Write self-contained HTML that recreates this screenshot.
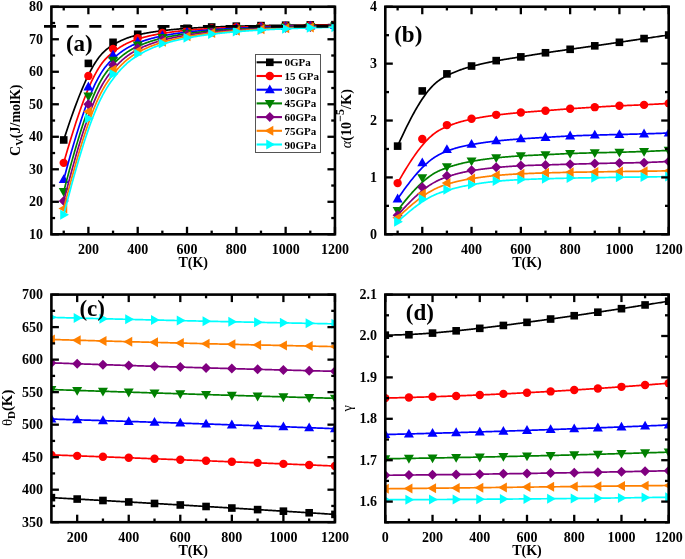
<!DOCTYPE html>
<html><head><meta charset="utf-8"><title>figure</title>
<style>html,body{margin:0;padding:0;background:#fff;}body{width:685px;height:559px;overflow:hidden;}
svg{display:block;will-change:transform;}text{font-family:"Liberation Serif",serif;}</style></head>
<body><svg width="685" height="559" viewBox="0 0 685 559" font-family='"Liberation Serif", serif'><defs><clipPath id="clipa"><rect x="51.4" y="6.75" width="283.55" height="227.55"/></clipPath><clipPath id="clipb"><rect x="385.3" y="6.75" width="283.40000000000003" height="227.55"/></clipPath><clipPath id="clipc"><rect x="51.4" y="294.6" width="283.55" height="227.60000000000002"/></clipPath><clipPath id="clipd"><rect x="385.3" y="294.6" width="283.40000000000003" height="227.69999999999993"/></clipPath></defs>
<g clip-path="url(#clipa)"><polyline points="63.73,139.96 65.38,134.88 66.99,130.00 68.57,125.30 70.11,120.80 71.61,116.48 73.09,112.35 74.53,108.38 75.93,104.59 77.31,100.97 78.65,97.51 79.96,94.21 81.24,91.06 82.50,88.07 83.72,85.22 84.92,82.51 86.09,79.94 87.23,77.50 88.35,75.19 89.45,73.01 90.51,70.94 91.56,69.00 92.58,67.16 93.58,65.43 94.56,63.81 95.52,62.28 96.46,60.85 97.38,59.51 98.28,58.25 99.16,57.08 100.03,55.98 100.88,54.96 101.71,54.01 102.53,53.12 103.34,52.29 104.13,51.52 104.91,50.80 105.67,50.12 106.43,49.49 107.17,48.90 107.91,48.35 108.63,47.82 109.35,47.32 110.05,46.85 110.75,46.39 111.45,45.94 112.14,45.51 112.82,45.09 113.49,44.68 114.16,44.28 114.83,43.89 115.49,43.51 116.14,43.14 116.79,42.79 117.44,42.44 118.07,42.10 118.71,41.77 119.34,41.46 119.96,41.15 120.58,40.85 121.20,40.56 121.81,40.27 122.42,40.00 123.02,39.73 123.63,39.47 124.22,39.22 124.82,38.98 125.41,38.74 126.00,38.51 126.58,38.29 127.16,38.07 127.74,37.86 128.32,37.66 128.89,37.46 129.47,37.27 130.04,37.08 130.61,36.90 131.17,36.72 131.74,36.55 132.30,36.38 132.86,36.22 133.42,36.06 133.98,35.91 134.54,35.75 135.10,35.61 135.66,35.46 136.21,35.32 136.77,35.18 137.33,35.04 137.88,34.91 138.44,34.77 139.00,34.64 139.55,34.51 140.11,34.39 140.66,34.26 141.22,34.14 141.78,34.02 142.33,33.90 142.89,33.79 143.44,33.67 144.00,33.56 144.56,33.45 145.11,33.34 145.67,33.23 146.23,33.13 146.78,33.02 147.34,32.92 147.89,32.82 148.45,32.72 149.01,32.62 149.56,32.53 150.12,32.43 150.67,32.34 151.23,32.25 151.79,32.16 152.34,32.07 152.90,31.98 153.46,31.90 154.01,31.81 154.57,31.73 155.12,31.65 155.68,31.57 156.24,31.49 156.79,31.41 157.35,31.33 157.91,31.26 158.46,31.18 159.02,31.11 159.57,31.03 160.13,30.96 160.69,30.89 161.24,30.82 161.80,30.75 162.35,30.69 162.91,30.62 163.47,30.55 164.02,30.49 164.58,30.42 165.14,30.36 165.69,30.30 166.25,30.24 166.80,30.17 167.36,30.11 167.92,30.05 168.47,30.00 169.03,29.94 169.58,29.88 170.14,29.82 170.70,29.77 171.25,29.71 171.81,29.66 172.37,29.61 172.92,29.55 173.48,29.50 174.03,29.45 174.59,29.40 175.15,29.35 175.70,29.30 176.26,29.25 176.81,29.20 177.37,29.16 177.93,29.11 178.48,29.06 179.04,29.02 179.60,28.97 180.15,28.93 180.71,28.88 181.26,28.84 181.82,28.80 182.38,28.75 182.93,28.71 183.49,28.67 184.04,28.63 184.60,28.59 185.16,28.55 185.71,28.51 186.27,28.47 186.83,28.43 187.38,28.39 187.94,28.35 188.49,28.32 189.05,28.28 189.61,28.24 190.16,28.21 190.72,28.17 191.27,28.14 191.83,28.10 192.39,28.07 192.94,28.03 193.50,28.00 194.06,27.96 194.61,27.93 195.17,27.90 195.72,27.87 196.28,27.83 196.84,27.80 197.39,27.77 197.95,27.74 198.50,27.71 199.06,27.68 199.62,27.65 200.17,27.62 200.73,27.59 201.29,27.56 201.84,27.53 202.40,27.50 202.95,27.48 203.51,27.45 204.07,27.42 204.62,27.39 205.18,27.37 205.73,27.34 206.29,27.31 206.85,27.29 207.40,27.26 207.96,27.24 208.52,27.21 209.07,27.18 209.63,27.16 210.18,27.14 210.74,27.11 211.30,27.09 211.85,27.06 212.41,27.04 212.97,27.02 213.52,26.99 214.08,26.97 214.63,26.95 215.19,26.92 215.75,26.90 216.30,26.88 216.86,26.86 217.41,26.84 217.97,26.81 218.53,26.79 219.08,26.77 219.64,26.75 220.20,26.73 220.75,26.71 221.31,26.69 221.86,26.67 222.42,26.65 222.98,26.63 223.53,26.61 224.09,26.59 224.64,26.57 225.20,26.55 225.76,26.53 226.31,26.52 226.87,26.50 227.43,26.48 227.98,26.46 228.54,26.44 229.09,26.42 229.65,26.41 230.21,26.39 230.76,26.37 231.32,26.35 231.87,26.34 232.43,26.32 232.99,26.30 233.54,26.29 234.10,26.27 234.66,26.25 235.21,26.24 235.77,26.22 236.32,26.21 236.88,26.19 237.44,26.18 237.99,26.16 238.55,26.14 239.10,26.13 239.66,26.11 240.22,26.10 240.77,26.08 241.33,26.07 241.89,26.05 242.44,26.04 243.00,26.03 243.55,26.01 244.11,26.00 244.67,25.98 245.22,25.97 245.78,25.96 246.33,25.94 246.89,25.93 247.45,25.92 248.00,25.90 248.56,25.89 249.12,25.88 249.67,25.86 250.23,25.85 250.78,25.84 251.34,25.82 251.90,25.81 252.45,25.80 253.01,25.79 253.56,25.77 254.12,25.76 254.68,25.75 255.23,25.74 255.79,25.73 256.35,25.71 256.90,25.70 257.46,25.69 258.01,25.68 258.57,25.67 259.13,25.66 259.68,25.65 260.24,25.63 260.80,25.62 261.35,25.61 261.91,25.60 262.46,25.59 263.02,25.58 263.58,25.57 264.14,25.56 264.70,25.55 265.25,25.54 265.82,25.53 266.38,25.52 266.94,25.51 267.51,25.50 268.07,25.49 268.64,25.48 269.21,25.47 269.78,25.46 270.36,25.45 270.94,25.44 271.52,25.43 272.10,25.42 272.68,25.41 273.27,25.40 273.86,25.39 274.46,25.38 275.05,25.37 275.65,25.36 276.26,25.35 276.87,25.34 277.48,25.33 278.10,25.32 278.72,25.31 279.34,25.30 279.97,25.29 280.60,25.28 281.24,25.27 281.89,25.26 282.54,25.25 283.19,25.24 283.85,25.23 284.51,25.22 285.18,25.21 285.86,25.20 286.54,25.19 287.23,25.19 287.92,25.18 288.62,25.17 289.33,25.16 290.05,25.15 290.77,25.14 291.51,25.13 292.25,25.12 293.00,25.11 293.77,25.10 294.55,25.09 295.34,25.08 296.15,25.07 296.96,25.06 297.80,25.05 298.65,25.04 299.51,25.03 300.40,25.01 301.30,25.00 302.22,24.99 303.16,24.98 304.12,24.97 305.09,24.96 306.10,24.95 307.12,24.94 308.16,24.93 309.23,24.91 310.33,24.90 311.44,24.89 312.59,24.88 313.76,24.87 314.96,24.85 316.18,24.84 317.43,24.83 318.72,24.82 320.03,24.80 321.37,24.79 322.75,24.78 324.15,24.76 325.59,24.75 327.06,24.73 328.57,24.72 330.11,24.70 331.69,24.69 333.30,24.67 334.95,24.66" fill="none" stroke="#000000" stroke-width="1.7" stroke-linejoin="round"/><rect x="59.93" y="136.16" width="7.60" height="7.60" fill="#000000"/><rect x="84.58" y="59.59" width="7.60" height="7.60" fill="#000000"/><rect x="109.24" y="38.51" width="7.60" height="7.60" fill="#000000"/><rect x="133.90" y="30.45" width="7.60" height="7.60" fill="#000000"/><rect x="158.55" y="26.60" width="7.60" height="7.60" fill="#000000"/><rect x="183.21" y="24.48" width="7.60" height="7.60" fill="#000000"/><rect x="207.87" y="23.20" width="7.60" height="7.60" fill="#000000"/><rect x="232.52" y="22.36" width="7.60" height="7.60" fill="#000000"/><rect x="257.18" y="21.79" width="7.60" height="7.60" fill="#000000"/><rect x="281.84" y="21.39" width="7.60" height="7.60" fill="#000000"/><rect x="306.49" y="21.09" width="7.60" height="7.60" fill="#000000"/><rect x="331.15" y="20.86" width="7.60" height="7.60" fill="#000000"/><polyline points="63.73,162.86 65.38,157.09 66.99,151.54 68.57,146.20 70.11,141.07 71.61,136.15 73.09,131.43 74.53,126.90 75.93,122.57 77.31,118.42 78.65,114.45 79.96,110.66 81.24,107.04 82.50,103.59 83.72,100.31 84.92,97.18 86.09,94.20 87.23,91.38 88.35,88.70 89.45,86.15 90.51,83.74 91.56,81.47 92.58,79.31 93.58,77.28 94.56,75.36 95.52,73.56 96.46,71.86 97.38,70.26 98.28,68.76 99.16,67.35 100.03,66.03 100.88,64.79 101.71,63.63 102.53,62.55 103.34,61.53 104.13,60.57 104.91,59.68 105.67,58.84 106.43,58.05 107.17,57.30 107.91,56.59 108.63,55.92 109.35,55.28 110.05,54.67 110.75,54.08 111.45,53.51 112.14,52.95 112.82,52.40 113.49,51.87 114.16,51.35 114.83,50.85 115.49,50.36 116.14,49.89 116.79,49.42 117.44,48.97 118.07,48.53 118.71,48.11 119.34,47.70 119.96,47.29 120.58,46.90 121.20,46.52 121.81,46.16 122.42,45.80 123.02,45.45 123.63,45.11 124.22,44.78 124.82,44.46 125.41,44.15 126.00,43.85 126.58,43.56 127.16,43.28 127.74,43.00 128.32,42.73 128.89,42.47 129.47,42.22 130.04,41.97 130.61,41.73 131.17,41.50 131.74,41.27 132.30,41.05 132.86,40.83 133.42,40.62 133.98,40.41 134.54,40.21 135.10,40.01 135.66,39.82 136.21,39.63 136.77,39.44 137.33,39.26 137.88,39.08 138.44,38.90 139.00,38.73 139.55,38.56 140.11,38.39 140.66,38.22 141.22,38.06 141.78,37.90 142.33,37.74 142.89,37.58 143.44,37.43 144.00,37.28 144.56,37.13 145.11,36.98 145.67,36.84 146.23,36.70 146.78,36.56 147.34,36.42 147.89,36.29 148.45,36.15 149.01,36.02 149.56,35.89 150.12,35.77 150.67,35.64 151.23,35.52 151.79,35.40 152.34,35.28 152.90,35.16 153.46,35.05 154.01,34.93 154.57,34.82 155.12,34.71 155.68,34.60 156.24,34.49 156.79,34.39 157.35,34.28 157.91,34.18 158.46,34.08 159.02,33.98 159.57,33.88 160.13,33.79 160.69,33.69 161.24,33.60 161.80,33.50 162.35,33.41 162.91,33.32 163.47,33.23 164.02,33.15 164.58,33.06 165.14,32.97 165.69,32.89 166.25,32.80 166.80,32.72 167.36,32.64 167.92,32.56 168.47,32.48 169.03,32.40 169.58,32.32 170.14,32.25 170.70,32.17 171.25,32.10 171.81,32.02 172.37,31.95 172.92,31.88 173.48,31.81 174.03,31.74 174.59,31.67 175.15,31.60 175.70,31.53 176.26,31.47 176.81,31.40 177.37,31.34 177.93,31.27 178.48,31.21 179.04,31.15 179.60,31.09 180.15,31.03 180.71,30.97 181.26,30.91 181.82,30.85 182.38,30.79 182.93,30.73 183.49,30.68 184.04,30.62 184.60,30.57 185.16,30.51 185.71,30.46 186.27,30.40 186.83,30.35 187.38,30.30 187.94,30.25 188.49,30.20 189.05,30.15 189.61,30.10 190.16,30.05 190.72,30.00 191.27,29.95 191.83,29.90 192.39,29.85 192.94,29.81 193.50,29.76 194.06,29.71 194.61,29.67 195.17,29.62 195.72,29.58 196.28,29.54 196.84,29.49 197.39,29.45 197.95,29.41 198.50,29.37 199.06,29.32 199.62,29.28 200.17,29.24 200.73,29.20 201.29,29.16 201.84,29.12 202.40,29.08 202.95,29.05 203.51,29.01 204.07,28.97 204.62,28.93 205.18,28.90 205.73,28.86 206.29,28.82 206.85,28.79 207.40,28.75 207.96,28.72 208.52,28.68 209.07,28.65 209.63,28.61 210.18,28.58 210.74,28.55 211.30,28.51 211.85,28.48 212.41,28.45 212.97,28.42 213.52,28.38 214.08,28.35 214.63,28.32 215.19,28.29 215.75,28.26 216.30,28.23 216.86,28.20 217.41,28.17 217.97,28.14 218.53,28.11 219.08,28.08 219.64,28.05 220.20,28.02 220.75,28.00 221.31,27.97 221.86,27.94 222.42,27.91 222.98,27.89 223.53,27.86 224.09,27.83 224.64,27.81 225.20,27.78 225.76,27.75 226.31,27.73 226.87,27.70 227.43,27.68 227.98,27.65 228.54,27.63 229.09,27.60 229.65,27.58 230.21,27.55 230.76,27.53 231.32,27.51 231.87,27.48 232.43,27.46 232.99,27.44 233.54,27.41 234.10,27.39 234.66,27.37 235.21,27.35 235.77,27.32 236.32,27.30 236.88,27.28 237.44,27.26 237.99,27.24 238.55,27.22 239.10,27.20 239.66,27.18 240.22,27.15 240.77,27.13 241.33,27.11 241.89,27.09 242.44,27.07 243.00,27.05 243.55,27.03 244.11,27.01 244.67,27.00 245.22,26.98 245.78,26.96 246.33,26.94 246.89,26.92 247.45,26.90 248.00,26.88 248.56,26.86 249.12,26.85 249.67,26.83 250.23,26.81 250.78,26.79 251.34,26.78 251.90,26.76 252.45,26.74 253.01,26.72 253.56,26.71 254.12,26.69 254.68,26.67 255.23,26.66 255.79,26.64 256.35,26.62 256.90,26.61 257.46,26.59 258.01,26.58 258.57,26.56 259.13,26.54 259.68,26.53 260.24,26.51 260.80,26.50 261.35,26.48 261.91,26.47 262.46,26.45 263.02,26.44 263.58,26.42 264.14,26.41 264.70,26.39 265.25,26.38 265.82,26.36 266.38,26.35 266.94,26.34 267.51,26.32 268.07,26.31 268.64,26.29 269.21,26.28 269.78,26.27 270.36,26.25 270.94,26.24 271.52,26.22 272.10,26.21 272.68,26.20 273.27,26.18 273.86,26.17 274.46,26.16 275.05,26.14 275.65,26.13 276.26,26.12 276.87,26.10 277.48,26.09 278.10,26.08 278.72,26.06 279.34,26.05 279.97,26.04 280.60,26.02 281.24,26.01 281.89,26.00 282.54,25.98 283.19,25.97 283.85,25.96 284.51,25.94 285.18,25.93 285.86,25.92 286.54,25.90 287.23,25.89 287.92,25.88 288.62,25.86 289.33,25.85 290.05,25.84 290.77,25.82 291.51,25.81 292.25,25.80 293.00,25.78 293.77,25.77 294.55,25.75 295.34,25.74 296.15,25.73 296.96,25.71 297.80,25.70 298.65,25.68 299.51,25.67 300.40,25.65 301.30,25.64 302.22,25.62 303.16,25.61 304.12,25.59 305.09,25.58 306.10,25.56 307.12,25.55 308.16,25.53 309.23,25.51 310.33,25.50 311.44,25.48 312.59,25.46 313.76,25.45 314.96,25.43 316.18,25.41 317.43,25.39 318.72,25.37 320.03,25.36 321.37,25.34 322.75,25.32 324.15,25.30 325.59,25.28 327.06,25.26 328.57,25.24 330.11,25.22 331.69,25.20 333.30,25.18 334.95,25.16" fill="none" stroke="#FF0000" stroke-width="1.7" stroke-linejoin="round"/><circle cx="63.73" cy="162.86" r="4.20" fill="#FF0000"/><circle cx="88.38" cy="75.91" r="4.20" fill="#FF0000"/><circle cx="113.04" cy="48.92" r="4.20" fill="#FF0000"/><circle cx="137.70" cy="38.22" r="4.20" fill="#FF0000"/><circle cx="162.35" cy="33.03" r="4.20" fill="#FF0000"/><circle cx="187.01" cy="30.15" r="4.20" fill="#FF0000"/><circle cx="211.67" cy="28.39" r="4.20" fill="#FF0000"/><circle cx="236.32" cy="27.24" r="4.20" fill="#FF0000"/><circle cx="260.98" cy="26.46" r="4.20" fill="#FF0000"/><circle cx="285.64" cy="25.89" r="4.20" fill="#FF0000"/><circle cx="310.29" cy="25.47" r="4.20" fill="#FF0000"/><circle cx="334.95" cy="25.16" r="4.20" fill="#FF0000"/><polyline points="63.73,179.59 65.38,173.43 66.99,167.50 68.57,161.80 70.11,156.32 71.61,151.05 73.09,145.99 74.53,141.13 75.93,136.48 77.31,132.02 78.65,127.75 79.96,123.66 81.24,119.76 82.50,116.03 83.72,112.48 84.92,109.09 86.09,105.86 87.23,102.78 88.35,99.86 89.45,97.09 90.51,94.45 91.56,91.96 92.58,89.59 93.58,87.35 94.56,85.23 95.52,83.23 96.46,81.35 97.38,79.57 98.28,77.89 99.16,76.31 100.03,74.82 100.88,73.42 101.71,72.10 102.53,70.86 103.34,69.70 104.13,68.60 104.91,67.57 105.67,66.59 106.43,65.67 107.17,64.79 107.91,63.96 108.63,63.17 109.35,62.42 110.05,61.69 110.75,60.98 111.45,60.30 112.14,59.63 112.82,58.98 113.49,58.35 114.16,57.73 114.83,57.13 115.49,56.55 116.14,55.98 116.79,55.43 117.44,54.89 118.07,54.37 118.71,53.86 119.34,53.36 119.96,52.88 120.58,52.41 121.20,51.95 121.81,51.51 122.42,51.08 123.02,50.66 123.63,50.25 124.22,49.86 124.82,49.47 125.41,49.10 126.00,48.73 126.58,48.38 127.16,48.04 127.74,47.70 128.32,47.38 128.89,47.06 129.47,46.75 130.04,46.45 130.61,46.16 131.17,45.88 131.74,45.60 132.30,45.33 132.86,45.06 133.42,44.80 133.98,44.55 134.54,44.31 135.10,44.06 135.66,43.83 136.21,43.60 136.77,43.37 137.33,43.14 137.88,42.92 138.44,42.71 139.00,42.49 139.55,42.28 140.11,42.07 140.66,41.87 141.22,41.67 141.78,41.47 142.33,41.28 142.89,41.09 143.44,40.90 144.00,40.71 144.56,40.53 145.11,40.35 145.67,40.17 146.23,40.00 146.78,39.83 147.34,39.66 147.89,39.49 148.45,39.33 149.01,39.16 149.56,39.01 150.12,38.85 150.67,38.70 151.23,38.54 151.79,38.39 152.34,38.25 152.90,38.10 153.46,37.96 154.01,37.82 154.57,37.68 155.12,37.54 155.68,37.41 156.24,37.28 156.79,37.15 157.35,37.02 157.91,36.89 158.46,36.77 159.02,36.64 159.57,36.52 160.13,36.40 160.69,36.28 161.24,36.17 161.80,36.05 162.35,35.94 162.91,35.83 163.47,35.72 164.02,35.61 164.58,35.50 165.14,35.39 165.69,35.29 166.25,35.18 166.80,35.08 167.36,34.98 167.92,34.88 168.47,34.78 169.03,34.68 169.58,34.59 170.14,34.49 170.70,34.40 171.25,34.30 171.81,34.21 172.37,34.12 172.92,34.03 173.48,33.95 174.03,33.86 174.59,33.77 175.15,33.69 175.70,33.60 176.26,33.52 176.81,33.44 177.37,33.36 177.93,33.28 178.48,33.20 179.04,33.12 179.60,33.05 180.15,32.97 180.71,32.90 181.26,32.82 181.82,32.75 182.38,32.68 182.93,32.61 183.49,32.54 184.04,32.47 184.60,32.40 185.16,32.33 185.71,32.26 186.27,32.19 186.83,32.13 187.38,32.06 187.94,32.00 188.49,31.94 189.05,31.87 189.61,31.81 190.16,31.75 190.72,31.69 191.27,31.63 191.83,31.57 192.39,31.51 192.94,31.45 193.50,31.39 194.06,31.33 194.61,31.28 195.17,31.22 195.72,31.17 196.28,31.11 196.84,31.06 197.39,31.00 197.95,30.95 198.50,30.90 199.06,30.85 199.62,30.79 200.17,30.74 200.73,30.69 201.29,30.64 201.84,30.59 202.40,30.55 202.95,30.50 203.51,30.45 204.07,30.40 204.62,30.36 205.18,30.31 205.73,30.26 206.29,30.22 206.85,30.17 207.40,30.13 207.96,30.08 208.52,30.04 209.07,30.00 209.63,29.96 210.18,29.91 210.74,29.87 211.30,29.83 211.85,29.79 212.41,29.75 212.97,29.71 213.52,29.67 214.08,29.63 214.63,29.59 215.19,29.55 215.75,29.51 216.30,29.47 216.86,29.44 217.41,29.40 217.97,29.36 218.53,29.32 219.08,29.29 219.64,29.25 220.20,29.22 220.75,29.18 221.31,29.15 221.86,29.11 222.42,29.08 222.98,29.04 223.53,29.01 224.09,28.98 224.64,28.94 225.20,28.91 225.76,28.88 226.31,28.84 226.87,28.81 227.43,28.78 227.98,28.75 228.54,28.72 229.09,28.69 229.65,28.66 230.21,28.63 230.76,28.60 231.32,28.57 231.87,28.54 232.43,28.51 232.99,28.48 233.54,28.45 234.10,28.42 234.66,28.39 235.21,28.37 235.77,28.34 236.32,28.31 236.88,28.28 237.44,28.26 237.99,28.23 238.55,28.20 239.10,28.18 239.66,28.15 240.22,28.12 240.77,28.10 241.33,28.07 241.89,28.05 242.44,28.02 243.00,28.00 243.55,27.97 244.11,27.95 244.67,27.92 245.22,27.90 245.78,27.88 246.33,27.85 246.89,27.83 247.45,27.80 248.00,27.78 248.56,27.76 249.12,27.74 249.67,27.71 250.23,27.69 250.78,27.67 251.34,27.65 251.90,27.62 252.45,27.60 253.01,27.58 253.56,27.56 254.12,27.54 254.68,27.52 255.23,27.50 255.79,27.48 256.35,27.46 256.90,27.44 257.46,27.41 258.01,27.39 258.57,27.37 259.13,27.36 259.68,27.34 260.24,27.32 260.80,27.30 261.35,27.28 261.91,27.26 262.46,27.24 263.02,27.22 263.58,27.20 264.14,27.18 264.70,27.17 265.25,27.15 265.82,27.13 266.38,27.11 266.94,27.09 267.51,27.07 268.07,27.06 268.64,27.04 269.21,27.02 269.78,27.00 270.36,26.99 270.94,26.97 271.52,26.95 272.10,26.93 272.68,26.92 273.27,26.90 273.86,26.88 274.46,26.87 275.05,26.85 275.65,26.83 276.26,26.82 276.87,26.80 277.48,26.78 278.10,26.77 278.72,26.75 279.34,26.73 279.97,26.71 280.60,26.70 281.24,26.68 281.89,26.66 282.54,26.65 283.19,26.63 283.85,26.61 284.51,26.60 285.18,26.58 285.86,26.56 286.54,26.55 287.23,26.53 287.92,26.51 288.62,26.50 289.33,26.48 290.05,26.46 290.77,26.44 291.51,26.43 292.25,26.41 293.00,26.39 293.77,26.38 294.55,26.36 295.34,26.34 296.15,26.32 296.96,26.30 297.80,26.29 298.65,26.27 299.51,26.25 300.40,26.23 301.30,26.21 302.22,26.19 303.16,26.17 304.12,26.15 305.09,26.13 306.10,26.11 307.12,26.09 308.16,26.07 309.23,26.05 310.33,26.03 311.44,26.01 312.59,25.99 313.76,25.97 314.96,25.95 316.18,25.92 317.43,25.90 318.72,25.88 320.03,25.86 321.37,25.83 322.75,25.81 324.15,25.78 325.59,25.76 327.06,25.73 328.57,25.71 330.11,25.68 331.69,25.66 333.30,25.63 334.95,25.60" fill="none" stroke="#0000FF" stroke-width="1.7" stroke-linejoin="round"/><polygon points="63.73,174.31 68.73,183.11 58.73,183.11" fill="#0000FF"/><polygon points="88.38,81.59 93.38,90.39 83.38,90.39" fill="#0000FF"/><polygon points="113.04,49.67 118.04,58.47 108.04,58.47" fill="#0000FF"/><polygon points="137.70,36.61 142.70,45.41 132.70,45.41" fill="#0000FF"/><polygon points="162.35,30.19 167.35,38.99 157.35,38.99" fill="#0000FF"/><polygon points="187.01,26.59 192.01,35.39 182.01,35.39" fill="#0000FF"/><polygon points="211.67,24.40 216.67,33.20 206.67,33.20" fill="#0000FF"/><polygon points="236.32,22.96 241.32,31.76 231.32,31.76" fill="#0000FF"/><polygon points="260.98,21.96 265.98,30.76 255.98,30.76" fill="#0000FF"/><polygon points="285.64,21.25 290.64,30.05 280.64,30.05" fill="#0000FF"/><polygon points="310.29,20.72 315.29,29.52 305.29,29.52" fill="#0000FF"/><polygon points="334.95,20.32 339.95,29.12 329.95,29.12" fill="#0000FF"/><polyline points="63.73,191.60 65.38,185.25 66.99,179.13 68.57,173.24 70.11,167.57 71.61,162.11 73.09,156.87 74.53,151.84 75.93,147.01 77.31,142.38 78.65,137.94 79.96,133.69 81.24,129.63 82.50,125.74 83.72,122.02 84.92,118.47 86.09,115.09 87.23,111.87 88.35,108.80 89.45,105.87 90.51,103.10 91.56,100.46 92.58,97.95 93.58,95.58 94.56,93.33 95.52,91.19 96.46,89.18 97.38,87.27 98.28,85.47 99.16,83.76 100.03,82.15 100.88,80.64 101.71,79.20 102.53,77.85 103.34,76.57 104.13,75.37 104.91,74.22 105.67,73.14 106.43,72.12 107.17,71.14 107.91,70.21 108.63,69.33 109.35,68.47 110.05,67.65 110.75,66.86 111.45,66.09 112.14,65.33 112.82,64.60 113.49,63.88 114.16,63.19 114.83,62.51 115.49,61.84 116.14,61.20 116.79,60.57 117.44,59.96 118.07,59.37 118.71,58.79 119.34,58.23 119.96,57.68 120.58,57.14 121.20,56.63 121.81,56.12 122.42,55.63 123.02,55.15 123.63,54.69 124.22,54.24 124.82,53.80 125.41,53.37 126.00,52.95 126.58,52.55 127.16,52.16 127.74,51.77 128.32,51.40 128.89,51.04 129.47,50.68 130.04,50.34 130.61,50.00 131.17,49.67 131.74,49.35 132.30,49.04 132.86,48.74 133.42,48.44 133.98,48.15 134.54,47.86 135.10,47.58 135.66,47.31 136.21,47.04 136.77,46.78 137.33,46.52 137.88,46.26 138.44,46.01 139.00,45.77 139.55,45.52 140.11,45.28 140.66,45.05 141.22,44.81 141.78,44.58 142.33,44.36 142.89,44.14 143.44,43.92 144.00,43.70 144.56,43.49 145.11,43.28 145.67,43.08 146.23,42.87 146.78,42.67 147.34,42.48 147.89,42.28 148.45,42.09 149.01,41.91 149.56,41.72 150.12,41.54 150.67,41.36 151.23,41.18 151.79,41.01 152.34,40.84 152.90,40.67 153.46,40.50 154.01,40.34 154.57,40.18 155.12,40.02 155.68,39.86 156.24,39.71 156.79,39.56 157.35,39.41 157.91,39.26 158.46,39.11 159.02,38.97 159.57,38.83 160.13,38.69 160.69,38.55 161.24,38.41 161.80,38.28 162.35,38.15 162.91,38.01 163.47,37.88 164.02,37.76 164.58,37.63 165.14,37.51 165.69,37.38 166.25,37.26 166.80,37.14 167.36,37.02 167.92,36.91 168.47,36.79 169.03,36.68 169.58,36.56 170.14,36.45 170.70,36.34 171.25,36.23 171.81,36.13 172.37,36.02 172.92,35.92 173.48,35.82 174.03,35.71 174.59,35.61 175.15,35.51 175.70,35.42 176.26,35.32 176.81,35.22 177.37,35.13 177.93,35.04 178.48,34.94 179.04,34.85 179.60,34.76 180.15,34.67 180.71,34.59 181.26,34.50 181.82,34.41 182.38,34.33 182.93,34.25 183.49,34.16 184.04,34.08 184.60,34.00 185.16,33.92 185.71,33.84 186.27,33.76 186.83,33.69 187.38,33.61 187.94,33.53 188.49,33.46 189.05,33.39 189.61,33.31 190.16,33.24 190.72,33.17 191.27,33.10 191.83,33.03 192.39,32.96 192.94,32.89 193.50,32.82 194.06,32.75 194.61,32.69 195.17,32.62 195.72,32.56 196.28,32.49 196.84,32.43 197.39,32.37 197.95,32.30 198.50,32.24 199.06,32.18 199.62,32.12 200.17,32.06 200.73,32.00 201.29,31.94 201.84,31.88 202.40,31.83 202.95,31.77 203.51,31.71 204.07,31.66 204.62,31.60 205.18,31.55 205.73,31.50 206.29,31.44 206.85,31.39 207.40,31.34 207.96,31.29 208.52,31.23 209.07,31.18 209.63,31.13 210.18,31.08 210.74,31.03 211.30,30.99 211.85,30.94 212.41,30.89 212.97,30.84 213.52,30.79 214.08,30.75 214.63,30.70 215.19,30.66 215.75,30.61 216.30,30.57 216.86,30.52 217.41,30.48 217.97,30.43 218.53,30.39 219.08,30.35 219.64,30.31 220.20,30.26 220.75,30.22 221.31,30.18 221.86,30.14 222.42,30.10 222.98,30.06 223.53,30.02 224.09,29.98 224.64,29.94 225.20,29.90 225.76,29.86 226.31,29.83 226.87,29.79 227.43,29.75 227.98,29.71 228.54,29.68 229.09,29.64 229.65,29.61 230.21,29.57 230.76,29.53 231.32,29.50 231.87,29.47 232.43,29.43 232.99,29.40 233.54,29.36 234.10,29.33 234.66,29.30 235.21,29.26 235.77,29.23 236.32,29.20 236.88,29.17 237.44,29.13 237.99,29.10 238.55,29.07 239.10,29.04 239.66,29.01 240.22,28.98 240.77,28.95 241.33,28.92 241.89,28.89 242.44,28.86 243.00,28.83 243.55,28.80 244.11,28.77 244.67,28.74 245.22,28.71 245.78,28.69 246.33,28.66 246.89,28.63 247.45,28.60 248.00,28.57 248.56,28.55 249.12,28.52 249.67,28.49 250.23,28.47 250.78,28.44 251.34,28.42 251.90,28.39 252.45,28.36 253.01,28.34 253.56,28.31 254.12,28.29 254.68,28.26 255.23,28.24 255.79,28.21 256.35,28.19 256.90,28.17 257.46,28.14 258.01,28.12 258.57,28.10 259.13,28.07 259.68,28.05 260.24,28.03 260.80,28.00 261.35,27.98 261.91,27.96 262.46,27.94 263.02,27.91 263.58,27.89 264.14,27.87 264.70,27.85 265.25,27.83 265.82,27.81 266.38,27.78 266.94,27.76 267.51,27.74 268.07,27.72 268.64,27.70 269.21,27.68 269.78,27.66 270.36,27.64 270.94,27.62 271.52,27.60 272.10,27.58 272.68,27.56 273.27,27.54 273.86,27.52 274.46,27.50 275.05,27.48 275.65,27.46 276.26,27.44 276.87,27.42 277.48,27.40 278.10,27.38 278.72,27.36 279.34,27.34 279.97,27.32 280.60,27.30 281.24,27.28 281.89,27.26 282.54,27.24 283.19,27.22 283.85,27.20 284.51,27.18 285.18,27.16 285.86,27.14 286.54,27.12 287.23,27.10 287.92,27.08 288.62,27.06 289.33,27.04 290.05,27.02 290.77,27.00 291.51,26.98 292.25,26.96 293.00,26.94 293.77,26.92 294.55,26.90 295.34,26.87 296.15,26.85 296.96,26.83 297.80,26.81 298.65,26.79 299.51,26.77 300.40,26.75 301.30,26.72 302.22,26.70 303.16,26.68 304.12,26.66 305.09,26.63 306.10,26.61 307.12,26.59 308.16,26.56 309.23,26.54 310.33,26.51 311.44,26.49 312.59,26.46 313.76,26.44 314.96,26.41 316.18,26.38 317.43,26.36 318.72,26.33 320.03,26.30 321.37,26.28 322.75,26.25 324.15,26.22 325.59,26.19 327.06,26.16 328.57,26.13 330.11,26.10 331.69,26.07 333.30,26.04 334.95,26.01" fill="none" stroke="#008000" stroke-width="1.7" stroke-linejoin="round"/><polygon points="63.73,196.88 68.73,188.08 58.73,188.08" fill="#008000"/><polygon points="88.38,101.27 93.38,92.47 83.38,92.47" fill="#008000"/><polygon points="113.04,65.43 118.04,56.63 108.04,56.63" fill="#008000"/><polygon points="137.70,50.37 142.70,41.57 132.70,41.57" fill="#008000"/><polygon points="162.35,42.88 167.35,34.08 157.35,34.08" fill="#008000"/><polygon points="187.01,38.67 192.01,29.87 182.01,29.87" fill="#008000"/><polygon points="211.67,36.09 216.67,27.29 206.67,27.29" fill="#008000"/><polygon points="236.32,34.39 241.32,25.59 231.32,25.59" fill="#008000"/><polygon points="260.98,33.22 265.98,24.42 255.98,24.42" fill="#008000"/><polygon points="285.64,32.38 290.64,23.58 280.64,23.58" fill="#008000"/><polygon points="310.29,31.76 315.29,22.96 305.29,22.96" fill="#008000"/><polygon points="334.95,31.29 339.95,22.49 329.95,22.49" fill="#008000"/><polyline points="63.73,201.12 65.38,194.69 66.99,188.48 68.57,182.50 70.11,176.75 71.61,171.21 73.09,165.88 74.53,160.76 75.93,155.84 77.31,151.11 78.65,146.58 79.96,142.24 81.24,138.08 82.50,134.09 83.72,130.28 84.92,126.64 86.09,123.16 87.23,119.84 88.35,116.67 89.45,113.65 90.51,110.78 91.56,108.04 92.58,105.44 93.58,102.97 94.56,100.62 95.52,98.39 96.46,96.28 97.38,94.27 98.28,92.37 99.16,90.58 100.03,88.87 100.88,87.26 101.71,85.73 102.53,84.29 103.34,82.92 104.13,81.62 104.91,80.39 105.67,79.22 106.43,78.11 107.17,77.05 107.91,76.03 108.63,75.06 109.35,74.13 110.05,73.22 110.75,72.35 111.45,71.50 112.14,70.67 112.82,69.86 113.49,69.07 114.16,68.30 114.83,67.55 115.49,66.82 116.14,66.11 116.79,65.42 117.44,64.75 118.07,64.09 118.71,63.45 119.34,62.82 119.96,62.22 120.58,61.63 121.20,61.05 121.81,60.49 122.42,59.95 123.02,59.42 123.63,58.90 124.22,58.40 124.82,57.91 125.41,57.43 126.00,56.97 126.58,56.52 127.16,56.08 127.74,55.65 128.32,55.24 128.89,54.83 129.47,54.43 130.04,54.05 130.61,53.67 131.17,53.31 131.74,52.95 132.30,52.60 132.86,52.26 133.42,51.92 133.98,51.59 134.54,51.27 135.10,50.96 135.66,50.65 136.21,50.35 136.77,50.05 137.33,49.76 137.88,49.47 138.44,49.19 139.00,48.91 139.55,48.64 140.11,48.37 140.66,48.10 141.22,47.84 141.78,47.58 142.33,47.32 142.89,47.07 143.44,46.83 144.00,46.58 144.56,46.34 145.11,46.11 145.67,45.87 146.23,45.65 146.78,45.42 147.34,45.20 147.89,44.98 148.45,44.76 149.01,44.55 149.56,44.34 150.12,44.14 150.67,43.93 151.23,43.73 151.79,43.54 152.34,43.34 152.90,43.15 153.46,42.96 154.01,42.78 154.57,42.59 155.12,42.41 155.68,42.24 156.24,42.06 156.79,41.89 157.35,41.72 157.91,41.55 158.46,41.38 159.02,41.22 159.57,41.06 160.13,40.90 160.69,40.74 161.24,40.59 161.80,40.44 162.35,40.29 162.91,40.14 163.47,39.99 164.02,39.84 164.58,39.70 165.14,39.56 165.69,39.42 166.25,39.28 166.80,39.14 167.36,39.01 167.92,38.88 168.47,38.74 169.03,38.61 169.58,38.49 170.14,38.36 170.70,38.23 171.25,38.11 171.81,37.99 172.37,37.87 172.92,37.75 173.48,37.63 174.03,37.52 174.59,37.40 175.15,37.29 175.70,37.18 176.26,37.07 176.81,36.96 177.37,36.85 177.93,36.74 178.48,36.64 179.04,36.54 179.60,36.43 180.15,36.33 180.71,36.23 181.26,36.13 181.82,36.03 182.38,35.94 182.93,35.84 183.49,35.75 184.04,35.65 184.60,35.56 185.16,35.47 185.71,35.38 186.27,35.29 186.83,35.20 187.38,35.12 187.94,35.03 188.49,34.94 189.05,34.86 189.61,34.78 190.16,34.69 190.72,34.61 191.27,34.53 191.83,34.45 192.39,34.37 192.94,34.29 193.50,34.21 194.06,34.14 194.61,34.06 195.17,33.99 195.72,33.91 196.28,33.84 196.84,33.76 197.39,33.69 197.95,33.62 198.50,33.55 199.06,33.48 199.62,33.41 200.17,33.34 200.73,33.28 201.29,33.21 201.84,33.14 202.40,33.08 202.95,33.01 203.51,32.95 204.07,32.88 204.62,32.82 205.18,32.76 205.73,32.70 206.29,32.64 206.85,32.58 207.40,32.52 207.96,32.46 208.52,32.40 209.07,32.34 209.63,32.28 210.18,32.23 210.74,32.17 211.30,32.11 211.85,32.06 212.41,32.00 212.97,31.95 213.52,31.90 214.08,31.84 214.63,31.79 215.19,31.74 215.75,31.68 216.30,31.63 216.86,31.58 217.41,31.53 217.97,31.48 218.53,31.43 219.08,31.38 219.64,31.33 220.20,31.29 220.75,31.24 221.31,31.19 221.86,31.14 222.42,31.10 222.98,31.05 223.53,31.01 224.09,30.96 224.64,30.92 225.20,30.87 225.76,30.83 226.31,30.78 226.87,30.74 227.43,30.70 227.98,30.66 228.54,30.61 229.09,30.57 229.65,30.53 230.21,30.49 230.76,30.45 231.32,30.41 231.87,30.37 232.43,30.33 232.99,30.29 233.54,30.25 234.10,30.21 234.66,30.18 235.21,30.14 235.77,30.10 236.32,30.06 236.88,30.03 237.44,29.99 237.99,29.95 238.55,29.92 239.10,29.88 239.66,29.85 240.22,29.81 240.77,29.78 241.33,29.74 241.89,29.71 242.44,29.67 243.00,29.64 243.55,29.61 244.11,29.57 244.67,29.54 245.22,29.51 245.78,29.47 246.33,29.44 246.89,29.41 247.45,29.38 248.00,29.35 248.56,29.32 249.12,29.29 249.67,29.26 250.23,29.22 250.78,29.19 251.34,29.16 251.90,29.14 252.45,29.11 253.01,29.08 253.56,29.05 254.12,29.02 254.68,28.99 255.23,28.96 255.79,28.93 256.35,28.91 256.90,28.88 257.46,28.85 258.01,28.82 258.57,28.80 259.13,28.77 259.68,28.74 260.24,28.72 260.80,28.69 261.35,28.67 261.91,28.64 262.46,28.61 263.02,28.59 263.58,28.56 264.14,28.54 264.70,28.51 265.25,28.49 265.82,28.46 266.38,28.44 266.94,28.41 267.51,28.39 268.07,28.37 268.64,28.34 269.21,28.32 269.78,28.29 270.36,28.27 270.94,28.25 271.52,28.22 272.10,28.20 272.68,28.18 273.27,28.15 273.86,28.13 274.46,28.11 275.05,28.08 275.65,28.06 276.26,28.04 276.87,28.02 277.48,27.99 278.10,27.97 278.72,27.95 279.34,27.93 279.97,27.90 280.60,27.88 281.24,27.86 281.89,27.83 282.54,27.81 283.19,27.79 283.85,27.77 284.51,27.74 285.18,27.72 285.86,27.70 286.54,27.67 287.23,27.65 287.92,27.63 288.62,27.61 289.33,27.58 290.05,27.56 290.77,27.54 291.51,27.51 292.25,27.49 293.00,27.47 293.77,27.44 294.55,27.42 295.34,27.39 296.15,27.37 296.96,27.34 297.80,27.32 298.65,27.30 299.51,27.27 300.40,27.24 301.30,27.22 302.22,27.19 303.16,27.17 304.12,27.14 305.09,27.11 306.10,27.09 307.12,27.06 308.16,27.03 309.23,27.00 310.33,26.98 311.44,26.95 312.59,26.92 313.76,26.89 314.96,26.86 316.18,26.83 317.43,26.80 318.72,26.77 320.03,26.74 321.37,26.70 322.75,26.67 324.15,26.64 325.59,26.60 327.06,26.57 328.57,26.54 330.11,26.50 331.69,26.47 333.30,26.43 334.95,26.39" fill="none" stroke="#800080" stroke-width="1.7" stroke-linejoin="round"/><polygon points="63.73,196.12 68.73,201.12 63.73,206.12 58.73,201.12" fill="#800080"/><polygon points="88.38,99.30 93.38,104.30 88.38,109.30 83.38,104.30" fill="#800080"/><polygon points="113.04,60.08 118.04,65.08 113.04,70.08 108.04,65.08" fill="#800080"/><polygon points="137.70,43.17 142.70,48.17 137.70,53.17 132.70,48.17" fill="#800080"/><polygon points="162.35,34.67 167.35,39.67 162.35,44.67 157.35,39.67" fill="#800080"/><polygon points="187.01,29.87 192.01,34.87 187.01,39.87 182.01,34.87" fill="#800080"/><polygon points="211.67,26.91 216.67,31.91 211.67,36.91 206.67,31.91" fill="#800080"/><polygon points="236.32,24.96 241.32,29.96 236.32,34.96 231.32,29.96" fill="#800080"/><polygon points="260.98,23.62 265.98,28.62 260.98,33.62 255.98,28.62" fill="#800080"/><polygon points="285.64,22.65 290.64,27.65 285.64,32.65 280.64,27.65" fill="#800080"/><polygon points="310.29,21.94 315.29,26.94 310.29,31.94 305.29,26.94" fill="#800080"/><polygon points="334.95,21.39 339.95,26.39 334.95,31.39 329.95,26.39" fill="#800080"/><polyline points="63.73,208.51 65.38,202.07 66.99,195.85 68.57,189.86 70.11,184.08 71.61,178.52 73.09,173.17 74.53,168.02 75.93,163.07 77.31,158.31 78.65,153.74 79.96,149.35 81.24,145.15 82.50,141.12 83.72,137.26 84.92,133.57 86.09,130.03 87.23,126.66 88.35,123.43 89.45,120.36 90.51,117.42 91.56,114.62 92.58,111.96 93.58,109.42 94.56,107.00 95.52,104.71 96.46,102.52 97.38,100.45 98.28,98.48 99.16,96.61 100.03,94.84 100.88,93.15 101.71,91.55 102.53,90.04 103.34,88.59 104.13,87.22 104.91,85.92 105.67,84.68 106.43,83.49 107.17,82.36 107.91,81.28 108.63,80.23 109.35,79.23 110.05,78.26 110.75,77.32 111.45,76.41 112.14,75.51 112.82,74.64 113.49,73.79 114.16,72.96 114.83,72.15 115.49,71.36 116.14,70.59 116.79,69.85 117.44,69.12 118.07,68.41 118.71,67.71 119.34,67.04 119.96,66.38 120.58,65.74 121.20,65.12 121.81,64.51 122.42,63.92 123.02,63.34 123.63,62.78 124.22,62.24 124.82,61.70 125.41,61.19 126.00,60.68 126.58,60.19 127.16,59.71 127.74,59.24 128.32,58.79 128.89,58.35 129.47,57.91 130.04,57.49 130.61,57.08 131.17,56.68 131.74,56.28 132.30,55.90 132.86,55.53 133.42,55.16 133.98,54.80 134.54,54.45 135.10,54.10 135.66,53.76 136.21,53.43 136.77,53.11 137.33,52.78 137.88,52.47 138.44,52.16 139.00,51.85 139.55,51.55 140.11,51.25 140.66,50.96 141.22,50.67 141.78,50.38 142.33,50.10 142.89,49.82 143.44,49.55 144.00,49.28 144.56,49.02 145.11,48.76 145.67,48.50 146.23,48.25 146.78,48.00 147.34,47.75 147.89,47.51 148.45,47.27 149.01,47.04 149.56,46.81 150.12,46.58 150.67,46.35 151.23,46.13 151.79,45.92 152.34,45.70 152.90,45.49 153.46,45.28 154.01,45.07 154.57,44.87 155.12,44.67 155.68,44.47 156.24,44.28 156.79,44.09 157.35,43.90 157.91,43.71 158.46,43.53 159.02,43.35 159.57,43.17 160.13,42.99 160.69,42.82 161.24,42.65 161.80,42.48 162.35,42.31 162.91,42.14 163.47,41.98 164.02,41.82 164.58,41.66 165.14,41.50 165.69,41.35 166.25,41.19 166.80,41.04 167.36,40.89 167.92,40.74 168.47,40.60 169.03,40.45 169.58,40.31 170.14,40.17 170.70,40.03 171.25,39.89 171.81,39.76 172.37,39.62 172.92,39.49 173.48,39.36 174.03,39.23 174.59,39.10 175.15,38.98 175.70,38.85 176.26,38.73 176.81,38.61 177.37,38.49 177.93,38.37 178.48,38.25 179.04,38.14 179.60,38.02 180.15,37.91 180.71,37.80 181.26,37.69 181.82,37.58 182.38,37.47 182.93,37.36 183.49,37.26 184.04,37.16 184.60,37.05 185.16,36.95 185.71,36.85 186.27,36.75 186.83,36.65 187.38,36.55 187.94,36.46 188.49,36.36 189.05,36.27 189.61,36.17 190.16,36.08 190.72,35.99 191.27,35.90 191.83,35.81 192.39,35.72 192.94,35.63 193.50,35.55 194.06,35.46 194.61,35.38 195.17,35.29 195.72,35.21 196.28,35.13 196.84,35.05 197.39,34.96 197.95,34.88 198.50,34.81 199.06,34.73 199.62,34.65 200.17,34.57 200.73,34.50 201.29,34.42 201.84,34.35 202.40,34.28 202.95,34.20 203.51,34.13 204.07,34.06 204.62,33.99 205.18,33.92 205.73,33.85 206.29,33.78 206.85,33.72 207.40,33.65 207.96,33.58 208.52,33.52 209.07,33.45 209.63,33.39 210.18,33.32 210.74,33.26 211.30,33.20 211.85,33.14 212.41,33.07 212.97,33.01 213.52,32.95 214.08,32.89 214.63,32.83 215.19,32.78 215.75,32.72 216.30,32.66 216.86,32.60 217.41,32.55 217.97,32.49 218.53,32.43 219.08,32.38 219.64,32.33 220.20,32.27 220.75,32.22 221.31,32.16 221.86,32.11 222.42,32.06 222.98,32.01 223.53,31.96 224.09,31.91 224.64,31.86 225.20,31.81 225.76,31.76 226.31,31.71 226.87,31.66 227.43,31.61 227.98,31.56 228.54,31.52 229.09,31.47 229.65,31.42 230.21,31.38 230.76,31.33 231.32,31.29 231.87,31.24 232.43,31.20 232.99,31.16 233.54,31.11 234.10,31.07 234.66,31.03 235.21,30.98 235.77,30.94 236.32,30.90 236.88,30.86 237.44,30.82 237.99,30.78 238.55,30.74 239.10,30.70 239.66,30.66 240.22,30.62 240.77,30.58 241.33,30.54 241.89,30.50 242.44,30.46 243.00,30.42 243.55,30.39 244.11,30.35 244.67,30.31 245.22,30.28 245.78,30.24 246.33,30.20 246.89,30.17 247.45,30.13 248.00,30.10 248.56,30.06 249.12,30.03 249.67,29.99 250.23,29.96 250.78,29.92 251.34,29.89 251.90,29.86 252.45,29.82 253.01,29.79 253.56,29.76 254.12,29.73 254.68,29.70 255.23,29.66 255.79,29.63 256.35,29.60 256.90,29.57 257.46,29.54 258.01,29.51 258.57,29.48 259.13,29.45 259.68,29.42 260.24,29.39 260.80,29.36 261.35,29.33 261.91,29.30 262.46,29.27 263.02,29.24 263.58,29.21 264.14,29.19 264.70,29.16 265.25,29.13 265.82,29.10 266.38,29.08 266.94,29.05 267.51,29.02 268.07,28.99 268.64,28.97 269.21,28.94 269.78,28.91 270.36,28.89 270.94,28.86 271.52,28.83 272.10,28.81 272.68,28.78 273.27,28.76 273.86,28.73 274.46,28.70 275.05,28.68 275.65,28.65 276.26,28.63 276.87,28.60 277.48,28.57 278.10,28.55 278.72,28.52 279.34,28.50 279.97,28.47 280.60,28.45 281.24,28.42 281.89,28.40 282.54,28.37 283.19,28.34 283.85,28.32 284.51,28.29 285.18,28.27 285.86,28.24 286.54,28.22 287.23,28.19 287.92,28.16 288.62,28.14 289.33,28.11 290.05,28.09 290.77,28.06 291.51,28.03 292.25,28.01 293.00,27.98 293.77,27.95 294.55,27.93 295.34,27.90 296.15,27.87 296.96,27.84 297.80,27.82 298.65,27.79 299.51,27.76 300.40,27.73 301.30,27.70 302.22,27.67 303.16,27.64 304.12,27.61 305.09,27.58 306.10,27.55 307.12,27.52 308.16,27.49 309.23,27.46 310.33,27.43 311.44,27.40 312.59,27.36 313.76,27.33 314.96,27.30 316.18,27.26 317.43,27.23 318.72,27.19 320.03,27.16 321.37,27.12 322.75,27.09 324.15,27.05 325.59,27.01 327.06,26.97 328.57,26.93 330.11,26.89 331.69,26.85 333.30,26.81 334.95,26.77" fill="none" stroke="#FF8000" stroke-width="1.7" stroke-linejoin="round"/><polygon points="58.45,208.51 67.25,203.51 67.25,213.51" fill="#FF8000"/><polygon points="83.10,111.62 91.90,106.62 91.90,116.62" fill="#FF8000"/><polygon points="107.76,69.60 116.56,64.60 116.56,74.60" fill="#FF8000"/><polygon points="132.42,51.05 141.22,46.05 141.22,56.05" fill="#FF8000"/><polygon points="157.07,41.63 165.87,36.63 165.87,46.63" fill="#FF8000"/><polygon points="181.73,36.28 190.53,31.28 190.53,41.28" fill="#FF8000"/><polygon points="206.39,32.97 215.19,27.97 215.19,37.97" fill="#FF8000"/><polygon points="231.04,30.79 239.84,25.79 239.84,35.79" fill="#FF8000"/><polygon points="255.70,29.28 264.50,24.28 264.50,34.28" fill="#FF8000"/><polygon points="280.36,28.19 289.16,23.19 289.16,33.19" fill="#FF8000"/><polygon points="305.01,27.39 313.81,22.39 313.81,32.39" fill="#FF8000"/><polygon points="329.67,26.77 338.47,21.77 338.47,31.77" fill="#FF8000"/><polyline points="63.73,214.71 65.38,208.31 66.99,202.13 68.57,196.16 70.11,190.41 71.61,184.87 73.09,179.53 74.53,174.38 75.93,169.44 77.31,164.68 78.65,160.10 79.96,155.71 81.24,151.49 82.50,147.45 83.72,143.57 84.92,139.85 86.09,136.29 87.23,132.88 88.35,129.62 89.45,126.51 90.51,123.53 91.56,120.69 92.58,117.98 93.58,115.40 94.56,112.94 95.52,110.59 96.46,108.35 97.38,106.22 98.28,104.20 99.16,102.27 100.03,100.44 100.88,98.69 101.71,97.04 102.53,95.46 103.34,93.95 104.13,92.52 104.91,91.15 105.67,89.85 106.43,88.60 107.17,87.40 107.91,86.26 108.63,85.15 109.35,84.09 110.05,83.06 110.75,82.05 111.45,81.08 112.14,80.13 112.82,79.20 113.49,78.29 114.16,77.41 114.83,76.55 115.49,75.71 116.14,74.89 116.79,74.09 117.44,73.31 118.07,72.55 118.71,71.81 119.34,71.08 119.96,70.38 120.58,69.69 121.20,69.03 121.81,68.38 122.42,67.74 123.02,67.12 123.63,66.52 124.22,65.93 124.82,65.36 125.41,64.81 126.00,64.26 126.58,63.73 127.16,63.22 127.74,62.71 128.32,62.22 128.89,61.74 129.47,61.28 130.04,60.82 130.61,60.38 131.17,59.94 131.74,59.52 132.30,59.10 132.86,58.69 133.42,58.30 133.98,57.91 134.54,57.53 135.10,57.15 135.66,56.78 136.21,56.42 136.77,56.07 137.33,55.72 137.88,55.38 138.44,55.04 139.00,54.70 139.55,54.37 140.11,54.05 140.66,53.73 141.22,53.42 141.78,53.11 142.33,52.80 142.89,52.50 143.44,52.20 144.00,51.91 144.56,51.62 145.11,51.34 145.67,51.06 146.23,50.78 146.78,50.51 147.34,50.24 147.89,49.98 148.45,49.72 149.01,49.46 149.56,49.21 150.12,48.96 150.67,48.71 151.23,48.47 151.79,48.23 152.34,48.00 152.90,47.77 153.46,47.54 154.01,47.31 154.57,47.09 155.12,46.87 155.68,46.66 156.24,46.45 156.79,46.24 157.35,46.03 157.91,45.83 158.46,45.62 159.02,45.43 159.57,45.23 160.13,45.04 160.69,44.85 161.24,44.66 161.80,44.47 162.35,44.29 162.91,44.11 163.47,43.93 164.02,43.75 164.58,43.57 165.14,43.40 165.69,43.23 166.25,43.06 166.80,42.89 167.36,42.73 167.92,42.57 168.47,42.41 169.03,42.25 169.58,42.09 170.14,41.94 170.70,41.79 171.25,41.63 171.81,41.49 172.37,41.34 172.92,41.19 173.48,41.05 174.03,40.91 174.59,40.77 175.15,40.63 175.70,40.49 176.26,40.36 176.81,40.22 177.37,40.09 177.93,39.96 178.48,39.83 179.04,39.70 179.60,39.58 180.15,39.45 180.71,39.33 181.26,39.21 181.82,39.09 182.38,38.97 182.93,38.85 183.49,38.74 184.04,38.62 184.60,38.51 185.16,38.40 185.71,38.29 186.27,38.18 186.83,38.07 187.38,37.96 187.94,37.85 188.49,37.75 189.05,37.65 189.61,37.54 190.16,37.44 190.72,37.34 191.27,37.24 191.83,37.14 192.39,37.04 192.94,36.95 193.50,36.85 194.06,36.76 194.61,36.66 195.17,36.57 195.72,36.48 196.28,36.39 196.84,36.30 197.39,36.21 197.95,36.12 198.50,36.03 199.06,35.95 199.62,35.86 200.17,35.78 200.73,35.70 201.29,35.61 201.84,35.53 202.40,35.45 202.95,35.37 203.51,35.29 204.07,35.21 204.62,35.13 205.18,35.06 205.73,34.98 206.29,34.91 206.85,34.83 207.40,34.76 207.96,34.68 208.52,34.61 209.07,34.54 209.63,34.47 210.18,34.40 210.74,34.33 211.30,34.26 211.85,34.19 212.41,34.12 212.97,34.06 213.52,33.99 214.08,33.92 214.63,33.86 215.19,33.79 215.75,33.73 216.30,33.66 216.86,33.60 217.41,33.54 217.97,33.48 218.53,33.42 219.08,33.36 219.64,33.29 220.20,33.24 220.75,33.18 221.31,33.12 221.86,33.06 222.42,33.00 222.98,32.94 223.53,32.89 224.09,32.83 224.64,32.78 225.20,32.72 225.76,32.67 226.31,32.61 226.87,32.56 227.43,32.51 227.98,32.45 228.54,32.40 229.09,32.35 229.65,32.30 230.21,32.25 230.76,32.20 231.32,32.15 231.87,32.10 232.43,32.05 232.99,32.00 233.54,31.95 234.10,31.91 234.66,31.86 235.21,31.81 235.77,31.76 236.32,31.72 236.88,31.67 237.44,31.63 237.99,31.58 238.55,31.54 239.10,31.49 239.66,31.45 240.22,31.40 240.77,31.36 241.33,31.32 241.89,31.28 242.44,31.23 243.00,31.19 243.55,31.15 244.11,31.11 244.67,31.07 245.22,31.03 245.78,30.99 246.33,30.95 246.89,30.91 247.45,30.87 248.00,30.83 248.56,30.79 249.12,30.75 249.67,30.71 250.23,30.68 250.78,30.64 251.34,30.60 251.90,30.56 252.45,30.53 253.01,30.49 253.56,30.46 254.12,30.42 254.68,30.38 255.23,30.35 255.79,30.31 256.35,30.28 256.90,30.25 257.46,30.21 258.01,30.18 258.57,30.14 259.13,30.11 259.68,30.08 260.24,30.04 260.80,30.01 261.35,29.98 261.91,29.95 262.46,29.92 263.02,29.88 263.58,29.85 264.14,29.82 264.70,29.79 265.25,29.76 265.82,29.73 266.38,29.70 266.94,29.67 267.51,29.64 268.07,29.61 268.64,29.58 269.21,29.55 269.78,29.52 270.36,29.49 270.94,29.46 271.52,29.43 272.10,29.40 272.68,29.37 273.27,29.34 273.86,29.31 274.46,29.28 275.05,29.26 275.65,29.23 276.26,29.20 276.87,29.17 277.48,29.14 278.10,29.11 278.72,29.09 279.34,29.06 279.97,29.03 280.60,29.00 281.24,28.97 281.89,28.94 282.54,28.91 283.19,28.89 283.85,28.86 284.51,28.83 285.18,28.80 285.86,28.77 286.54,28.74 287.23,28.72 287.92,28.69 288.62,28.66 289.33,28.63 290.05,28.60 290.77,28.57 291.51,28.54 292.25,28.51 293.00,28.48 293.77,28.45 294.55,28.42 295.34,28.39 296.15,28.36 296.96,28.33 297.80,28.30 298.65,28.27 299.51,28.24 300.40,28.21 301.30,28.18 302.22,28.14 303.16,28.11 304.12,28.08 305.09,28.04 306.10,28.01 307.12,27.98 308.16,27.94 309.23,27.91 310.33,27.87 311.44,27.84 312.59,27.80 313.76,27.76 314.96,27.72 316.18,27.69 317.43,27.65 318.72,27.61 320.03,27.57 321.37,27.53 322.75,27.49 324.15,27.45 325.59,27.41 327.06,27.36 328.57,27.32 330.11,27.28 331.69,27.23 333.30,27.19 334.95,27.14" fill="none" stroke="#00FFFF" stroke-width="1.7" stroke-linejoin="round"/><polygon points="69.01,214.71 60.21,209.71 60.21,219.71" fill="#00FFFF"/><polygon points="93.66,118.44 84.86,113.44 84.86,123.44" fill="#00FFFF"/><polygon points="118.32,73.96 109.52,68.96 109.52,78.96" fill="#00FFFF"/><polygon points="142.98,53.86 134.18,48.86 134.18,58.86" fill="#00FFFF"/><polygon points="167.63,43.55 158.83,38.55 158.83,48.55" fill="#00FFFF"/><polygon points="192.29,37.66 183.49,32.66 183.49,42.66" fill="#00FFFF"/><polygon points="216.95,34.01 208.15,29.01 208.15,39.01" fill="#00FFFF"/><polygon points="241.60,31.59 232.80,26.59 232.80,36.59" fill="#00FFFF"/><polygon points="266.26,29.92 257.46,24.92 257.46,34.92" fill="#00FFFF"/><polygon points="290.92,28.72 282.12,23.72 282.12,33.72" fill="#00FFFF"/><polygon points="315.57,27.82 306.77,22.82 306.77,32.82" fill="#00FFFF"/><polygon points="340.23,27.14 331.43,22.14 331.43,32.14" fill="#00FFFF"/></g>
<line x1="44.0" y1="26.4" x2="335" y2="26.4" stroke="#000" stroke-width="2.8" stroke-dasharray="12 10.7"/>
<g clip-path="url(#clipb)"><polyline points="397.62,146.12 399.27,142.46 400.88,138.94 402.46,135.55 404.00,132.30 405.50,129.17 406.98,126.18 408.41,123.30 409.82,120.55 411.19,117.92 412.53,115.40 413.85,113.00 415.13,110.70 416.38,108.51 417.61,106.43 418.80,104.44 419.97,102.55 421.11,100.76 422.23,99.06 423.32,97.44 424.39,95.91 425.44,94.47 426.46,93.10 427.46,91.81 428.44,90.59 429.40,89.44 430.34,88.36 431.26,87.34 432.16,86.39 433.04,85.49 433.90,84.65 434.75,83.86 435.59,83.12 436.41,82.42 437.21,81.77 438.00,81.16 438.78,80.58 439.54,80.04 440.30,79.53 441.04,79.05 441.78,78.60 442.50,78.16 443.22,77.75 443.92,77.35 444.62,76.96 445.32,76.59 446.00,76.22 446.69,75.86 447.36,75.51 448.03,75.17 448.70,74.84 449.35,74.51 450.01,74.20 450.66,73.89 451.30,73.58 451.94,73.29 452.57,73.00 453.20,72.72 453.83,72.45 454.45,72.18 455.06,71.92 455.67,71.67 456.28,71.42 456.89,71.18 457.49,70.94 458.08,70.71 458.68,70.48 459.27,70.26 459.86,70.05 460.44,69.84 461.02,69.63 461.60,69.43 462.18,69.23 462.75,69.04 463.33,68.85 463.90,68.67 464.46,68.49 465.03,68.31 465.59,68.14 466.16,67.96 466.72,67.80 467.28,67.63 467.84,67.47 468.40,67.31 468.96,67.15 469.51,66.99 470.07,66.84 470.63,66.69 471.18,66.53 471.74,66.38 472.29,66.24 472.85,66.09 473.41,65.94 473.96,65.80 474.52,65.65 475.07,65.51 475.63,65.37 476.18,65.23 476.74,65.09 477.30,64.95 477.85,64.82 478.41,64.68 478.96,64.55 479.52,64.42 480.08,64.28 480.63,64.15 481.19,64.02 481.74,63.89 482.30,63.77 482.85,63.64 483.41,63.51 483.97,63.39 484.52,63.27 485.08,63.14 485.63,63.02 486.19,62.90 486.75,62.78 487.30,62.66 487.86,62.55 488.41,62.43 488.97,62.31 489.53,62.20 490.08,62.09 490.64,61.97 491.19,61.86 491.75,61.75 492.30,61.64 492.86,61.53 493.42,61.42 493.97,61.32 494.53,61.21 495.08,61.11 495.64,61.00 496.20,60.90 496.75,60.79 497.31,60.69 497.86,60.59 498.42,60.49 498.97,60.39 499.53,60.29 500.09,60.19 500.64,60.10 501.20,60.00 501.75,59.90 502.31,59.81 502.87,59.71 503.42,59.62 503.98,59.52 504.53,59.43 505.09,59.34 505.65,59.24 506.20,59.15 506.76,59.06 507.31,58.97 507.87,58.88 508.42,58.79 508.98,58.70 509.54,58.61 510.09,58.52 510.65,58.43 511.20,58.34 511.76,58.25 512.32,58.16 512.87,58.07 513.43,57.99 513.98,57.90 514.54,57.81 515.10,57.72 515.65,57.63 516.21,57.55 516.76,57.46 517.32,57.37 517.87,57.28 518.43,57.19 518.99,57.11 519.54,57.02 520.10,56.93 520.65,56.84 521.21,56.75 521.77,56.66 522.32,56.57 522.88,56.49 523.43,56.40 523.99,56.31 524.54,56.22 525.10,56.13 525.66,56.04 526.21,55.95 526.77,55.86 527.32,55.77 527.88,55.68 528.44,55.59 528.99,55.50 529.55,55.41 530.10,55.32 530.66,55.23 531.22,55.14 531.77,55.05 532.33,54.96 532.88,54.87 533.44,54.78 533.99,54.69 534.55,54.60 535.11,54.51 535.66,54.42 536.22,54.33 536.77,54.25 537.33,54.16 537.89,54.07 538.44,53.98 539.00,53.89 539.55,53.80 540.11,53.71 540.67,53.63 541.22,53.54 541.78,53.45 542.33,53.36 542.89,53.28 543.44,53.19 544.00,53.10 544.56,53.02 545.11,52.93 545.67,52.85 546.22,52.76 546.78,52.68 547.34,52.59 547.89,52.51 548.45,52.43 549.00,52.34 549.56,52.26 550.11,52.18 550.67,52.09 551.23,52.01 551.78,51.93 552.34,51.85 552.89,51.76 553.45,51.68 554.01,51.60 554.56,51.52 555.12,51.44 555.67,51.36 556.23,51.28 556.79,51.20 557.34,51.12 557.90,51.04 558.45,50.96 559.01,50.88 559.56,50.80 560.12,50.72 560.68,50.64 561.23,50.56 561.79,50.48 562.34,50.40 562.90,50.32 563.46,50.24 564.01,50.16 564.57,50.09 565.12,50.01 565.68,49.93 566.24,49.85 566.79,49.77 567.35,49.69 567.90,49.62 568.46,49.54 569.01,49.46 569.57,49.38 570.13,49.30 570.68,49.22 571.24,49.15 571.79,49.07 572.35,48.99 572.91,48.91 573.46,48.83 574.02,48.75 574.57,48.68 575.13,48.60 575.68,48.52 576.24,48.44 576.80,48.36 577.35,48.28 577.91,48.21 578.46,48.13 579.02,48.05 579.58,47.97 580.13,47.89 580.69,47.81 581.24,47.74 581.80,47.66 582.36,47.58 582.91,47.50 583.47,47.42 584.02,47.34 584.58,47.26 585.13,47.19 585.69,47.11 586.25,47.03 586.80,46.95 587.36,46.87 587.91,46.79 588.47,46.71 589.03,46.64 589.58,46.56 590.14,46.48 590.69,46.40 591.25,46.32 591.80,46.24 592.36,46.16 592.92,46.09 593.47,46.01 594.03,45.93 594.58,45.85 595.14,45.77 595.70,45.69 596.25,45.61 596.81,45.53 597.37,45.45 597.92,45.37 598.48,45.29 599.04,45.21 599.60,45.13 600.16,45.05 600.73,44.97 601.29,44.89 601.86,44.81 602.43,44.73 603.00,44.65 603.57,44.57 604.14,44.48 604.72,44.40 605.30,44.32 605.88,44.23 606.47,44.15 607.05,44.07 607.64,43.98 608.24,43.89 608.83,43.81 609.44,43.72 610.04,43.63 610.65,43.54 611.26,43.46 611.88,43.37 612.50,43.28 613.12,43.18 613.75,43.09 614.38,43.00 615.02,42.91 615.66,42.81 616.31,42.72 616.97,42.62 617.63,42.52 618.29,42.42 618.96,42.33 619.64,42.23 620.32,42.12 621.00,42.02 621.70,41.92 622.40,41.82 623.11,41.71 623.82,41.60 624.55,41.49 625.28,41.39 626.02,41.27 626.78,41.16 627.54,41.05 628.32,40.93 629.11,40.81 629.92,40.69 630.73,40.57 631.57,40.45 632.42,40.32 633.28,40.19 634.17,40.06 635.07,39.92 635.99,39.79 636.92,39.65 637.88,39.51 638.86,39.36 639.86,39.21 640.88,39.06 641.93,38.91 643.00,38.75 644.09,38.59 645.21,38.43 646.35,38.26 647.52,38.09 648.72,37.91 649.94,37.73 651.19,37.55 652.48,37.36 653.79,37.17 655.13,36.98 656.50,36.78 657.91,36.58 659.35,36.37 660.82,36.16 662.32,35.94 663.86,35.72 665.44,35.49 667.05,35.26 668.70,35.02" fill="none" stroke="#000000" stroke-width="1.7" stroke-linejoin="round"/><rect x="393.82" y="142.32" width="7.60" height="7.60" fill="#000000"/><rect x="418.47" y="87.14" width="7.60" height="7.60" fill="#000000"/><rect x="443.11" y="70.08" width="7.60" height="7.60" fill="#000000"/><rect x="467.75" y="62.23" width="7.60" height="7.60" fill="#000000"/><rect x="492.40" y="56.82" width="7.60" height="7.60" fill="#000000"/><rect x="517.04" y="53.07" width="7.60" height="7.60" fill="#000000"/><rect x="541.68" y="48.97" width="7.60" height="7.60" fill="#000000"/><rect x="566.33" y="45.50" width="7.60" height="7.60" fill="#000000"/><rect x="590.97" y="42.03" width="7.60" height="7.60" fill="#000000"/><rect x="615.61" y="38.50" width="7.60" height="7.60" fill="#000000"/><rect x="640.26" y="34.75" width="7.60" height="7.60" fill="#000000"/><rect x="664.90" y="31.22" width="7.60" height="7.60" fill="#000000"/><polyline points="397.62,183.10 399.27,180.17 400.88,177.36 402.46,174.65 404.00,172.05 405.50,169.55 406.98,167.15 408.41,164.86 409.82,162.66 411.19,160.55 412.53,158.54 413.85,156.61 415.13,154.77 416.38,153.02 417.61,151.35 418.80,149.75 419.97,148.24 421.11,146.80 422.23,145.44 423.32,144.14 424.39,142.91 425.44,141.75 426.46,140.65 427.46,139.61 428.44,138.63 429.40,137.71 430.34,136.84 431.26,136.02 432.16,135.25 433.04,134.52 433.90,133.84 434.75,133.20 435.59,132.61 436.41,132.04 437.21,131.52 438.00,131.02 438.78,130.55 439.54,130.12 440.30,129.70 441.04,129.31 441.78,128.94 442.50,128.59 443.22,128.25 443.92,127.92 444.62,127.61 445.32,127.30 446.00,127.01 446.69,126.72 447.36,126.43 448.03,126.15 448.70,125.88 449.35,125.62 450.01,125.36 450.66,125.11 451.30,124.87 451.94,124.63 452.57,124.39 453.20,124.17 453.83,123.95 454.45,123.73 455.06,123.52 455.67,123.31 456.28,123.11 456.89,122.92 457.49,122.73 458.08,122.54 458.68,122.36 459.27,122.18 459.86,122.01 460.44,121.84 461.02,121.68 461.60,121.52 462.18,121.36 462.75,121.21 463.33,121.06 463.90,120.91 464.46,120.77 465.03,120.63 465.59,120.49 466.16,120.35 466.72,120.22 467.28,120.09 467.84,119.96 468.40,119.84 468.96,119.71 469.51,119.59 470.07,119.47 470.63,119.35 471.18,119.24 471.74,119.12 472.29,119.01 472.85,118.89 473.41,118.78 473.96,118.67 474.52,118.56 475.07,118.45 475.63,118.34 476.18,118.24 476.74,118.13 477.30,118.03 477.85,117.93 478.41,117.82 478.96,117.72 479.52,117.62 480.08,117.53 480.63,117.43 481.19,117.33 481.74,117.24 482.30,117.14 482.85,117.05 483.41,116.96 483.97,116.87 484.52,116.78 485.08,116.69 485.63,116.60 486.19,116.51 486.75,116.42 487.30,116.34 487.86,116.25 488.41,116.17 488.97,116.09 489.53,116.01 490.08,115.93 490.64,115.85 491.19,115.77 491.75,115.69 492.30,115.61 492.86,115.53 493.42,115.46 493.97,115.38 494.53,115.31 495.08,115.24 495.64,115.16 496.20,115.09 496.75,115.02 497.31,114.95 497.86,114.88 498.42,114.81 498.97,114.75 499.53,114.68 500.09,114.61 500.64,114.55 501.20,114.48 501.75,114.42 502.31,114.35 502.87,114.29 503.42,114.23 503.98,114.17 504.53,114.11 505.09,114.05 505.65,113.99 506.20,113.93 506.76,113.87 507.31,113.81 507.87,113.75 508.42,113.70 508.98,113.64 509.54,113.58 510.09,113.53 510.65,113.47 511.20,113.42 511.76,113.37 512.32,113.31 512.87,113.26 513.43,113.21 513.98,113.16 514.54,113.11 515.10,113.05 515.65,113.00 516.21,112.95 516.76,112.90 517.32,112.85 517.87,112.81 518.43,112.76 518.99,112.71 519.54,112.66 520.10,112.61 520.65,112.57 521.21,112.52 521.77,112.47 522.32,112.43 522.88,112.38 523.43,112.34 523.99,112.29 524.54,112.25 525.10,112.20 525.66,112.16 526.21,112.11 526.77,112.07 527.32,112.02 527.88,111.98 528.44,111.94 528.99,111.89 529.55,111.85 530.10,111.81 530.66,111.76 531.22,111.72 531.77,111.68 532.33,111.64 532.88,111.59 533.44,111.55 533.99,111.51 534.55,111.47 535.11,111.43 535.66,111.38 536.22,111.34 536.77,111.30 537.33,111.26 537.89,111.22 538.44,111.18 539.00,111.13 539.55,111.09 540.11,111.05 540.67,111.01 541.22,110.97 541.78,110.93 542.33,110.88 542.89,110.84 543.44,110.80 544.00,110.76 544.56,110.72 545.11,110.67 545.67,110.63 546.22,110.59 546.78,110.55 547.34,110.50 547.89,110.46 548.45,110.42 549.00,110.38 549.56,110.33 550.11,110.29 550.67,110.25 551.23,110.20 551.78,110.16 552.34,110.12 552.89,110.07 553.45,110.03 554.01,109.99 554.56,109.94 555.12,109.90 555.67,109.86 556.23,109.81 556.79,109.77 557.34,109.73 557.90,109.69 558.45,109.64 559.01,109.60 559.56,109.56 560.12,109.51 560.68,109.47 561.23,109.43 561.79,109.39 562.34,109.34 562.90,109.30 563.46,109.26 564.01,109.22 564.57,109.18 565.12,109.13 565.68,109.09 566.24,109.05 566.79,109.01 567.35,108.97 567.90,108.93 568.46,108.89 569.01,108.85 569.57,108.81 570.13,108.77 570.68,108.73 571.24,108.69 571.79,108.65 572.35,108.61 572.91,108.57 573.46,108.53 574.02,108.50 574.57,108.46 575.13,108.42 575.68,108.38 576.24,108.34 576.80,108.31 577.35,108.27 577.91,108.23 578.46,108.20 579.02,108.16 579.58,108.12 580.13,108.09 580.69,108.05 581.24,108.01 581.80,107.98 582.36,107.94 582.91,107.91 583.47,107.87 584.02,107.83 584.58,107.80 585.13,107.76 585.69,107.73 586.25,107.69 586.80,107.66 587.36,107.62 587.91,107.59 588.47,107.55 589.03,107.52 589.58,107.49 590.14,107.45 590.69,107.42 591.25,107.38 591.80,107.35 592.36,107.31 592.92,107.28 593.47,107.25 594.03,107.21 594.58,107.18 595.14,107.14 595.70,107.11 596.25,107.08 596.81,107.04 597.37,107.01 597.92,106.97 598.48,106.94 599.04,106.91 599.60,106.87 600.16,106.84 600.73,106.81 601.29,106.77 601.86,106.74 602.43,106.71 603.00,106.67 603.57,106.64 604.14,106.61 604.72,106.57 605.30,106.54 605.88,106.51 606.47,106.47 607.05,106.44 607.64,106.41 608.24,106.38 608.83,106.34 609.44,106.31 610.04,106.28 610.65,106.25 611.26,106.21 611.88,106.18 612.50,106.15 613.12,106.12 613.75,106.09 614.38,106.05 615.02,106.02 615.66,105.99 616.31,105.96 616.97,105.93 617.63,105.90 618.29,105.87 618.96,105.84 619.64,105.81 620.32,105.78 621.00,105.74 621.70,105.71 622.40,105.68 623.11,105.65 623.82,105.62 624.55,105.59 625.28,105.56 626.02,105.53 626.78,105.50 627.54,105.47 628.32,105.44 629.11,105.41 629.92,105.37 630.73,105.34 631.57,105.30 632.42,105.27 633.28,105.23 634.17,105.20 635.07,105.16 635.99,105.12 636.92,105.08 637.88,105.03 638.86,104.99 639.86,104.94 640.88,104.90 641.93,104.85 643.00,104.80 644.09,104.74 645.21,104.69 646.35,104.63 647.52,104.58 648.72,104.52 649.94,104.45 651.19,104.39 652.48,104.32 653.79,104.25 655.13,104.18 656.50,104.10 657.91,104.03 659.35,103.95 660.82,103.86 662.32,103.78 663.86,103.69 665.44,103.60 667.05,103.50 668.70,103.40" fill="none" stroke="#FF0000" stroke-width="1.7" stroke-linejoin="round"/><circle cx="397.62" cy="183.10" r="4.20" fill="#FF0000"/><circle cx="422.27" cy="139.01" r="4.20" fill="#FF0000"/><circle cx="446.91" cy="125.08" r="4.20" fill="#FF0000"/><circle cx="471.55" cy="118.76" r="4.20" fill="#FF0000"/><circle cx="496.20" cy="114.84" r="4.20" fill="#FF0000"/><circle cx="520.84" cy="112.45" r="4.20" fill="#FF0000"/><circle cx="545.48" cy="110.68" r="4.20" fill="#FF0000"/><circle cx="570.13" cy="108.69" r="4.20" fill="#FF0000"/><circle cx="594.77" cy="107.16" r="4.20" fill="#FF0000"/><circle cx="619.41" cy="105.68" r="4.20" fill="#FF0000"/><circle cx="644.06" cy="104.88" r="4.20" fill="#FF0000"/><circle cx="668.70" cy="103.40" r="4.20" fill="#FF0000"/><polyline points="397.62,198.86 399.27,196.47 400.88,194.16 402.46,191.94 404.00,189.81 405.50,187.76 406.98,185.78 408.41,183.89 409.82,182.07 411.19,180.33 412.53,178.66 413.85,177.07 415.13,175.54 416.38,174.08 417.61,172.68 418.80,171.35 419.97,170.08 421.11,168.87 422.23,167.71 423.32,166.62 424.39,165.58 425.44,164.59 426.46,163.65 427.46,162.76 428.44,161.92 429.40,161.12 430.34,160.37 431.26,159.65 432.16,158.98 433.04,158.35 433.90,157.75 434.75,157.18 435.59,156.65 436.41,156.15 437.21,155.67 438.00,155.22 438.78,154.80 439.54,154.40 440.30,154.02 441.04,153.66 441.78,153.32 442.50,152.99 443.22,152.68 443.92,152.38 444.62,152.09 445.32,151.81 446.00,151.53 446.69,151.26 447.36,151.00 448.03,150.75 448.70,150.50 449.35,150.26 450.01,150.02 450.66,149.80 451.30,149.57 451.94,149.36 452.57,149.15 453.20,148.94 453.83,148.75 454.45,148.55 455.06,148.36 455.67,148.18 456.28,148.00 456.89,147.83 457.49,147.66 458.08,147.50 458.68,147.34 459.27,147.19 459.86,147.04 460.44,146.89 461.02,146.75 461.60,146.61 462.18,146.47 462.75,146.34 463.33,146.21 463.90,146.08 464.46,145.96 465.03,145.84 465.59,145.72 466.16,145.61 466.72,145.49 467.28,145.38 467.84,145.27 468.40,145.17 468.96,145.06 469.51,144.96 470.07,144.86 470.63,144.75 471.18,144.65 471.74,144.56 472.29,144.46 472.85,144.36 473.41,144.26 473.96,144.17 474.52,144.07 475.07,143.98 475.63,143.89 476.18,143.80 476.74,143.70 477.30,143.61 477.85,143.52 478.41,143.44 478.96,143.35 479.52,143.26 480.08,143.17 480.63,143.09 481.19,143.01 481.74,142.92 482.30,142.84 482.85,142.76 483.41,142.68 483.97,142.60 484.52,142.52 485.08,142.44 485.63,142.36 486.19,142.28 486.75,142.21 487.30,142.13 487.86,142.06 488.41,141.98 488.97,141.91 489.53,141.84 490.08,141.77 490.64,141.70 491.19,141.63 491.75,141.56 492.30,141.49 492.86,141.43 493.42,141.36 493.97,141.30 494.53,141.23 495.08,141.17 495.64,141.10 496.20,141.04 496.75,140.98 497.31,140.92 497.86,140.86 498.42,140.80 498.97,140.74 499.53,140.69 500.09,140.63 500.64,140.57 501.20,140.52 501.75,140.46 502.31,140.41 502.87,140.36 503.42,140.31 503.98,140.25 504.53,140.20 505.09,140.15 505.65,140.10 506.20,140.05 506.76,140.00 507.31,139.96 507.87,139.91 508.42,139.86 508.98,139.81 509.54,139.77 510.09,139.72 510.65,139.68 511.20,139.63 511.76,139.59 512.32,139.54 512.87,139.50 513.43,139.46 513.98,139.42 514.54,139.37 515.10,139.33 515.65,139.29 516.21,139.25 516.76,139.21 517.32,139.17 517.87,139.13 518.43,139.09 518.99,139.05 519.54,139.01 520.10,138.97 520.65,138.93 521.21,138.89 521.77,138.85 522.32,138.82 522.88,138.78 523.43,138.74 523.99,138.70 524.54,138.67 525.10,138.63 525.66,138.59 526.21,138.56 526.77,138.52 527.32,138.48 527.88,138.45 528.44,138.41 528.99,138.38 529.55,138.34 530.10,138.31 530.66,138.27 531.22,138.23 531.77,138.20 532.33,138.16 532.88,138.13 533.44,138.10 533.99,138.06 534.55,138.03 535.11,137.99 535.66,137.96 536.22,137.92 536.77,137.89 537.33,137.86 537.89,137.82 538.44,137.79 539.00,137.75 539.55,137.72 540.11,137.69 540.67,137.65 541.22,137.62 541.78,137.59 542.33,137.55 542.89,137.52 543.44,137.49 544.00,137.45 544.56,137.42 545.11,137.39 545.67,137.35 546.22,137.32 546.78,137.29 547.34,137.25 547.89,137.22 548.45,137.19 549.00,137.15 549.56,137.12 550.11,137.09 550.67,137.05 551.23,137.02 551.78,136.99 552.34,136.95 552.89,136.92 553.45,136.89 554.01,136.86 554.56,136.82 555.12,136.79 555.67,136.76 556.23,136.73 556.79,136.70 557.34,136.66 557.90,136.63 558.45,136.60 559.01,136.57 559.56,136.54 560.12,136.51 560.68,136.48 561.23,136.45 561.79,136.42 562.34,136.39 562.90,136.36 563.46,136.33 564.01,136.30 564.57,136.27 565.12,136.24 565.68,136.21 566.24,136.19 566.79,136.16 567.35,136.13 567.90,136.10 568.46,136.08 569.01,136.05 569.57,136.02 570.13,136.00 570.68,135.97 571.24,135.95 571.79,135.92 572.35,135.90 572.91,135.87 573.46,135.85 574.02,135.83 574.57,135.80 575.13,135.78 575.68,135.76 576.24,135.74 576.80,135.71 577.35,135.69 577.91,135.67 578.46,135.65 579.02,135.63 579.58,135.61 580.13,135.59 580.69,135.57 581.24,135.55 581.80,135.53 582.36,135.51 582.91,135.49 583.47,135.47 584.02,135.45 584.58,135.43 585.13,135.41 585.69,135.39 586.25,135.38 586.80,135.36 587.36,135.34 587.91,135.32 588.47,135.31 589.03,135.29 589.58,135.27 590.14,135.25 590.69,135.24 591.25,135.22 591.80,135.20 592.36,135.19 592.92,135.17 593.47,135.15 594.03,135.14 594.58,135.12 595.14,135.11 595.70,135.09 596.25,135.07 596.81,135.06 597.37,135.04 597.92,135.03 598.48,135.01 599.04,135.00 599.60,134.98 600.16,134.96 600.73,134.95 601.29,134.93 601.86,134.92 602.43,134.90 603.00,134.89 603.57,134.87 604.14,134.86 604.72,134.84 605.30,134.83 605.88,134.81 606.47,134.80 607.05,134.78 607.64,134.77 608.24,134.75 608.83,134.74 609.44,134.72 610.04,134.71 610.65,134.69 611.26,134.67 611.88,134.66 612.50,134.64 613.12,134.63 613.75,134.61 614.38,134.60 615.02,134.58 615.66,134.57 616.31,134.55 616.97,134.53 617.63,134.52 618.29,134.50 618.96,134.48 619.64,134.47 620.32,134.45 621.00,134.44 621.70,134.42 622.40,134.40 623.11,134.39 623.82,134.37 624.55,134.35 625.28,134.33 626.02,134.31 626.78,134.30 627.54,134.28 628.32,134.26 629.11,134.24 629.92,134.22 630.73,134.20 631.57,134.18 632.42,134.16 633.28,134.13 634.17,134.11 635.07,134.09 635.99,134.06 636.92,134.04 637.88,134.01 638.86,133.98 639.86,133.96 640.88,133.93 641.93,133.90 643.00,133.87 644.09,133.83 645.21,133.80 646.35,133.77 647.52,133.73 648.72,133.70 649.94,133.66 651.19,133.62 652.48,133.58 653.79,133.54 655.13,133.49 656.50,133.45 657.91,133.40 659.35,133.36 660.82,133.31 662.32,133.26 663.86,133.21 665.44,133.15 667.05,133.10 668.70,133.04" fill="none" stroke="#0000FF" stroke-width="1.7" stroke-linejoin="round"/><polygon points="397.62,193.58 402.62,202.38 392.62,202.38" fill="#0000FF"/><polygon points="422.27,157.57 427.27,166.37 417.27,166.37" fill="#0000FF"/><polygon points="446.91,144.26 451.91,153.06 441.91,153.06" fill="#0000FF"/><polygon points="471.55,139.02 476.55,147.82 466.55,147.82" fill="#0000FF"/><polygon points="496.20,135.50 501.20,144.30 491.20,144.30" fill="#0000FF"/><polygon points="520.84,133.56 525.84,142.36 515.84,142.36" fill="#0000FF"/><polygon points="545.48,132.08 550.48,140.88 540.48,140.88" fill="#0000FF"/><polygon points="570.13,130.60 575.13,139.40 565.13,139.40" fill="#0000FF"/><polygon points="594.77,129.81 599.77,138.61 589.77,138.61" fill="#0000FF"/><polygon points="619.41,129.18 624.41,137.98 614.41,137.98" fill="#0000FF"/><polygon points="644.06,128.61 649.06,137.41 639.06,137.41" fill="#0000FF"/><polygon points="668.70,127.76 673.70,136.56 663.70,136.56" fill="#0000FF"/><polyline points="397.62,210.41 399.27,208.24 400.88,206.16 402.46,204.15 404.00,202.23 405.50,200.37 406.98,198.59 408.41,196.89 409.82,195.25 411.19,193.69 412.53,192.18 413.85,190.75 415.13,189.38 416.38,188.07 417.61,186.82 418.80,185.63 419.97,184.49 421.11,183.41 422.23,182.38 423.32,181.40 424.39,180.48 425.44,179.60 426.46,178.77 427.46,177.98 428.44,177.23 429.40,176.53 430.34,175.86 431.26,175.23 432.16,174.64 433.04,174.08 433.90,173.55 434.75,173.05 435.59,172.59 436.41,172.15 437.21,171.73 438.00,171.34 438.78,170.97 439.54,170.62 440.30,170.29 441.04,169.97 441.78,169.67 442.50,169.38 443.22,169.11 443.92,168.84 444.62,168.58 445.32,168.33 446.00,168.09 446.69,167.85 447.36,167.61 448.03,167.38 448.70,167.15 449.35,166.93 450.01,166.72 450.66,166.51 451.30,166.30 451.94,166.10 452.57,165.91 453.20,165.72 453.83,165.53 454.45,165.34 455.06,165.17 455.67,164.99 456.28,164.82 456.89,164.65 457.49,164.49 458.08,164.33 458.68,164.17 459.27,164.02 459.86,163.87 460.44,163.72 461.02,163.58 461.60,163.44 462.18,163.31 462.75,163.17 463.33,163.04 463.90,162.91 464.46,162.79 465.03,162.66 465.59,162.54 466.16,162.42 466.72,162.31 467.28,162.19 467.84,162.08 468.40,161.97 468.96,161.86 469.51,161.75 470.07,161.65 470.63,161.54 471.18,161.44 471.74,161.34 472.29,161.24 472.85,161.14 473.41,161.04 473.96,160.94 474.52,160.85 475.07,160.75 475.63,160.66 476.18,160.57 476.74,160.48 477.30,160.39 477.85,160.30 478.41,160.21 478.96,160.12 479.52,160.04 480.08,159.95 480.63,159.87 481.19,159.78 481.74,159.70 482.30,159.62 482.85,159.54 483.41,159.46 483.97,159.39 484.52,159.31 485.08,159.23 485.63,159.16 486.19,159.08 486.75,159.01 487.30,158.94 487.86,158.87 488.41,158.80 488.97,158.73 489.53,158.66 490.08,158.59 490.64,158.52 491.19,158.46 491.75,158.39 492.30,158.33 492.86,158.26 493.42,158.20 493.97,158.13 494.53,158.07 495.08,158.01 495.64,157.95 496.20,157.89 496.75,157.83 497.31,157.77 497.86,157.71 498.42,157.66 498.97,157.60 499.53,157.54 500.09,157.49 500.64,157.43 501.20,157.38 501.75,157.33 502.31,157.27 502.87,157.22 503.42,157.17 503.98,157.12 504.53,157.07 505.09,157.02 505.65,156.97 506.20,156.92 506.76,156.87 507.31,156.83 507.87,156.78 508.42,156.73 508.98,156.69 509.54,156.64 510.09,156.60 510.65,156.56 511.20,156.51 511.76,156.47 512.32,156.43 512.87,156.39 513.43,156.35 513.98,156.31 514.54,156.27 515.10,156.23 515.65,156.19 516.21,156.15 516.76,156.12 517.32,156.08 517.87,156.04 518.43,156.01 518.99,155.97 519.54,155.94 520.10,155.91 520.65,155.87 521.21,155.84 521.77,155.81 522.32,155.78 522.88,155.75 523.43,155.71 523.99,155.68 524.54,155.65 525.10,155.63 525.66,155.60 526.21,155.57 526.77,155.54 527.32,155.51 527.88,155.49 528.44,155.46 528.99,155.43 529.55,155.41 530.10,155.38 530.66,155.35 531.22,155.33 531.77,155.30 532.33,155.28 532.88,155.25 533.44,155.23 533.99,155.20 534.55,155.18 535.11,155.15 535.66,155.13 536.22,155.10 536.77,155.08 537.33,155.06 537.89,155.03 538.44,155.01 539.00,154.98 539.55,154.96 540.11,154.94 540.67,154.91 541.22,154.89 541.78,154.86 542.33,154.84 542.89,154.81 543.44,154.79 544.00,154.76 544.56,154.74 545.11,154.71 545.67,154.69 546.22,154.66 546.78,154.63 547.34,154.61 547.89,154.58 548.45,154.56 549.00,154.53 549.56,154.50 550.11,154.47 550.67,154.45 551.23,154.42 551.78,154.39 552.34,154.37 552.89,154.34 553.45,154.31 554.01,154.28 554.56,154.26 555.12,154.23 555.67,154.20 556.23,154.17 556.79,154.15 557.34,154.12 557.90,154.09 558.45,154.06 559.01,154.04 559.56,154.01 560.12,153.98 560.68,153.96 561.23,153.93 561.79,153.90 562.34,153.88 562.90,153.85 563.46,153.83 564.01,153.80 564.57,153.77 565.12,153.75 565.68,153.72 566.24,153.70 566.79,153.68 567.35,153.65 567.90,153.63 568.46,153.61 569.01,153.58 569.57,153.56 570.13,153.54 570.68,153.52 571.24,153.50 571.79,153.48 572.35,153.45 572.91,153.43 573.46,153.41 574.02,153.40 574.57,153.38 575.13,153.36 575.68,153.34 576.24,153.32 576.80,153.30 577.35,153.29 577.91,153.27 578.46,153.25 579.02,153.23 579.58,153.22 580.13,153.20 580.69,153.19 581.24,153.17 581.80,153.15 582.36,153.14 582.91,153.12 583.47,153.11 584.02,153.09 584.58,153.08 585.13,153.07 585.69,153.05 586.25,153.04 586.80,153.02 587.36,153.01 587.91,152.99 588.47,152.98 589.03,152.97 589.58,152.95 590.14,152.94 590.69,152.93 591.25,152.91 591.80,152.90 592.36,152.89 592.92,152.87 593.47,152.86 594.03,152.85 594.58,152.83 595.14,152.82 595.70,152.81 596.25,152.79 596.81,152.78 597.37,152.76 597.92,152.75 598.48,152.74 599.04,152.72 599.60,152.71 600.16,152.70 600.73,152.68 601.29,152.67 601.86,152.65 602.43,152.64 603.00,152.63 603.57,152.61 604.14,152.60 604.72,152.58 605.30,152.57 605.88,152.55 606.47,152.54 607.05,152.52 607.64,152.51 608.24,152.49 608.83,152.48 609.44,152.46 610.04,152.45 610.65,152.43 611.26,152.42 611.88,152.40 612.50,152.39 613.12,152.37 613.75,152.35 614.38,152.34 615.02,152.32 615.66,152.31 616.31,152.29 616.97,152.27 617.63,152.26 618.29,152.24 618.96,152.22 619.64,152.21 620.32,152.19 621.00,152.17 621.70,152.15 622.40,152.14 623.11,152.12 623.82,152.10 624.55,152.08 625.28,152.06 626.02,152.04 626.78,152.02 627.54,152.00 628.32,151.98 629.11,151.96 629.92,151.94 630.73,151.91 631.57,151.89 632.42,151.86 633.28,151.84 634.17,151.81 635.07,151.78 635.99,151.75 636.92,151.72 637.88,151.69 638.86,151.65 639.86,151.62 640.88,151.58 641.93,151.55 643.00,151.51 644.09,151.47 645.21,151.42 646.35,151.38 647.52,151.33 648.72,151.29 649.94,151.24 651.19,151.18 652.48,151.13 653.79,151.07 655.13,151.02 656.50,150.96 657.91,150.89 659.35,150.83 660.82,150.76 662.32,150.69 663.86,150.62 665.44,150.55 667.05,150.47 668.70,150.39" fill="none" stroke="#008000" stroke-width="1.7" stroke-linejoin="round"/><polygon points="397.62,215.69 402.62,206.89 392.62,206.89" fill="#008000"/><polygon points="422.27,183.09 427.27,174.29 417.27,174.29" fill="#008000"/><polygon points="446.91,171.94 451.91,163.14 441.91,163.14" fill="#008000"/><polygon points="471.55,166.25 476.55,157.45 466.55,157.45" fill="#008000"/><polygon points="496.20,162.95 501.20,154.15 491.20,154.15" fill="#008000"/><polygon points="520.84,160.96 525.84,152.16 515.84,152.16" fill="#008000"/><polygon points="545.48,160.05 550.48,151.25 540.48,151.25" fill="#008000"/><polygon points="570.13,158.69 575.13,149.89 565.13,149.89" fill="#008000"/><polygon points="594.77,158.12 599.77,149.32 589.77,149.32" fill="#008000"/><polygon points="619.41,157.49 624.41,148.69 614.41,148.69" fill="#008000"/><polygon points="644.06,156.87 649.06,148.07 639.06,148.07" fill="#008000"/><polygon points="668.70,155.67 673.70,146.87 663.70,146.87" fill="#008000"/><polyline points="397.62,215.24 399.27,213.38 400.88,211.58 402.46,209.85 404.00,208.18 405.50,206.57 406.98,205.03 408.41,203.54 409.82,202.12 411.19,200.75 412.53,199.43 413.85,198.17 415.13,196.96 416.38,195.81 417.61,194.70 418.80,193.64 419.97,192.63 421.11,191.66 422.23,190.74 423.32,189.86 424.39,189.02 425.44,188.23 426.46,187.47 427.46,186.75 428.44,186.06 429.40,185.41 430.34,184.79 431.26,184.21 432.16,183.65 433.04,183.12 433.90,182.62 434.75,182.15 435.59,181.70 436.41,181.28 437.21,180.87 438.00,180.49 438.78,180.13 439.54,179.78 440.30,179.45 441.04,179.14 441.78,178.84 442.50,178.55 443.22,178.27 443.92,178.00 444.62,177.74 445.32,177.49 446.00,177.24 446.69,177.00 447.36,176.76 448.03,176.53 448.70,176.30 449.35,176.08 450.01,175.87 450.66,175.66 451.30,175.46 451.94,175.26 452.57,175.07 453.20,174.88 453.83,174.69 454.45,174.51 455.06,174.34 455.67,174.17 456.28,174.00 456.89,173.84 457.49,173.68 458.08,173.53 458.68,173.38 459.27,173.23 459.86,173.09 460.44,172.95 461.02,172.81 461.60,172.68 462.18,172.55 462.75,172.42 463.33,172.29 463.90,172.17 464.46,172.06 465.03,171.94 465.59,171.83 466.16,171.71 466.72,171.61 467.28,171.50 467.84,171.39 468.40,171.29 468.96,171.19 469.51,171.09 470.07,170.99 470.63,170.90 471.18,170.80 471.74,170.71 472.29,170.61 472.85,170.52 473.41,170.43 473.96,170.34 474.52,170.25 475.07,170.17 475.63,170.08 476.18,170.00 476.74,169.91 477.30,169.83 477.85,169.75 478.41,169.67 478.96,169.59 479.52,169.51 480.08,169.43 480.63,169.35 481.19,169.28 481.74,169.20 482.30,169.13 482.85,169.06 483.41,168.98 483.97,168.91 484.52,168.84 485.08,168.77 485.63,168.70 486.19,168.64 486.75,168.57 487.30,168.50 487.86,168.44 488.41,168.37 488.97,168.31 489.53,168.25 490.08,168.19 490.64,168.12 491.19,168.06 491.75,168.00 492.30,167.95 492.86,167.89 493.42,167.83 493.97,167.77 494.53,167.72 495.08,167.66 495.64,167.61 496.20,167.55 496.75,167.50 497.31,167.45 497.86,167.39 498.42,167.34 498.97,167.29 499.53,167.24 500.09,167.19 500.64,167.14 501.20,167.09 501.75,167.04 502.31,167.00 502.87,166.95 503.42,166.90 503.98,166.86 504.53,166.81 505.09,166.77 505.65,166.73 506.20,166.68 506.76,166.64 507.31,166.60 507.87,166.56 508.42,166.52 508.98,166.48 509.54,166.44 510.09,166.40 510.65,166.36 511.20,166.32 511.76,166.29 512.32,166.25 512.87,166.22 513.43,166.18 513.98,166.15 514.54,166.11 515.10,166.08 515.65,166.05 516.21,166.01 516.76,165.98 517.32,165.95 517.87,165.92 518.43,165.89 518.99,165.86 519.54,165.83 520.10,165.81 520.65,165.78 521.21,165.75 521.77,165.73 522.32,165.70 522.88,165.67 523.43,165.65 523.99,165.63 524.54,165.60 525.10,165.58 525.66,165.56 526.21,165.53 526.77,165.51 527.32,165.49 527.88,165.47 528.44,165.45 528.99,165.43 529.55,165.41 530.10,165.39 530.66,165.37 531.22,165.35 531.77,165.33 532.33,165.31 532.88,165.30 533.44,165.28 533.99,165.26 534.55,165.24 535.11,165.23 535.66,165.21 536.22,165.19 536.77,165.18 537.33,165.16 537.89,165.14 538.44,165.13 539.00,165.11 539.55,165.09 540.11,165.08 540.67,165.06 541.22,165.05 541.78,165.03 542.33,165.02 542.89,165.00 543.44,164.98 544.00,164.97 544.56,164.95 545.11,164.94 545.67,164.92 546.22,164.90 546.78,164.89 547.34,164.87 547.89,164.86 548.45,164.84 549.00,164.82 549.56,164.81 550.11,164.79 550.67,164.77 551.23,164.76 551.78,164.74 552.34,164.72 552.89,164.71 553.45,164.69 554.01,164.67 554.56,164.66 555.12,164.64 555.67,164.62 556.23,164.60 556.79,164.59 557.34,164.57 557.90,164.55 558.45,164.54 559.01,164.52 559.56,164.50 560.12,164.49 560.68,164.47 561.23,164.45 561.79,164.44 562.34,164.42 562.90,164.40 563.46,164.39 564.01,164.37 564.57,164.35 565.12,164.34 565.68,164.32 566.24,164.31 566.79,164.29 567.35,164.27 567.90,164.26 568.46,164.24 569.01,164.23 569.57,164.21 570.13,164.20 570.68,164.18 571.24,164.17 571.79,164.15 572.35,164.13 572.91,164.12 573.46,164.11 574.02,164.09 574.57,164.08 575.13,164.06 575.68,164.05 576.24,164.03 576.80,164.02 577.35,164.00 577.91,163.99 578.46,163.98 579.02,163.96 579.58,163.95 580.13,163.93 580.69,163.92 581.24,163.91 581.80,163.89 582.36,163.88 582.91,163.87 583.47,163.85 584.02,163.84 584.58,163.82 585.13,163.81 585.69,163.80 586.25,163.78 586.80,163.77 587.36,163.76 587.91,163.74 588.47,163.73 589.03,163.72 589.58,163.70 590.14,163.69 590.69,163.68 591.25,163.66 591.80,163.65 592.36,163.64 592.92,163.62 593.47,163.61 594.03,163.60 594.58,163.58 595.14,163.57 595.70,163.56 596.25,163.54 596.81,163.53 597.37,163.52 597.92,163.50 598.48,163.49 599.04,163.48 599.60,163.46 600.16,163.45 600.73,163.43 601.29,163.42 601.86,163.41 602.43,163.39 603.00,163.38 603.57,163.37 604.14,163.35 604.72,163.34 605.30,163.33 605.88,163.31 606.47,163.30 607.05,163.29 607.64,163.27 608.24,163.26 608.83,163.25 609.44,163.23 610.04,163.22 610.65,163.21 611.26,163.19 611.88,163.18 612.50,163.17 613.12,163.15 613.75,163.14 614.38,163.13 615.02,163.12 615.66,163.10 616.31,163.09 616.97,163.08 617.63,163.07 618.29,163.05 618.96,163.04 619.64,163.03 620.32,163.02 621.00,163.00 621.70,162.99 622.40,162.98 623.11,162.97 623.82,162.96 624.55,162.94 625.28,162.93 626.02,162.92 626.78,162.91 627.54,162.89 628.32,162.88 629.11,162.87 629.92,162.85 630.73,162.83 631.57,162.82 632.42,162.80 633.28,162.78 634.17,162.76 635.07,162.74 635.99,162.72 636.92,162.70 637.88,162.67 638.86,162.65 639.86,162.62 640.88,162.59 641.93,162.56 643.00,162.53 644.09,162.49 645.21,162.46 646.35,162.42 647.52,162.38 648.72,162.34 649.94,162.29 651.19,162.24 652.48,162.20 653.79,162.14 655.13,162.09 656.50,162.03 657.91,161.98 659.35,161.91 660.82,161.85 662.32,161.78 663.86,161.71 665.44,161.64 667.05,161.56 668.70,161.48" fill="none" stroke="#800080" stroke-width="1.7" stroke-linejoin="round"/><polygon points="397.62,210.24 402.62,215.24 397.62,220.24 392.62,215.24" fill="#800080"/><polygon points="422.27,182.20 427.27,187.20 422.27,192.20 417.27,187.20" fill="#800080"/><polygon points="446.91,170.65 451.91,175.65 446.91,180.65 441.91,175.65" fill="#800080"/><polygon points="471.55,165.36 476.55,170.36 471.55,175.36 466.55,170.36" fill="#800080"/><polygon points="496.20,162.34 501.20,167.34 496.20,172.34 491.20,167.34" fill="#800080"/><polygon points="520.84,160.58 525.84,165.58 520.84,170.58 515.84,165.58" fill="#800080"/><polygon points="545.48,159.95 550.48,164.95 545.48,169.95 540.48,164.95" fill="#800080"/><polygon points="570.13,159.16 575.13,164.16 570.13,169.16 565.13,164.16" fill="#800080"/><polygon points="594.77,158.59 599.77,163.59 594.77,168.59 589.77,163.59" fill="#800080"/><polygon points="619.41,157.96 624.41,162.96 619.41,167.96 614.41,162.96" fill="#800080"/><polygon points="644.06,157.68 649.06,162.68 644.06,167.68 639.06,162.68" fill="#800080"/><polygon points="668.70,156.48 673.70,161.48 668.70,166.48 663.70,161.48" fill="#800080"/><polyline points="397.62,217.80 399.27,216.20 400.88,214.66 402.46,213.17 404.00,211.73 405.50,210.35 406.98,209.02 408.41,207.74 409.82,206.51 411.19,205.32 412.53,204.19 413.85,203.10 415.13,202.05 416.38,201.04 417.61,200.08 418.80,199.16 419.97,198.28 421.11,197.44 422.23,196.63 423.32,195.87 424.39,195.13 425.44,194.43 426.46,193.77 427.46,193.13 428.44,192.53 429.40,191.95 430.34,191.41 431.26,190.89 432.16,190.39 433.04,189.92 433.90,189.48 434.75,189.05 435.59,188.65 436.41,188.27 437.21,187.91 438.00,187.56 438.78,187.23 439.54,186.92 440.30,186.62 441.04,186.33 441.78,186.06 442.50,185.80 443.22,185.54 443.92,185.30 444.62,185.06 445.32,184.83 446.00,184.60 446.69,184.38 447.36,184.17 448.03,183.96 448.70,183.75 449.35,183.55 450.01,183.36 450.66,183.17 451.30,182.99 451.94,182.81 452.57,182.63 453.20,182.46 453.83,182.29 454.45,182.13 455.06,181.97 455.67,181.82 456.28,181.67 456.89,181.52 457.49,181.38 458.08,181.24 458.68,181.10 459.27,180.97 459.86,180.84 460.44,180.71 461.02,180.59 461.60,180.47 462.18,180.35 462.75,180.23 463.33,180.12 463.90,180.01 464.46,179.90 465.03,179.79 465.59,179.69 466.16,179.59 466.72,179.49 467.28,179.39 467.84,179.29 468.40,179.19 468.96,179.10 469.51,179.01 470.07,178.91 470.63,178.82 471.18,178.73 471.74,178.64 472.29,178.56 472.85,178.47 473.41,178.38 473.96,178.29 474.52,178.21 475.07,178.12 475.63,178.04 476.18,177.96 476.74,177.87 477.30,177.79 477.85,177.71 478.41,177.63 478.96,177.55 479.52,177.47 480.08,177.39 480.63,177.32 481.19,177.24 481.74,177.16 482.30,177.09 482.85,177.02 483.41,176.94 483.97,176.87 484.52,176.80 485.08,176.73 485.63,176.66 486.19,176.59 486.75,176.52 487.30,176.45 487.86,176.39 488.41,176.32 488.97,176.25 489.53,176.19 490.08,176.13 490.64,176.06 491.19,176.00 491.75,175.94 492.30,175.88 492.86,175.82 493.42,175.77 493.97,175.71 494.53,175.65 495.08,175.60 495.64,175.54 496.20,175.49 496.75,175.44 497.31,175.38 497.86,175.33 498.42,175.28 498.97,175.23 499.53,175.18 500.09,175.14 500.64,175.09 501.20,175.04 501.75,175.00 502.31,174.95 502.87,174.91 503.42,174.87 503.98,174.82 504.53,174.78 505.09,174.74 505.65,174.70 506.20,174.66 506.76,174.62 507.31,174.58 507.87,174.55 508.42,174.51 508.98,174.47 509.54,174.44 510.09,174.40 510.65,174.37 511.20,174.33 511.76,174.30 512.32,174.27 512.87,174.24 513.43,174.20 513.98,174.17 514.54,174.14 515.10,174.11 515.65,174.08 516.21,174.05 516.76,174.02 517.32,173.99 517.87,173.96 518.43,173.94 518.99,173.91 519.54,173.88 520.10,173.85 520.65,173.83 521.21,173.80 521.77,173.78 522.32,173.75 522.88,173.72 523.43,173.70 523.99,173.68 524.54,173.65 525.10,173.63 525.66,173.60 526.21,173.58 526.77,173.56 527.32,173.53 527.88,173.51 528.44,173.49 528.99,173.47 529.55,173.44 530.10,173.42 530.66,173.40 531.22,173.38 531.77,173.36 532.33,173.34 532.88,173.32 533.44,173.30 533.99,173.28 534.55,173.26 535.11,173.24 535.66,173.22 536.22,173.20 536.77,173.18 537.33,173.16 537.89,173.14 538.44,173.13 539.00,173.11 539.55,173.09 540.11,173.07 540.67,173.05 541.22,173.04 541.78,173.02 542.33,173.00 542.89,172.99 543.44,172.97 544.00,172.95 544.56,172.94 545.11,172.92 545.67,172.90 546.22,172.89 546.78,172.87 547.34,172.86 547.89,172.84 548.45,172.83 549.00,172.81 549.56,172.80 550.11,172.78 550.67,172.77 551.23,172.75 551.78,172.74 552.34,172.72 552.89,172.71 553.45,172.69 554.01,172.68 554.56,172.67 555.12,172.65 555.67,172.64 556.23,172.62 556.79,172.61 557.34,172.60 557.90,172.58 558.45,172.57 559.01,172.56 559.56,172.55 560.12,172.53 560.68,172.52 561.23,172.51 561.79,172.50 562.34,172.48 562.90,172.47 563.46,172.46 564.01,172.45 564.57,172.43 565.12,172.42 565.68,172.41 566.24,172.40 566.79,172.39 567.35,172.38 567.90,172.37 568.46,172.35 569.01,172.34 569.57,172.33 570.13,172.32 570.68,172.31 571.24,172.30 571.79,172.29 572.35,172.28 572.91,172.27 573.46,172.26 574.02,172.25 574.57,172.24 575.13,172.23 575.68,172.22 576.24,172.21 576.80,172.20 577.35,172.19 577.91,172.18 578.46,172.17 579.02,172.16 579.58,172.15 580.13,172.14 580.69,172.13 581.24,172.12 581.80,172.11 582.36,172.10 582.91,172.09 583.47,172.08 584.02,172.07 584.58,172.06 585.13,172.05 585.69,172.04 586.25,172.04 586.80,172.03 587.36,172.02 587.91,172.01 588.47,172.00 589.03,171.99 589.58,171.98 590.14,171.97 590.69,171.97 591.25,171.96 591.80,171.95 592.36,171.94 592.92,171.93 593.47,171.92 594.03,171.92 594.58,171.91 595.14,171.90 595.70,171.89 596.25,171.88 596.81,171.87 597.37,171.87 597.92,171.86 598.48,171.85 599.04,171.84 599.60,171.83 600.16,171.82 600.73,171.82 601.29,171.81 601.86,171.80 602.43,171.79 603.00,171.78 603.57,171.78 604.14,171.77 604.72,171.76 605.30,171.75 605.88,171.74 606.47,171.73 607.05,171.73 607.64,171.72 608.24,171.71 608.83,171.70 609.44,171.69 610.04,171.68 610.65,171.67 611.26,171.67 611.88,171.66 612.50,171.65 613.12,171.64 613.75,171.63 614.38,171.62 615.02,171.61 615.66,171.61 616.31,171.60 616.97,171.59 617.63,171.58 618.29,171.57 618.96,171.56 619.64,171.55 620.32,171.54 621.00,171.53 621.70,171.52 622.40,171.51 623.11,171.50 623.82,171.49 624.55,171.48 625.28,171.47 626.02,171.46 626.78,171.45 627.54,171.44 628.32,171.43 629.11,171.42 629.92,171.41 630.73,171.40 631.57,171.38 632.42,171.37 633.28,171.36 634.17,171.35 635.07,171.34 635.99,171.32 636.92,171.31 637.88,171.30 638.86,171.28 639.86,171.27 640.88,171.26 641.93,171.24 643.00,171.23 644.09,171.21 645.21,171.20 646.35,171.18 647.52,171.16 648.72,171.15 649.94,171.13 651.19,171.11 652.48,171.10 653.79,171.08 655.13,171.06 656.50,171.04 657.91,171.02 659.35,171.00 660.82,170.98 662.32,170.96 663.86,170.94 665.44,170.92 667.05,170.89 668.70,170.87" fill="none" stroke="#FF8000" stroke-width="1.7" stroke-linejoin="round"/><polygon points="392.34,217.80 401.14,212.80 401.14,222.80" fill="#FF8000"/><polygon points="416.99,193.74 425.79,188.74 425.79,198.74" fill="#FF8000"/><polygon points="441.63,183.10 450.43,178.10 450.43,188.10" fill="#FF8000"/><polygon points="466.27,178.44 475.07,173.44 475.07,183.44" fill="#FF8000"/><polygon points="490.92,175.19 499.72,170.19 499.72,180.19" fill="#FF8000"/><polygon points="515.56,173.71 524.36,168.71 524.36,178.71" fill="#FF8000"/><polygon points="540.20,172.86 549.00,167.86 549.00,177.86" fill="#FF8000"/><polygon points="564.85,172.29 573.65,167.29 573.65,177.29" fill="#FF8000"/><polygon points="589.49,171.89 598.29,166.89 598.29,176.89" fill="#FF8000"/><polygon points="614.13,171.55 622.93,166.55 622.93,176.55" fill="#FF8000"/><polygon points="638.78,171.21 647.58,166.21 647.58,176.21" fill="#FF8000"/><polygon points="663.42,170.87 672.22,165.87 672.22,175.87" fill="#FF8000"/><polyline points="397.62,221.84 399.27,220.33 400.88,218.86 402.46,217.45 404.00,216.10 405.50,214.79 406.98,213.53 408.41,212.33 409.82,211.16 411.19,210.05 412.53,208.98 413.85,207.95 415.13,206.97 416.38,206.03 417.61,205.13 418.80,204.26 419.97,203.44 421.11,202.65 422.23,201.90 423.32,201.19 424.39,200.50 425.44,199.85 426.46,199.23 427.46,198.64 428.44,198.08 429.40,197.55 430.34,197.04 431.26,196.56 432.16,196.11 433.04,195.68 433.90,195.26 434.75,194.87 435.59,194.50 436.41,194.15 437.21,193.82 438.00,193.50 438.78,193.20 439.54,192.91 440.30,192.64 441.04,192.37 441.78,192.12 442.50,191.88 443.22,191.64 443.92,191.41 444.62,191.19 445.32,190.97 446.00,190.76 446.69,190.55 447.36,190.35 448.03,190.15 448.70,189.95 449.35,189.76 450.01,189.57 450.66,189.39 451.30,189.21 451.94,189.03 452.57,188.86 453.20,188.69 453.83,188.53 454.45,188.36 455.06,188.21 455.67,188.05 456.28,187.90 456.89,187.75 457.49,187.60 458.08,187.46 458.68,187.32 459.27,187.18 459.86,187.04 460.44,186.91 461.02,186.78 461.60,186.65 462.18,186.53 462.75,186.41 463.33,186.29 463.90,186.17 464.46,186.05 465.03,185.94 465.59,185.82 466.16,185.71 466.72,185.60 467.28,185.49 467.84,185.39 468.40,185.28 468.96,185.18 469.51,185.08 470.07,184.98 470.63,184.88 471.18,184.78 471.74,184.68 472.29,184.58 472.85,184.49 473.41,184.39 473.96,184.30 474.52,184.21 475.07,184.11 475.63,184.02 476.18,183.93 476.74,183.84 477.30,183.76 477.85,183.67 478.41,183.58 478.96,183.50 479.52,183.41 480.08,183.33 480.63,183.24 481.19,183.16 481.74,183.08 482.30,183.00 482.85,182.92 483.41,182.85 483.97,182.77 484.52,182.69 485.08,182.62 485.63,182.54 486.19,182.47 486.75,182.40 487.30,182.33 487.86,182.26 488.41,182.19 488.97,182.12 489.53,182.05 490.08,181.98 490.64,181.92 491.19,181.86 491.75,181.79 492.30,181.73 492.86,181.67 493.42,181.61 493.97,181.55 494.53,181.49 495.08,181.43 495.64,181.37 496.20,181.32 496.75,181.26 497.31,181.21 497.86,181.16 498.42,181.11 498.97,181.05 499.53,181.00 500.09,180.96 500.64,180.91 501.20,180.86 501.75,180.81 502.31,180.77 502.87,180.72 503.42,180.68 503.98,180.64 504.53,180.59 505.09,180.55 505.65,180.51 506.20,180.47 506.76,180.43 507.31,180.39 507.87,180.35 508.42,180.32 508.98,180.28 509.54,180.24 510.09,180.21 510.65,180.17 511.20,180.14 511.76,180.11 512.32,180.07 512.87,180.04 513.43,180.01 513.98,179.98 514.54,179.95 515.10,179.92 515.65,179.89 516.21,179.86 516.76,179.83 517.32,179.80 517.87,179.77 518.43,179.75 518.99,179.72 519.54,179.69 520.10,179.67 520.65,179.64 521.21,179.61 521.77,179.59 522.32,179.56 522.88,179.54 523.43,179.52 523.99,179.49 524.54,179.47 525.10,179.44 525.66,179.42 526.21,179.40 526.77,179.38 527.32,179.35 527.88,179.33 528.44,179.31 528.99,179.29 529.55,179.27 530.10,179.25 530.66,179.23 531.22,179.21 531.77,179.19 532.33,179.17 532.88,179.15 533.44,179.13 533.99,179.11 534.55,179.09 535.11,179.07 535.66,179.05 536.22,179.03 536.77,179.02 537.33,179.00 537.89,178.98 538.44,178.96 539.00,178.94 539.55,178.93 540.11,178.91 540.67,178.89 541.22,178.88 541.78,178.86 542.33,178.84 542.89,178.83 543.44,178.81 544.00,178.79 544.56,178.78 545.11,178.76 545.67,178.74 546.22,178.73 546.78,178.71 547.34,178.70 547.89,178.68 548.45,178.67 549.00,178.65 549.56,178.63 550.11,178.62 550.67,178.60 551.23,178.59 551.78,178.57 552.34,178.56 552.89,178.54 553.45,178.53 554.01,178.51 554.56,178.50 555.12,178.48 555.67,178.47 556.23,178.46 556.79,178.44 557.34,178.43 557.90,178.41 558.45,178.40 559.01,178.39 559.56,178.37 560.12,178.36 560.68,178.35 561.23,178.33 561.79,178.32 562.34,178.31 562.90,178.29 563.46,178.28 564.01,178.27 564.57,178.25 565.12,178.24 565.68,178.23 566.24,178.22 566.79,178.20 567.35,178.19 567.90,178.18 568.46,178.17 569.01,178.16 569.57,178.14 570.13,178.13 570.68,178.12 571.24,178.11 571.79,178.10 572.35,178.09 572.91,178.08 573.46,178.07 574.02,178.05 574.57,178.04 575.13,178.03 575.68,178.02 576.24,178.01 576.80,178.00 577.35,177.99 577.91,177.98 578.46,177.97 579.02,177.96 579.58,177.95 580.13,177.94 580.69,177.93 581.24,177.92 581.80,177.91 582.36,177.90 582.91,177.89 583.47,177.88 584.02,177.87 584.58,177.86 585.13,177.85 585.69,177.85 586.25,177.84 586.80,177.83 587.36,177.82 587.91,177.81 588.47,177.80 589.03,177.79 589.58,177.78 590.14,177.77 590.69,177.76 591.25,177.75 591.80,177.74 592.36,177.74 592.92,177.73 593.47,177.72 594.03,177.71 594.58,177.70 595.14,177.69 595.70,177.68 596.25,177.67 596.81,177.66 597.37,177.65 597.92,177.65 598.48,177.64 599.04,177.63 599.60,177.62 600.16,177.61 600.73,177.60 601.29,177.59 601.86,177.58 602.43,177.57 603.00,177.56 603.57,177.56 604.14,177.55 604.72,177.54 605.30,177.53 605.88,177.52 606.47,177.51 607.05,177.50 607.64,177.49 608.24,177.48 608.83,177.47 609.44,177.46 610.04,177.45 610.65,177.44 611.26,177.43 611.88,177.42 612.50,177.42 613.12,177.41 613.75,177.40 614.38,177.39 615.02,177.38 615.66,177.37 616.31,177.36 616.97,177.35 617.63,177.34 618.29,177.33 618.96,177.32 619.64,177.31 620.32,177.30 621.00,177.29 621.70,177.28 622.40,177.27 623.11,177.26 623.82,177.25 624.55,177.23 625.28,177.22 626.02,177.21 626.78,177.20 627.54,177.19 628.32,177.18 629.11,177.17 629.92,177.16 630.73,177.15 631.57,177.13 632.42,177.12 633.28,177.11 634.17,177.10 635.07,177.08 635.99,177.07 636.92,177.06 637.88,177.04 638.86,177.03 639.86,177.02 640.88,177.00 641.93,176.99 643.00,176.97 644.09,176.96 645.21,176.94 646.35,176.93 647.52,176.91 648.72,176.89 649.94,176.88 651.19,176.86 652.48,176.84 653.79,176.82 655.13,176.80 656.50,176.79 657.91,176.77 659.35,176.75 660.82,176.73 662.32,176.70 663.86,176.68 665.44,176.66 667.05,176.64 668.70,176.62" fill="none" stroke="#00FFFF" stroke-width="1.7" stroke-linejoin="round"/><polygon points="402.90,221.84 394.10,216.84 394.10,226.84" fill="#00FFFF"/><polygon points="427.55,199.03 418.75,194.03 418.75,204.03" fill="#00FFFF"/><polygon points="452.19,189.64 443.39,184.64 443.39,194.64" fill="#00FFFF"/><polygon points="476.83,184.41 468.03,179.41 468.03,189.41" fill="#00FFFF"/><polygon points="501.48,181.00 492.68,176.00 492.68,186.00" fill="#00FFFF"/><polygon points="526.12,179.52 517.32,174.52 517.32,184.52" fill="#00FFFF"/><polygon points="550.76,178.72 541.96,173.72 541.96,183.72" fill="#00FFFF"/><polygon points="575.41,178.10 566.61,173.10 566.61,183.10" fill="#00FFFF"/><polygon points="600.05,177.70 591.25,172.70 591.25,182.70" fill="#00FFFF"/><polygon points="624.69,177.30 615.89,172.30 615.89,182.30" fill="#00FFFF"/><polygon points="649.34,176.96 640.54,171.96 640.54,181.96" fill="#00FFFF"/><polygon points="673.98,176.62 665.18,171.62 665.18,181.62" fill="#00FFFF"/></g>
<g clip-path="url(#clipc)"><polyline points="51.40,497.62 53.12,497.72 54.81,497.81 56.46,497.90 58.07,497.99 59.65,498.08 61.18,498.16 62.69,498.25 64.16,498.33 65.60,498.41 67.00,498.49 68.37,498.56 69.71,498.64 71.02,498.71 72.30,498.78 73.55,498.85 74.78,498.92 75.97,498.99 77.14,499.05 78.29,499.12 79.40,499.18 80.50,499.24 81.57,499.30 82.61,499.36 83.64,499.42 84.64,499.47 85.62,499.53 86.58,499.58 87.52,499.64 88.45,499.69 89.35,499.74 90.24,499.79 91.11,499.84 91.97,499.89 92.81,499.93 93.64,499.98 94.45,500.03 95.25,500.07 96.04,500.12 96.82,500.16 97.59,500.20 98.34,500.25 99.09,500.29 99.83,500.33 100.56,500.37 101.29,500.41 102.01,500.45 102.72,500.49 103.43,500.53 104.13,500.57 104.82,500.61 105.51,500.65 106.20,500.69 106.88,500.73 107.55,500.77 108.22,500.80 108.88,500.84 109.54,500.88 110.19,500.92 110.84,500.95 111.48,500.99 112.12,501.03 112.76,501.06 113.39,501.10 114.02,501.13 114.64,501.17 115.27,501.21 115.88,501.24 116.50,501.28 117.11,501.31 117.72,501.35 118.32,501.38 118.93,501.41 119.53,501.45 120.13,501.48 120.72,501.52 121.32,501.55 121.91,501.58 122.50,501.62 123.09,501.65 123.68,501.69 124.26,501.72 124.85,501.75 125.43,501.79 126.02,501.82 126.60,501.85 127.18,501.89 127.76,501.92 128.34,501.95 128.93,501.99 129.51,502.02 130.09,502.05 130.67,502.09 131.25,502.12 131.83,502.15 132.41,502.19 133.00,502.22 133.58,502.25 134.16,502.29 134.74,502.32 135.32,502.35 135.90,502.39 136.48,502.42 137.07,502.45 137.65,502.49 138.23,502.52 138.81,502.56 139.39,502.59 139.97,502.62 140.55,502.66 141.14,502.69 141.72,502.72 142.30,502.76 142.88,502.79 143.46,502.82 144.04,502.86 144.62,502.89 145.21,502.92 145.79,502.96 146.37,502.99 146.95,503.03 147.53,503.06 148.11,503.09 148.69,503.13 149.28,503.16 149.86,503.19 150.44,503.23 151.02,503.26 151.60,503.30 152.18,503.33 152.76,503.36 153.35,503.40 153.93,503.43 154.51,503.46 155.09,503.50 155.67,503.53 156.25,503.57 156.83,503.60 157.42,503.63 158.00,503.67 158.58,503.70 159.16,503.73 159.74,503.77 160.32,503.80 160.90,503.84 161.49,503.87 162.07,503.90 162.65,503.94 163.23,503.97 163.81,504.01 164.39,504.04 164.98,504.07 165.56,504.11 166.14,504.14 166.72,504.18 167.30,504.21 167.88,504.24 168.46,504.28 169.05,504.31 169.63,504.35 170.21,504.38 170.79,504.41 171.37,504.45 171.95,504.48 172.53,504.52 173.12,504.55 173.70,504.58 174.28,504.62 174.86,504.65 175.44,504.69 176.02,504.72 176.60,504.75 177.19,504.79 177.77,504.82 178.35,504.86 178.93,504.89 179.51,504.92 180.09,504.96 180.67,504.99 181.26,505.03 181.84,505.06 182.42,505.10 183.00,505.13 183.58,505.16 184.16,505.20 184.74,505.23 185.33,505.27 185.91,505.30 186.49,505.34 187.07,505.37 187.65,505.40 188.23,505.44 188.81,505.47 189.40,505.51 189.98,505.54 190.56,505.58 191.14,505.61 191.72,505.64 192.30,505.68 192.88,505.71 193.47,505.75 194.05,505.78 194.63,505.82 195.21,505.85 195.79,505.89 196.37,505.92 196.95,505.95 197.54,505.99 198.12,506.02 198.70,506.06 199.28,506.09 199.86,506.13 200.44,506.16 201.02,506.20 201.61,506.23 202.19,506.27 202.77,506.30 203.35,506.33 203.93,506.37 204.51,506.40 205.09,506.44 205.68,506.47 206.26,506.51 206.84,506.54 207.42,506.58 208.00,506.61 208.58,506.65 209.16,506.68 209.75,506.72 210.33,506.75 210.91,506.78 211.49,506.82 212.07,506.85 212.65,506.89 213.23,506.92 213.82,506.96 214.40,506.99 214.98,507.03 215.56,507.06 216.14,507.10 216.72,507.13 217.30,507.17 217.89,507.20 218.47,507.24 219.05,507.27 219.63,507.31 220.21,507.34 220.79,507.38 221.37,507.41 221.96,507.45 222.54,507.48 223.12,507.52 223.70,507.55 224.28,507.58 224.86,507.62 225.45,507.65 226.03,507.69 226.61,507.72 227.19,507.76 227.77,507.79 228.35,507.83 228.93,507.86 229.52,507.90 230.10,507.93 230.68,507.97 231.26,508.00 231.84,508.04 232.42,508.07 233.00,508.11 233.59,508.14 234.17,508.18 234.75,508.21 235.33,508.25 235.91,508.28 236.49,508.32 237.07,508.36 237.66,508.39 238.24,508.43 238.82,508.46 239.40,508.50 239.98,508.53 240.56,508.57 241.14,508.60 241.73,508.64 242.31,508.67 242.89,508.71 243.47,508.74 244.05,508.78 244.63,508.81 245.21,508.85 245.80,508.88 246.38,508.92 246.96,508.95 247.54,508.99 248.12,509.02 248.70,509.06 249.28,509.09 249.87,509.13 250.45,509.17 251.03,509.20 251.61,509.24 252.19,509.27 252.77,509.31 253.35,509.34 253.94,509.38 254.52,509.41 255.10,509.45 255.68,509.48 256.26,509.52 256.84,509.55 257.42,509.59 258.01,509.63 258.59,509.66 259.17,509.70 259.75,509.73 260.33,509.77 260.92,509.80 261.50,509.84 262.09,509.87 262.67,509.91 263.26,509.95 263.85,509.98 264.44,510.02 265.03,510.05 265.63,510.09 266.22,510.13 266.82,510.16 267.42,510.20 268.03,510.24 268.63,510.28 269.24,510.31 269.85,510.35 270.47,510.39 271.08,510.43 271.71,510.46 272.33,510.50 272.96,510.54 273.59,510.58 274.23,510.62 274.87,510.66 275.51,510.70 276.16,510.74 276.81,510.78 277.47,510.82 278.13,510.86 278.80,510.90 279.47,510.94 280.15,510.98 280.84,511.03 281.53,511.07 282.22,511.11 282.92,511.15 283.63,511.20 284.34,511.24 285.06,511.29 285.79,511.33 286.52,511.38 287.26,511.42 288.01,511.47 288.76,511.51 289.53,511.56 290.31,511.61 291.10,511.66 291.90,511.71 292.71,511.76 293.54,511.81 294.38,511.86 295.24,511.92 296.11,511.97 297.00,512.02 297.90,512.08 298.83,512.14 299.77,512.20 300.73,512.26 301.71,512.32 302.71,512.38 303.74,512.44 304.78,512.51 305.85,512.58 306.95,512.64 308.06,512.71 309.21,512.78 310.38,512.86 311.57,512.93 312.80,513.01 314.05,513.09 315.33,513.17 316.64,513.25 317.98,513.33 319.35,513.42 320.75,513.51 322.19,513.60 323.66,513.69 325.17,513.78 326.70,513.88 328.28,513.98 329.89,514.08 331.54,514.18 333.23,514.29 334.95,514.40" fill="none" stroke="#000000" stroke-width="1.7" stroke-linejoin="round"/><rect x="47.60" y="493.82" width="7.60" height="7.60" fill="#000000"/><rect x="73.38" y="495.25" width="7.60" height="7.60" fill="#000000"/><rect x="99.15" y="496.70" width="7.60" height="7.60" fill="#000000"/><rect x="124.93" y="498.17" width="7.60" height="7.60" fill="#000000"/><rect x="150.71" y="499.66" width="7.60" height="7.60" fill="#000000"/><rect x="176.49" y="501.17" width="7.60" height="7.60" fill="#000000"/><rect x="202.26" y="502.69" width="7.60" height="7.60" fill="#000000"/><rect x="228.04" y="504.24" width="7.60" height="7.60" fill="#000000"/><rect x="253.82" y="505.80" width="7.60" height="7.60" fill="#000000"/><rect x="279.60" y="507.38" width="7.60" height="7.60" fill="#000000"/><rect x="305.37" y="508.98" width="7.60" height="7.60" fill="#000000"/><rect x="331.15" y="510.60" width="7.60" height="7.60" fill="#000000"/><polyline points="51.40,454.90 53.12,454.96 54.81,455.02 56.46,455.08 58.07,455.14 59.65,455.20 61.18,455.26 62.69,455.31 64.16,455.37 65.60,455.42 67.00,455.47 68.37,455.52 69.71,455.57 71.02,455.62 72.30,455.67 73.55,455.72 74.78,455.76 75.97,455.81 77.14,455.85 78.29,455.89 79.40,455.93 80.50,455.97 81.57,456.01 82.61,456.05 83.64,456.09 84.64,456.13 85.62,456.16 86.58,456.20 87.52,456.24 88.45,456.27 89.35,456.30 90.24,456.34 91.11,456.37 91.97,456.40 92.81,456.43 93.64,456.46 94.45,456.49 95.25,456.52 96.04,456.55 96.82,456.58 97.59,456.61 98.34,456.64 99.09,456.67 99.83,456.70 100.56,456.72 101.29,456.75 102.01,456.78 102.72,456.80 103.43,456.83 104.13,456.86 104.82,456.88 105.51,456.91 106.20,456.94 106.88,456.96 107.55,456.99 108.22,457.01 108.88,457.04 109.54,457.06 110.19,457.09 110.84,457.11 111.48,457.13 112.12,457.16 112.76,457.18 113.39,457.21 114.02,457.23 114.64,457.25 115.27,457.28 115.88,457.30 116.50,457.32 117.11,457.35 117.72,457.37 118.32,457.39 118.93,457.42 119.53,457.44 120.13,457.46 120.72,457.48 121.32,457.51 121.91,457.53 122.50,457.55 123.09,457.57 123.68,457.60 124.26,457.62 124.85,457.64 125.43,457.66 126.02,457.68 126.60,457.71 127.18,457.73 127.76,457.75 128.34,457.77 128.93,457.80 129.51,457.82 130.09,457.84 130.67,457.86 131.25,457.88 131.83,457.91 132.41,457.93 133.00,457.95 133.58,457.97 134.16,458.00 134.74,458.02 135.32,458.04 135.90,458.06 136.48,458.08 137.07,458.11 137.65,458.13 138.23,458.15 138.81,458.17 139.39,458.20 139.97,458.22 140.55,458.24 141.14,458.26 141.72,458.28 142.30,458.31 142.88,458.33 143.46,458.35 144.04,458.37 144.62,458.40 145.21,458.42 145.79,458.44 146.37,458.46 146.95,458.48 147.53,458.51 148.11,458.53 148.69,458.55 149.28,458.57 149.86,458.60 150.44,458.62 151.02,458.64 151.60,458.66 152.18,458.69 152.76,458.71 153.35,458.73 153.93,458.75 154.51,458.78 155.09,458.80 155.67,458.82 156.25,458.84 156.83,458.87 157.42,458.89 158.00,458.91 158.58,458.93 159.16,458.95 159.74,458.98 160.32,459.00 160.90,459.02 161.49,459.04 162.07,459.07 162.65,459.09 163.23,459.11 163.81,459.13 164.39,459.16 164.98,459.18 165.56,459.20 166.14,459.22 166.72,459.25 167.30,459.27 167.88,459.29 168.46,459.31 169.05,459.34 169.63,459.36 170.21,459.38 170.79,459.41 171.37,459.43 171.95,459.45 172.53,459.47 173.12,459.50 173.70,459.52 174.28,459.54 174.86,459.56 175.44,459.59 176.02,459.61 176.60,459.63 177.19,459.65 177.77,459.68 178.35,459.70 178.93,459.72 179.51,459.74 180.09,459.77 180.67,459.79 181.26,459.81 181.84,459.84 182.42,459.86 183.00,459.88 183.58,459.90 184.16,459.93 184.74,459.95 185.33,459.97 185.91,459.99 186.49,460.02 187.07,460.04 187.65,460.06 188.23,460.08 188.81,460.11 189.40,460.13 189.98,460.15 190.56,460.18 191.14,460.20 191.72,460.22 192.30,460.24 192.88,460.27 193.47,460.29 194.05,460.31 194.63,460.34 195.21,460.36 195.79,460.38 196.37,460.40 196.95,460.43 197.54,460.45 198.12,460.47 198.70,460.50 199.28,460.52 199.86,460.54 200.44,460.56 201.02,460.59 201.61,460.61 202.19,460.63 202.77,460.66 203.35,460.68 203.93,460.70 204.51,460.72 205.09,460.75 205.68,460.77 206.26,460.79 206.84,460.82 207.42,460.84 208.00,460.86 208.58,460.88 209.16,460.91 209.75,460.93 210.33,460.95 210.91,460.98 211.49,461.00 212.07,461.02 212.65,461.05 213.23,461.07 213.82,461.09 214.40,461.11 214.98,461.14 215.56,461.16 216.14,461.18 216.72,461.21 217.30,461.23 217.89,461.25 218.47,461.28 219.05,461.30 219.63,461.32 220.21,461.35 220.79,461.37 221.37,461.39 221.96,461.41 222.54,461.44 223.12,461.46 223.70,461.48 224.28,461.51 224.86,461.53 225.45,461.55 226.03,461.58 226.61,461.60 227.19,461.62 227.77,461.65 228.35,461.67 228.93,461.69 229.52,461.72 230.10,461.74 230.68,461.76 231.26,461.78 231.84,461.81 232.42,461.83 233.00,461.85 233.59,461.88 234.17,461.90 234.75,461.92 235.33,461.95 235.91,461.97 236.49,461.99 237.07,462.02 237.66,462.04 238.24,462.06 238.82,462.09 239.40,462.11 239.98,462.13 240.56,462.16 241.14,462.18 241.73,462.20 242.31,462.23 242.89,462.25 243.47,462.27 244.05,462.30 244.63,462.32 245.21,462.34 245.80,462.37 246.38,462.39 246.96,462.41 247.54,462.44 248.12,462.46 248.70,462.48 249.28,462.51 249.87,462.53 250.45,462.55 251.03,462.58 251.61,462.60 252.19,462.62 252.77,462.65 253.35,462.67 253.94,462.69 254.52,462.72 255.10,462.74 255.68,462.76 256.26,462.79 256.84,462.81 257.42,462.83 258.01,462.86 258.59,462.88 259.17,462.91 259.75,462.93 260.33,462.95 260.92,462.98 261.50,463.00 262.09,463.02 262.67,463.05 263.26,463.07 263.85,463.09 264.44,463.12 265.03,463.14 265.63,463.17 266.22,463.19 266.82,463.22 267.42,463.24 268.03,463.26 268.63,463.29 269.24,463.31 269.85,463.34 270.47,463.36 271.08,463.39 271.71,463.41 272.33,463.44 272.96,463.46 273.59,463.49 274.23,463.52 274.87,463.54 275.51,463.57 276.16,463.59 276.81,463.62 277.47,463.65 278.13,463.67 278.80,463.70 279.47,463.73 280.15,463.76 280.84,463.79 281.53,463.81 282.22,463.84 282.92,463.87 283.63,463.90 284.34,463.93 285.06,463.96 285.79,463.99 286.52,464.02 287.26,464.05 288.01,464.08 288.76,464.11 289.53,464.14 290.31,464.17 291.10,464.20 291.90,464.24 292.71,464.27 293.54,464.30 294.38,464.34 295.24,464.37 296.11,464.41 297.00,464.45 297.90,464.48 298.83,464.52 299.77,464.56 300.73,464.60 301.71,464.64 302.71,464.68 303.74,464.72 304.78,464.77 305.85,464.81 306.95,464.86 308.06,464.90 309.21,464.95 310.38,465.00 311.57,465.05 312.80,465.10 314.05,465.15 315.33,465.20 316.64,465.26 317.98,465.31 319.35,465.37 320.75,465.43 322.19,465.49 323.66,465.55 325.17,465.61 326.70,465.67 328.28,465.74 329.89,465.81 331.54,465.87 333.23,465.94 334.95,466.02" fill="none" stroke="#FF0000" stroke-width="1.7" stroke-linejoin="round"/><circle cx="51.40" cy="454.90" r="4.20" fill="#FF0000"/><circle cx="77.18" cy="455.85" r="4.20" fill="#FF0000"/><circle cx="102.95" cy="456.81" r="4.20" fill="#FF0000"/><circle cx="128.73" cy="457.79" r="4.20" fill="#FF0000"/><circle cx="154.51" cy="458.77" r="4.20" fill="#FF0000"/><circle cx="180.29" cy="459.77" r="4.20" fill="#FF0000"/><circle cx="206.06" cy="460.78" r="4.20" fill="#FF0000"/><circle cx="231.84" cy="461.81" r="4.20" fill="#FF0000"/><circle cx="257.62" cy="462.84" r="4.20" fill="#FF0000"/><circle cx="283.40" cy="463.89" r="4.20" fill="#FF0000"/><circle cx="309.17" cy="464.95" r="4.20" fill="#FF0000"/><circle cx="334.95" cy="466.02" r="4.20" fill="#FF0000"/><polyline points="51.40,419.06 53.12,419.12 54.81,419.17 56.46,419.21 58.07,419.26 59.65,419.31 61.18,419.35 62.69,419.40 64.16,419.44 65.60,419.48 67.00,419.53 68.37,419.57 69.71,419.61 71.02,419.65 72.30,419.68 73.55,419.72 74.78,419.76 75.97,419.79 77.14,419.83 78.29,419.86 79.40,419.90 80.50,419.93 81.57,419.96 82.61,419.99 83.64,420.02 84.64,420.05 85.62,420.08 86.58,420.11 87.52,420.14 88.45,420.17 89.35,420.20 90.24,420.22 91.11,420.25 91.97,420.28 92.81,420.30 93.64,420.33 94.45,420.35 95.25,420.38 96.04,420.40 96.82,420.42 97.59,420.45 98.34,420.47 99.09,420.49 99.83,420.52 100.56,420.54 101.29,420.56 102.01,420.58 102.72,420.61 103.43,420.63 104.13,420.65 104.82,420.67 105.51,420.69 106.20,420.71 106.88,420.73 107.55,420.76 108.22,420.78 108.88,420.80 109.54,420.82 110.19,420.84 110.84,420.86 111.48,420.88 112.12,420.90 112.76,420.92 113.39,420.94 114.02,420.96 114.64,420.98 115.27,421.00 115.88,421.01 116.50,421.03 117.11,421.05 117.72,421.07 118.32,421.09 118.93,421.11 119.53,421.13 120.13,421.15 120.72,421.17 121.32,421.18 121.91,421.20 122.50,421.22 123.09,421.24 123.68,421.26 124.26,421.28 124.85,421.30 125.43,421.31 126.02,421.33 126.60,421.35 127.18,421.37 127.76,421.39 128.34,421.41 128.93,421.43 129.51,421.44 130.09,421.46 130.67,421.48 131.25,421.50 131.83,421.52 132.41,421.54 133.00,421.55 133.58,421.57 134.16,421.59 134.74,421.61 135.32,421.63 135.90,421.65 136.48,421.67 137.07,421.68 137.65,421.70 138.23,421.72 138.81,421.74 139.39,421.76 139.97,421.78 140.55,421.80 141.14,421.82 141.72,421.83 142.30,421.85 142.88,421.87 143.46,421.89 144.04,421.91 144.62,421.93 145.21,421.95 145.79,421.97 146.37,421.98 146.95,422.00 147.53,422.02 148.11,422.04 148.69,422.06 149.28,422.08 149.86,422.10 150.44,422.12 151.02,422.13 151.60,422.15 152.18,422.17 152.76,422.19 153.35,422.21 153.93,422.23 154.51,422.25 155.09,422.27 155.67,422.29 156.25,422.31 156.83,422.32 157.42,422.34 158.00,422.36 158.58,422.38 159.16,422.40 159.74,422.42 160.32,422.44 160.90,422.46 161.49,422.48 162.07,422.50 162.65,422.51 163.23,422.53 163.81,422.55 164.39,422.57 164.98,422.59 165.56,422.61 166.14,422.63 166.72,422.65 167.30,422.67 167.88,422.69 168.46,422.71 169.05,422.73 169.63,422.75 170.21,422.76 170.79,422.78 171.37,422.80 171.95,422.82 172.53,422.84 173.12,422.86 173.70,422.88 174.28,422.90 174.86,422.92 175.44,422.94 176.02,422.96 176.60,422.98 177.19,423.00 177.77,423.02 178.35,423.04 178.93,423.05 179.51,423.07 180.09,423.09 180.67,423.11 181.26,423.13 181.84,423.15 182.42,423.17 183.00,423.19 183.58,423.21 184.16,423.23 184.74,423.25 185.33,423.27 185.91,423.29 186.49,423.31 187.07,423.33 187.65,423.35 188.23,423.37 188.81,423.39 189.40,423.41 189.98,423.43 190.56,423.45 191.14,423.47 191.72,423.49 192.30,423.51 192.88,423.53 193.47,423.54 194.05,423.56 194.63,423.58 195.21,423.60 195.79,423.62 196.37,423.64 196.95,423.66 197.54,423.68 198.12,423.70 198.70,423.72 199.28,423.74 199.86,423.76 200.44,423.78 201.02,423.80 201.61,423.82 202.19,423.84 202.77,423.86 203.35,423.88 203.93,423.90 204.51,423.92 205.09,423.94 205.68,423.96 206.26,423.98 206.84,424.00 207.42,424.02 208.00,424.04 208.58,424.06 209.16,424.08 209.75,424.10 210.33,424.12 210.91,424.14 211.49,424.16 212.07,424.18 212.65,424.20 213.23,424.22 213.82,424.24 214.40,424.26 214.98,424.28 215.56,424.30 216.14,424.32 216.72,424.34 217.30,424.36 217.89,424.38 218.47,424.40 219.05,424.42 219.63,424.44 220.21,424.47 220.79,424.49 221.37,424.51 221.96,424.53 222.54,424.55 223.12,424.57 223.70,424.59 224.28,424.61 224.86,424.63 225.45,424.65 226.03,424.67 226.61,424.69 227.19,424.71 227.77,424.73 228.35,424.75 228.93,424.77 229.52,424.79 230.10,424.81 230.68,424.83 231.26,424.85 231.84,424.87 232.42,424.89 233.00,424.91 233.59,424.93 234.17,424.96 234.75,424.98 235.33,425.00 235.91,425.02 236.49,425.04 237.07,425.06 237.66,425.08 238.24,425.10 238.82,425.12 239.40,425.14 239.98,425.16 240.56,425.18 241.14,425.20 241.73,425.22 242.31,425.24 242.89,425.26 243.47,425.29 244.05,425.31 244.63,425.33 245.21,425.35 245.80,425.37 246.38,425.39 246.96,425.41 247.54,425.43 248.12,425.45 248.70,425.47 249.28,425.49 249.87,425.51 250.45,425.54 251.03,425.56 251.61,425.58 252.19,425.60 252.77,425.62 253.35,425.64 253.94,425.66 254.52,425.68 255.10,425.70 255.68,425.72 256.26,425.74 256.84,425.77 257.42,425.79 258.01,425.81 258.59,425.83 259.17,425.85 259.75,425.87 260.33,425.89 260.92,425.91 261.50,425.93 262.09,425.96 262.67,425.98 263.26,426.00 263.85,426.02 264.44,426.04 265.03,426.06 265.63,426.08 266.22,426.11 266.82,426.13 267.42,426.15 268.03,426.17 268.63,426.19 269.24,426.22 269.85,426.24 270.47,426.26 271.08,426.28 271.71,426.31 272.33,426.33 272.96,426.35 273.59,426.38 274.23,426.40 274.87,426.42 275.51,426.45 276.16,426.47 276.81,426.49 277.47,426.52 278.13,426.54 278.80,426.57 279.47,426.59 280.15,426.62 280.84,426.64 281.53,426.67 282.22,426.69 282.92,426.72 283.63,426.75 284.34,426.77 285.06,426.80 285.79,426.83 286.52,426.85 287.26,426.88 288.01,426.91 288.76,426.94 289.53,426.97 290.31,426.99 291.10,427.02 291.90,427.05 292.71,427.08 293.54,427.12 294.38,427.15 295.24,427.18 296.11,427.21 297.00,427.25 297.90,427.28 298.83,427.31 299.77,427.35 300.73,427.39 301.71,427.42 302.71,427.46 303.74,427.50 304.78,427.54 305.85,427.58 306.95,427.62 308.06,427.66 309.21,427.71 310.38,427.75 311.57,427.80 312.80,427.84 314.05,427.89 315.33,427.94 316.64,427.99 317.98,428.04 319.35,428.09 320.75,428.15 322.19,428.20 323.66,428.26 325.17,428.31 326.70,428.37 328.28,428.43 329.89,428.49 331.54,428.56 333.23,428.62 334.95,428.69" fill="none" stroke="#0000FF" stroke-width="1.7" stroke-linejoin="round"/><polygon points="51.40,413.78 56.40,422.58 46.40,422.58" fill="#0000FF"/><polygon points="77.18,414.55 82.18,423.35 72.18,423.35" fill="#0000FF"/><polygon points="102.95,415.33 107.95,424.13 97.95,424.13" fill="#0000FF"/><polygon points="128.73,416.14 133.73,424.94 123.73,424.94" fill="#0000FF"/><polygon points="154.51,416.96 159.51,425.76 149.51,425.76" fill="#0000FF"/><polygon points="180.29,417.82 185.29,426.62 175.29,426.62" fill="#0000FF"/><polygon points="206.06,418.69 211.06,427.49 201.06,427.49" fill="#0000FF"/><polygon points="231.84,419.59 236.84,428.39 226.84,428.39" fill="#0000FF"/><polygon points="257.62,420.51 262.62,429.31 252.62,429.31" fill="#0000FF"/><polygon points="283.40,421.45 288.40,430.25 278.40,430.25" fill="#0000FF"/><polygon points="309.17,422.42 314.17,431.22 304.17,431.22" fill="#0000FF"/><polygon points="334.95,423.41 339.95,432.21 329.95,432.21" fill="#0000FF"/><polyline points="51.40,389.54 53.12,389.60 54.81,389.66 56.46,389.71 58.07,389.77 59.65,389.82 61.18,389.87 62.69,389.93 64.16,389.98 65.60,390.02 67.00,390.07 68.37,390.12 69.71,390.16 71.02,390.21 72.30,390.25 73.55,390.29 74.78,390.33 75.97,390.37 77.14,390.41 78.29,390.45 79.40,390.49 80.50,390.53 81.57,390.56 82.61,390.60 83.64,390.63 84.64,390.67 85.62,390.70 86.58,390.73 87.52,390.76 88.45,390.79 89.35,390.82 90.24,390.85 91.11,390.88 91.97,390.91 92.81,390.94 93.64,390.97 94.45,390.99 95.25,391.02 96.04,391.05 96.82,391.07 97.59,391.10 98.34,391.12 99.09,391.15 99.83,391.17 100.56,391.20 101.29,391.22 102.01,391.25 102.72,391.27 103.43,391.29 104.13,391.32 104.82,391.34 105.51,391.36 106.20,391.38 106.88,391.41 107.55,391.43 108.22,391.45 108.88,391.47 109.54,391.49 110.19,391.52 110.84,391.54 111.48,391.56 112.12,391.58 112.76,391.60 113.39,391.62 114.02,391.64 114.64,391.66 115.27,391.68 115.88,391.70 116.50,391.72 117.11,391.74 117.72,391.76 118.32,391.78 118.93,391.80 119.53,391.82 120.13,391.84 120.72,391.86 121.32,391.88 121.91,391.90 122.50,391.92 123.09,391.94 123.68,391.96 124.26,391.98 124.85,392.00 125.43,392.02 126.02,392.03 126.60,392.05 127.18,392.07 127.76,392.09 128.34,392.11 128.93,392.13 129.51,392.15 130.09,392.17 130.67,392.19 131.25,392.20 131.83,392.22 132.41,392.24 133.00,392.26 133.58,392.28 134.16,392.30 134.74,392.32 135.32,392.34 135.90,392.35 136.48,392.37 137.07,392.39 137.65,392.41 138.23,392.43 138.81,392.45 139.39,392.47 139.97,392.49 140.55,392.50 141.14,392.52 141.72,392.54 142.30,392.56 142.88,392.58 143.46,392.60 144.04,392.62 144.62,392.64 145.21,392.65 145.79,392.67 146.37,392.69 146.95,392.71 147.53,392.73 148.11,392.75 148.69,392.77 149.28,392.78 149.86,392.80 150.44,392.82 151.02,392.84 151.60,392.86 152.18,392.88 152.76,392.90 153.35,392.92 153.93,392.93 154.51,392.95 155.09,392.97 155.67,392.99 156.25,393.01 156.83,393.03 157.42,393.04 158.00,393.06 158.58,393.08 159.16,393.10 159.74,393.12 160.32,393.14 160.90,393.16 161.49,393.17 162.07,393.19 162.65,393.21 163.23,393.23 163.81,393.25 164.39,393.27 164.98,393.28 165.56,393.30 166.14,393.32 166.72,393.34 167.30,393.36 167.88,393.38 168.46,393.39 169.05,393.41 169.63,393.43 170.21,393.45 170.79,393.47 171.37,393.49 171.95,393.50 172.53,393.52 173.12,393.54 173.70,393.56 174.28,393.58 174.86,393.60 175.44,393.61 176.02,393.63 176.60,393.65 177.19,393.67 177.77,393.69 178.35,393.71 178.93,393.72 179.51,393.74 180.09,393.76 180.67,393.78 181.26,393.80 181.84,393.81 182.42,393.83 183.00,393.85 183.58,393.87 184.16,393.89 184.74,393.91 185.33,393.92 185.91,393.94 186.49,393.96 187.07,393.98 187.65,394.00 188.23,394.01 188.81,394.03 189.40,394.05 189.98,394.07 190.56,394.09 191.14,394.10 191.72,394.12 192.30,394.14 192.88,394.16 193.47,394.18 194.05,394.19 194.63,394.21 195.21,394.23 195.79,394.25 196.37,394.27 196.95,394.28 197.54,394.30 198.12,394.32 198.70,394.34 199.28,394.36 199.86,394.37 200.44,394.39 201.02,394.41 201.61,394.43 202.19,394.45 202.77,394.46 203.35,394.48 203.93,394.50 204.51,394.52 205.09,394.53 205.68,394.55 206.26,394.57 206.84,394.59 207.42,394.61 208.00,394.62 208.58,394.64 209.16,394.66 209.75,394.68 210.33,394.69 210.91,394.71 211.49,394.73 212.07,394.75 212.65,394.77 213.23,394.78 213.82,394.80 214.40,394.82 214.98,394.84 215.56,394.85 216.14,394.87 216.72,394.89 217.30,394.91 217.89,394.92 218.47,394.94 219.05,394.96 219.63,394.98 220.21,395.00 220.79,395.01 221.37,395.03 221.96,395.05 222.54,395.07 223.12,395.08 223.70,395.10 224.28,395.12 224.86,395.14 225.45,395.15 226.03,395.17 226.61,395.19 227.19,395.21 227.77,395.22 228.35,395.24 228.93,395.26 229.52,395.28 230.10,395.29 230.68,395.31 231.26,395.33 231.84,395.35 232.42,395.36 233.00,395.38 233.59,395.40 234.17,395.42 234.75,395.43 235.33,395.45 235.91,395.47 236.49,395.49 237.07,395.50 237.66,395.52 238.24,395.54 238.82,395.56 239.40,395.57 239.98,395.59 240.56,395.61 241.14,395.62 241.73,395.64 242.31,395.66 242.89,395.68 243.47,395.69 244.05,395.71 244.63,395.73 245.21,395.75 245.80,395.76 246.38,395.78 246.96,395.80 247.54,395.82 248.12,395.83 248.70,395.85 249.28,395.87 249.87,395.88 250.45,395.90 251.03,395.92 251.61,395.94 252.19,395.95 252.77,395.97 253.35,395.99 253.94,396.00 254.52,396.02 255.10,396.04 255.68,396.06 256.26,396.07 256.84,396.09 257.42,396.11 258.01,396.12 258.59,396.14 259.17,396.16 259.75,396.18 260.33,396.19 260.92,396.21 261.50,396.23 262.09,396.24 262.67,396.26 263.26,396.28 263.85,396.30 264.44,396.31 265.03,396.33 265.63,396.35 266.22,396.37 266.82,396.38 267.42,396.40 268.03,396.42 268.63,396.44 269.24,396.45 269.85,396.47 270.47,396.49 271.08,396.51 271.71,396.52 272.33,396.54 272.96,396.56 273.59,396.58 274.23,396.60 274.87,396.62 275.51,396.64 276.16,396.65 276.81,396.67 277.47,396.69 278.13,396.71 278.80,396.73 279.47,396.75 280.15,396.77 280.84,396.79 281.53,396.81 282.22,396.83 282.92,396.85 283.63,396.87 284.34,396.89 285.06,396.91 285.79,396.93 286.52,396.95 287.26,396.97 288.01,397.00 288.76,397.02 289.53,397.04 290.31,397.06 291.10,397.08 291.90,397.11 292.71,397.13 293.54,397.15 294.38,397.18 295.24,397.20 296.11,397.23 297.00,397.25 297.90,397.28 298.83,397.30 299.77,397.33 300.73,397.36 301.71,397.39 302.71,397.42 303.74,397.44 304.78,397.47 305.85,397.50 306.95,397.53 308.06,397.57 309.21,397.60 310.38,397.63 311.57,397.67 312.80,397.70 314.05,397.74 315.33,397.77 316.64,397.81 317.98,397.85 319.35,397.88 320.75,397.92 322.19,397.96 323.66,398.01 325.17,398.05 326.70,398.09 328.28,398.13 329.89,398.18 331.54,398.23 333.23,398.27 334.95,398.32" fill="none" stroke="#008000" stroke-width="1.7" stroke-linejoin="round"/><polygon points="51.40,394.82 56.40,386.02 46.40,386.02" fill="#008000"/><polygon points="77.18,395.70 82.18,386.90 72.18,386.90" fill="#008000"/><polygon points="102.95,396.56 107.95,387.76 97.95,387.76" fill="#008000"/><polygon points="128.73,397.41 133.73,388.61 123.73,388.61" fill="#008000"/><polygon points="154.51,398.23 159.51,389.43 149.51,389.43" fill="#008000"/><polygon points="180.29,399.05 185.29,390.25 175.29,390.25" fill="#008000"/><polygon points="206.06,399.85 211.06,391.05 201.06,391.05" fill="#008000"/><polygon points="231.84,400.63 236.84,391.83 226.84,391.83" fill="#008000"/><polygon points="257.62,401.40 262.62,392.60 252.62,392.60" fill="#008000"/><polygon points="283.40,402.15 288.40,393.35 278.40,393.35" fill="#008000"/><polygon points="309.17,402.88 314.17,394.08 304.17,394.08" fill="#008000"/><polygon points="334.95,403.60 339.95,394.80 329.95,394.80" fill="#008000"/><polyline points="51.40,362.88 53.12,362.94 54.81,363.00 56.46,363.06 58.07,363.11 59.65,363.17 61.18,363.22 62.69,363.27 64.16,363.32 65.60,363.37 67.00,363.42 68.37,363.47 69.71,363.51 71.02,363.56 72.30,363.60 73.55,363.65 74.78,363.69 75.97,363.73 77.14,363.77 78.29,363.81 79.40,363.85 80.50,363.88 81.57,363.92 82.61,363.96 83.64,363.99 84.64,364.03 85.62,364.06 86.58,364.09 87.52,364.12 88.45,364.16 89.35,364.19 90.24,364.22 91.11,364.25 91.97,364.27 92.81,364.30 93.64,364.33 94.45,364.36 95.25,364.38 96.04,364.41 96.82,364.44 97.59,364.46 98.34,364.49 99.09,364.51 99.83,364.54 100.56,364.56 101.29,364.59 102.01,364.61 102.72,364.63 103.43,364.66 104.13,364.68 104.82,364.70 105.51,364.73 106.20,364.75 106.88,364.77 107.55,364.80 108.22,364.82 108.88,364.84 109.54,364.86 110.19,364.88 110.84,364.90 111.48,364.93 112.12,364.95 112.76,364.97 113.39,364.99 114.02,365.01 114.64,365.03 115.27,365.05 115.88,365.07 116.50,365.09 117.11,365.11 117.72,365.13 118.32,365.15 118.93,365.17 119.53,365.19 120.13,365.21 120.72,365.23 121.32,365.25 121.91,365.27 122.50,365.29 123.09,365.31 123.68,365.32 124.26,365.34 124.85,365.36 125.43,365.38 126.02,365.40 126.60,365.42 127.18,365.44 127.76,365.46 128.34,365.48 128.93,365.49 129.51,365.51 130.09,365.53 130.67,365.55 131.25,365.57 131.83,365.59 132.41,365.61 133.00,365.63 133.58,365.64 134.16,365.66 134.74,365.68 135.32,365.70 135.90,365.72 136.48,365.74 137.07,365.76 137.65,365.78 138.23,365.79 138.81,365.81 139.39,365.83 139.97,365.85 140.55,365.87 141.14,365.89 141.72,365.90 142.30,365.92 142.88,365.94 143.46,365.96 144.04,365.98 144.62,366.00 145.21,366.02 145.79,366.03 146.37,366.05 146.95,366.07 147.53,366.09 148.11,366.11 148.69,366.13 149.28,366.14 149.86,366.16 150.44,366.18 151.02,366.20 151.60,366.22 152.18,366.24 152.76,366.25 153.35,366.27 153.93,366.29 154.51,366.31 155.09,366.33 155.67,366.34 156.25,366.36 156.83,366.38 157.42,366.40 158.00,366.42 158.58,366.44 159.16,366.45 159.74,366.47 160.32,366.49 160.90,366.51 161.49,366.53 162.07,366.54 162.65,366.56 163.23,366.58 163.81,366.60 164.39,366.62 164.98,366.63 165.56,366.65 166.14,366.67 166.72,366.69 167.30,366.71 167.88,366.72 168.46,366.74 169.05,366.76 169.63,366.78 170.21,366.80 170.79,366.81 171.37,366.83 171.95,366.85 172.53,366.87 173.12,366.88 173.70,366.90 174.28,366.92 174.86,366.94 175.44,366.96 176.02,366.97 176.60,366.99 177.19,367.01 177.77,367.03 178.35,367.04 178.93,367.06 179.51,367.08 180.09,367.10 180.67,367.11 181.26,367.13 181.84,367.15 182.42,367.17 183.00,367.18 183.58,367.20 184.16,367.22 184.74,367.24 185.33,367.25 185.91,367.27 186.49,367.29 187.07,367.31 187.65,367.32 188.23,367.34 188.81,367.36 189.40,367.38 189.98,367.39 190.56,367.41 191.14,367.43 191.72,367.45 192.30,367.46 192.88,367.48 193.47,367.50 194.05,367.52 194.63,367.53 195.21,367.55 195.79,367.57 196.37,367.59 196.95,367.60 197.54,367.62 198.12,367.64 198.70,367.65 199.28,367.67 199.86,367.69 200.44,367.71 201.02,367.72 201.61,367.74 202.19,367.76 202.77,367.77 203.35,367.79 203.93,367.81 204.51,367.83 205.09,367.84 205.68,367.86 206.26,367.88 206.84,367.89 207.42,367.91 208.00,367.93 208.58,367.94 209.16,367.96 209.75,367.98 210.33,368.00 210.91,368.01 211.49,368.03 212.07,368.05 212.65,368.06 213.23,368.08 213.82,368.10 214.40,368.11 214.98,368.13 215.56,368.15 216.14,368.16 216.72,368.18 217.30,368.20 217.89,368.22 218.47,368.23 219.05,368.25 219.63,368.27 220.21,368.28 220.79,368.30 221.37,368.32 221.96,368.33 222.54,368.35 223.12,368.37 223.70,368.38 224.28,368.40 224.86,368.42 225.45,368.43 226.03,368.45 226.61,368.47 227.19,368.48 227.77,368.50 228.35,368.51 228.93,368.53 229.52,368.55 230.10,368.56 230.68,368.58 231.26,368.60 231.84,368.61 232.42,368.63 233.00,368.65 233.59,368.66 234.17,368.68 234.75,368.70 235.33,368.71 235.91,368.73 236.49,368.75 237.07,368.76 237.66,368.78 238.24,368.79 238.82,368.81 239.40,368.83 239.98,368.84 240.56,368.86 241.14,368.88 241.73,368.89 242.31,368.91 242.89,368.92 243.47,368.94 244.05,368.96 244.63,368.97 245.21,368.99 245.80,369.01 246.38,369.02 246.96,369.04 247.54,369.05 248.12,369.07 248.70,369.09 249.28,369.10 249.87,369.12 250.45,369.13 251.03,369.15 251.61,369.17 252.19,369.18 252.77,369.20 253.35,369.21 253.94,369.23 254.52,369.25 255.10,369.26 255.68,369.28 256.26,369.29 256.84,369.31 257.42,369.33 258.01,369.34 258.59,369.36 259.17,369.37 259.75,369.39 260.33,369.41 260.92,369.42 261.50,369.44 262.09,369.45 262.67,369.47 263.26,369.48 263.85,369.50 264.44,369.52 265.03,369.53 265.63,369.55 266.22,369.56 266.82,369.58 267.42,369.60 268.03,369.61 268.63,369.63 269.24,369.65 269.85,369.66 270.47,369.68 271.08,369.70 271.71,369.71 272.33,369.73 272.96,369.75 273.59,369.76 274.23,369.78 274.87,369.80 275.51,369.81 276.16,369.83 276.81,369.85 277.47,369.87 278.13,369.88 278.80,369.90 279.47,369.92 280.15,369.94 280.84,369.95 281.53,369.97 282.22,369.99 282.92,370.01 283.63,370.03 284.34,370.05 285.06,370.07 285.79,370.08 286.52,370.10 287.26,370.12 288.01,370.14 288.76,370.16 289.53,370.18 290.31,370.20 291.10,370.22 291.90,370.24 292.71,370.27 293.54,370.29 294.38,370.31 295.24,370.33 296.11,370.35 297.00,370.38 297.90,370.40 298.83,370.42 299.77,370.45 300.73,370.47 301.71,370.50 302.71,370.52 303.74,370.55 304.78,370.58 305.85,370.60 306.95,370.63 308.06,370.66 309.21,370.69 310.38,370.72 311.57,370.75 312.80,370.78 314.05,370.81 315.33,370.84 316.64,370.88 317.98,370.91 319.35,370.94 320.75,370.98 322.19,371.02 323.66,371.05 325.17,371.09 326.70,371.13 328.28,371.17 329.89,371.21 331.54,371.25 333.23,371.29 334.95,371.33" fill="none" stroke="#800080" stroke-width="1.7" stroke-linejoin="round"/><polygon points="51.40,357.88 56.40,362.88 51.40,367.88 46.40,362.88" fill="#800080"/><polygon points="77.18,358.78 82.18,363.78 77.18,368.78 72.18,363.78" fill="#800080"/><polygon points="102.95,359.65 107.95,364.65 102.95,369.65 97.95,364.65" fill="#800080"/><polygon points="128.73,360.49 133.73,365.49 128.73,370.49 123.73,365.49" fill="#800080"/><polygon points="154.51,361.31 159.51,366.31 154.51,371.31 149.51,366.31" fill="#800080"/><polygon points="180.29,362.11 185.29,367.11 180.29,372.11 175.29,367.11" fill="#800080"/><polygon points="206.06,362.88 211.06,367.88 206.06,372.88 201.06,367.88" fill="#800080"/><polygon points="231.84,363.62 236.84,368.62 231.84,373.62 226.84,368.62" fill="#800080"/><polygon points="257.62,364.34 262.62,369.34 257.62,374.34 252.62,369.34" fill="#800080"/><polygon points="283.40,365.03 288.40,370.03 283.40,375.03 278.40,370.03" fill="#800080"/><polygon points="309.17,365.69 314.17,370.69 309.17,375.69 304.17,370.69" fill="#800080"/><polygon points="334.95,366.33 339.95,371.33 334.95,376.33 329.95,371.33" fill="#800080"/><polyline points="51.40,339.47 53.12,339.52 54.81,339.57 56.46,339.62 58.07,339.67 59.65,339.71 61.18,339.76 62.69,339.80 64.16,339.84 65.60,339.89 67.00,339.93 68.37,339.97 69.71,340.01 71.02,340.04 72.30,340.08 73.55,340.12 74.78,340.15 75.97,340.19 77.14,340.22 78.29,340.26 79.40,340.29 80.50,340.32 81.57,340.35 82.61,340.38 83.64,340.41 84.64,340.44 85.62,340.47 86.58,340.50 87.52,340.52 88.45,340.55 89.35,340.57 90.24,340.60 91.11,340.62 91.97,340.65 92.81,340.67 93.64,340.70 94.45,340.72 95.25,340.74 96.04,340.77 96.82,340.79 97.59,340.81 98.34,340.83 99.09,340.85 99.83,340.87 100.56,340.89 101.29,340.91 102.01,340.93 102.72,340.95 103.43,340.97 104.13,340.99 104.82,341.01 105.51,341.03 106.20,341.05 106.88,341.07 107.55,341.09 108.22,341.11 108.88,341.13 109.54,341.15 110.19,341.16 110.84,341.18 111.48,341.20 112.12,341.22 112.76,341.24 113.39,341.25 114.02,341.27 114.64,341.29 115.27,341.31 115.88,341.32 116.50,341.34 117.11,341.36 117.72,341.37 118.32,341.39 118.93,341.41 119.53,341.42 120.13,341.44 120.72,341.46 121.32,341.47 121.91,341.49 122.50,341.51 123.09,341.52 123.68,341.54 124.26,341.55 124.85,341.57 125.43,341.59 126.02,341.60 126.60,341.62 127.18,341.63 127.76,341.65 128.34,341.67 128.93,341.68 129.51,341.70 130.09,341.71 130.67,341.73 131.25,341.75 131.83,341.76 132.41,341.78 133.00,341.79 133.58,341.81 134.16,341.82 134.74,341.84 135.32,341.86 135.90,341.87 136.48,341.89 137.07,341.90 137.65,341.92 138.23,341.94 138.81,341.95 139.39,341.97 139.97,341.98 140.55,342.00 141.14,342.01 141.72,342.03 142.30,342.04 142.88,342.06 143.46,342.08 144.04,342.09 144.62,342.11 145.21,342.12 145.79,342.14 146.37,342.15 146.95,342.17 147.53,342.19 148.11,342.20 148.69,342.22 149.28,342.23 149.86,342.25 150.44,342.26 151.02,342.28 151.60,342.29 152.18,342.31 152.76,342.32 153.35,342.34 153.93,342.36 154.51,342.37 155.09,342.39 155.67,342.40 156.25,342.42 156.83,342.43 157.42,342.45 158.00,342.46 158.58,342.48 159.16,342.49 159.74,342.51 160.32,342.52 160.90,342.54 161.49,342.55 162.07,342.57 162.65,342.59 163.23,342.60 163.81,342.62 164.39,342.63 164.98,342.65 165.56,342.66 166.14,342.68 166.72,342.69 167.30,342.71 167.88,342.72 168.46,342.74 169.05,342.75 169.63,342.77 170.21,342.78 170.79,342.80 171.37,342.81 171.95,342.83 172.53,342.84 173.12,342.86 173.70,342.87 174.28,342.89 174.86,342.90 175.44,342.92 176.02,342.93 176.60,342.95 177.19,342.96 177.77,342.98 178.35,342.99 178.93,343.01 179.51,343.02 180.09,343.04 180.67,343.05 181.26,343.07 181.84,343.08 182.42,343.10 183.00,343.11 183.58,343.13 184.16,343.14 184.74,343.16 185.33,343.17 185.91,343.19 186.49,343.20 187.07,343.22 187.65,343.23 188.23,343.25 188.81,343.26 189.40,343.27 189.98,343.29 190.56,343.30 191.14,343.32 191.72,343.33 192.30,343.35 192.88,343.36 193.47,343.38 194.05,343.39 194.63,343.41 195.21,343.42 195.79,343.44 196.37,343.45 196.95,343.47 197.54,343.48 198.12,343.49 198.70,343.51 199.28,343.52 199.86,343.54 200.44,343.55 201.02,343.57 201.61,343.58 202.19,343.60 202.77,343.61 203.35,343.63 203.93,343.64 204.51,343.65 205.09,343.67 205.68,343.68 206.26,343.70 206.84,343.71 207.42,343.73 208.00,343.74 208.58,343.76 209.16,343.77 209.75,343.78 210.33,343.80 210.91,343.81 211.49,343.83 212.07,343.84 212.65,343.86 213.23,343.87 213.82,343.88 214.40,343.90 214.98,343.91 215.56,343.93 216.14,343.94 216.72,343.96 217.30,343.97 217.89,343.98 218.47,344.00 219.05,344.01 219.63,344.03 220.21,344.04 220.79,344.05 221.37,344.07 221.96,344.08 222.54,344.10 223.12,344.11 223.70,344.13 224.28,344.14 224.86,344.15 225.45,344.17 226.03,344.18 226.61,344.20 227.19,344.21 227.77,344.22 228.35,344.24 228.93,344.25 229.52,344.27 230.10,344.28 230.68,344.29 231.26,344.31 231.84,344.32 232.42,344.34 233.00,344.35 233.59,344.36 234.17,344.38 234.75,344.39 235.33,344.40 235.91,344.42 236.49,344.43 237.07,344.45 237.66,344.46 238.24,344.47 238.82,344.49 239.40,344.50 239.98,344.52 240.56,344.53 241.14,344.54 241.73,344.56 242.31,344.57 242.89,344.58 243.47,344.60 244.05,344.61 244.63,344.63 245.21,344.64 245.80,344.65 246.38,344.67 246.96,344.68 247.54,344.69 248.12,344.71 248.70,344.72 249.28,344.73 249.87,344.75 250.45,344.76 251.03,344.78 251.61,344.79 252.19,344.80 252.77,344.82 253.35,344.83 253.94,344.84 254.52,344.86 255.10,344.87 255.68,344.88 256.26,344.90 256.84,344.91 257.42,344.92 258.01,344.94 258.59,344.95 259.17,344.96 259.75,344.98 260.33,344.99 260.92,345.00 261.50,345.02 262.09,345.03 262.67,345.04 263.26,345.06 263.85,345.07 264.44,345.09 265.03,345.10 265.63,345.11 266.22,345.13 266.82,345.14 267.42,345.15 268.03,345.17 268.63,345.18 269.24,345.19 269.85,345.21 270.47,345.22 271.08,345.24 271.71,345.25 272.33,345.26 272.96,345.28 273.59,345.29 274.23,345.31 274.87,345.32 275.51,345.34 276.16,345.35 276.81,345.37 277.47,345.38 278.13,345.40 278.80,345.41 279.47,345.43 280.15,345.44 280.84,345.46 281.53,345.47 282.22,345.49 282.92,345.50 283.63,345.52 284.34,345.53 285.06,345.55 285.79,345.57 286.52,345.58 287.26,345.60 288.01,345.62 288.76,345.63 289.53,345.65 290.31,345.67 291.10,345.68 291.90,345.70 292.71,345.72 293.54,345.74 294.38,345.76 295.24,345.77 296.11,345.79 297.00,345.81 297.90,345.83 298.83,345.85 299.77,345.87 300.73,345.89 301.71,345.92 302.71,345.94 303.74,345.96 304.78,345.98 305.85,346.00 306.95,346.03 308.06,346.05 309.21,346.08 310.38,346.10 311.57,346.13 312.80,346.15 314.05,346.18 315.33,346.21 316.64,346.24 317.98,346.26 319.35,346.29 320.75,346.32 322.19,346.35 323.66,346.38 325.17,346.42 326.70,346.45 328.28,346.48 329.89,346.52 331.54,346.55 333.23,346.59 334.95,346.62" fill="none" stroke="#FF8000" stroke-width="1.7" stroke-linejoin="round"/><polygon points="46.12,339.47 54.92,334.47 54.92,344.47" fill="#FF8000"/><polygon points="71.90,340.23 80.70,335.23 80.70,345.23" fill="#FF8000"/><polygon points="97.67,340.97 106.47,335.97 106.47,345.97" fill="#FF8000"/><polygon points="123.45,341.68 132.25,336.68 132.25,346.68" fill="#FF8000"/><polygon points="149.23,342.37 158.03,337.37 158.03,347.37" fill="#FF8000"/><polygon points="175.01,343.05 183.81,338.05 183.81,348.05" fill="#FF8000"/><polygon points="200.78,343.70 209.58,338.70 209.58,348.70" fill="#FF8000"/><polygon points="226.56,344.33 235.36,339.33 235.36,349.33" fill="#FF8000"/><polygon points="252.34,344.93 261.14,339.93 261.14,349.93" fill="#FF8000"/><polygon points="278.12,345.52 286.92,340.52 286.92,350.52" fill="#FF8000"/><polygon points="303.89,346.08 312.69,341.08 312.69,351.08" fill="#FF8000"/><polygon points="329.67,346.62 338.47,341.62 338.47,351.62" fill="#FF8000"/><polyline points="51.40,317.36 53.12,317.41 54.81,317.45 56.46,317.50 58.07,317.54 59.65,317.58 61.18,317.62 62.69,317.66 64.16,317.70 65.60,317.74 67.00,317.78 68.37,317.81 69.71,317.85 71.02,317.88 72.30,317.92 73.55,317.95 74.78,317.98 75.97,318.01 77.14,318.04 78.29,318.07 79.40,318.10 80.50,318.13 81.57,318.16 82.61,318.19 83.64,318.22 84.64,318.24 85.62,318.27 86.58,318.29 87.52,318.32 88.45,318.34 89.35,318.36 90.24,318.39 91.11,318.41 91.97,318.43 92.81,318.45 93.64,318.48 94.45,318.50 95.25,318.52 96.04,318.54 96.82,318.56 97.59,318.58 98.34,318.60 99.09,318.62 99.83,318.64 100.56,318.65 101.29,318.67 102.01,318.69 102.72,318.71 103.43,318.73 104.13,318.75 104.82,318.76 105.51,318.78 106.20,318.80 106.88,318.82 107.55,318.83 108.22,318.85 108.88,318.87 109.54,318.88 110.19,318.90 110.84,318.92 111.48,318.93 112.12,318.95 112.76,318.97 113.39,318.98 114.02,319.00 114.64,319.01 115.27,319.03 115.88,319.04 116.50,319.06 117.11,319.08 117.72,319.09 118.32,319.11 118.93,319.12 119.53,319.14 120.13,319.15 120.72,319.17 121.32,319.18 121.91,319.20 122.50,319.21 123.09,319.23 123.68,319.24 124.26,319.26 124.85,319.27 125.43,319.28 126.02,319.30 126.60,319.31 127.18,319.33 127.76,319.34 128.34,319.36 128.93,319.37 129.51,319.39 130.09,319.40 130.67,319.41 131.25,319.43 131.83,319.44 132.41,319.46 133.00,319.47 133.58,319.49 134.16,319.50 134.74,319.52 135.32,319.53 135.90,319.54 136.48,319.56 137.07,319.57 137.65,319.59 138.23,319.60 138.81,319.62 139.39,319.63 139.97,319.64 140.55,319.66 141.14,319.67 141.72,319.69 142.30,319.70 142.88,319.72 143.46,319.73 144.04,319.74 144.62,319.76 145.21,319.77 145.79,319.79 146.37,319.80 146.95,319.81 147.53,319.83 148.11,319.84 148.69,319.86 149.28,319.87 149.86,319.88 150.44,319.90 151.02,319.91 151.60,319.93 152.18,319.94 152.76,319.96 153.35,319.97 153.93,319.98 154.51,320.00 155.09,320.01 155.67,320.03 156.25,320.04 156.83,320.05 157.42,320.07 158.00,320.08 158.58,320.10 159.16,320.11 159.74,320.12 160.32,320.14 160.90,320.15 161.49,320.16 162.07,320.18 162.65,320.19 163.23,320.21 163.81,320.22 164.39,320.23 164.98,320.25 165.56,320.26 166.14,320.28 166.72,320.29 167.30,320.30 167.88,320.32 168.46,320.33 169.05,320.34 169.63,320.36 170.21,320.37 170.79,320.39 171.37,320.40 171.95,320.41 172.53,320.43 173.12,320.44 173.70,320.45 174.28,320.47 174.86,320.48 175.44,320.49 176.02,320.51 176.60,320.52 177.19,320.54 177.77,320.55 178.35,320.56 178.93,320.58 179.51,320.59 180.09,320.60 180.67,320.62 181.26,320.63 181.84,320.64 182.42,320.66 183.00,320.67 183.58,320.68 184.16,320.70 184.74,320.71 185.33,320.73 185.91,320.74 186.49,320.75 187.07,320.77 187.65,320.78 188.23,320.79 188.81,320.81 189.40,320.82 189.98,320.83 190.56,320.85 191.14,320.86 191.72,320.87 192.30,320.89 192.88,320.90 193.47,320.91 194.05,320.93 194.63,320.94 195.21,320.95 195.79,320.97 196.37,320.98 196.95,320.99 197.54,321.01 198.12,321.02 198.70,321.03 199.28,321.05 199.86,321.06 200.44,321.07 201.02,321.09 201.61,321.10 202.19,321.11 202.77,321.12 203.35,321.14 203.93,321.15 204.51,321.16 205.09,321.18 205.68,321.19 206.26,321.20 206.84,321.22 207.42,321.23 208.00,321.24 208.58,321.26 209.16,321.27 209.75,321.28 210.33,321.30 210.91,321.31 211.49,321.32 212.07,321.33 212.65,321.35 213.23,321.36 213.82,321.37 214.40,321.39 214.98,321.40 215.56,321.41 216.14,321.43 216.72,321.44 217.30,321.45 217.89,321.46 218.47,321.48 219.05,321.49 219.63,321.50 220.21,321.52 220.79,321.53 221.37,321.54 221.96,321.55 222.54,321.57 223.12,321.58 223.70,321.59 224.28,321.61 224.86,321.62 225.45,321.63 226.03,321.64 226.61,321.66 227.19,321.67 227.77,321.68 228.35,321.69 228.93,321.71 229.52,321.72 230.10,321.73 230.68,321.75 231.26,321.76 231.84,321.77 232.42,321.78 233.00,321.80 233.59,321.81 234.17,321.82 234.75,321.83 235.33,321.85 235.91,321.86 236.49,321.87 237.07,321.88 237.66,321.90 238.24,321.91 238.82,321.92 239.40,321.93 239.98,321.95 240.56,321.96 241.14,321.97 241.73,321.98 242.31,322.00 242.89,322.01 243.47,322.02 244.05,322.03 244.63,322.05 245.21,322.06 245.80,322.07 246.38,322.08 246.96,322.10 247.54,322.11 248.12,322.12 248.70,322.13 249.28,322.15 249.87,322.16 250.45,322.17 251.03,322.18 251.61,322.20 252.19,322.21 252.77,322.22 253.35,322.23 253.94,322.24 254.52,322.26 255.10,322.27 255.68,322.28 256.26,322.29 256.84,322.31 257.42,322.32 258.01,322.33 258.59,322.34 259.17,322.36 259.75,322.37 260.33,322.38 260.92,322.39 261.50,322.40 262.09,322.42 262.67,322.43 263.26,322.44 263.85,322.45 264.44,322.47 265.03,322.48 265.63,322.49 266.22,322.50 266.82,322.51 267.42,322.53 268.03,322.54 268.63,322.55 269.24,322.56 269.85,322.58 270.47,322.59 271.08,322.60 271.71,322.62 272.33,322.63 272.96,322.64 273.59,322.65 274.23,322.67 274.87,322.68 275.51,322.69 276.16,322.71 276.81,322.72 277.47,322.73 278.13,322.75 278.80,322.76 279.47,322.77 280.15,322.79 280.84,322.80 281.53,322.82 282.22,322.83 282.92,322.84 283.63,322.86 284.34,322.87 285.06,322.89 285.79,322.90 286.52,322.92 287.26,322.93 288.01,322.95 288.76,322.96 289.53,322.98 290.31,322.99 291.10,323.01 291.90,323.03 292.71,323.04 293.54,323.06 294.38,323.07 295.24,323.09 296.11,323.11 297.00,323.13 297.90,323.14 298.83,323.16 299.77,323.18 300.73,323.20 301.71,323.22 302.71,323.24 303.74,323.26 304.78,323.28 305.85,323.30 306.95,323.32 308.06,323.34 309.21,323.37 310.38,323.39 311.57,323.41 312.80,323.44 314.05,323.46 315.33,323.49 316.64,323.51 317.98,323.54 319.35,323.56 320.75,323.59 322.19,323.62 323.66,323.65 325.17,323.68 326.70,323.70 328.28,323.74 329.89,323.77 331.54,323.80 333.23,323.83 334.95,323.86" fill="none" stroke="#00FFFF" stroke-width="1.7" stroke-linejoin="round"/><polygon points="56.68,317.36 47.88,312.36 47.88,322.36" fill="#00FFFF"/><polygon points="82.46,318.05 73.66,313.05 73.66,323.05" fill="#00FFFF"/><polygon points="108.23,318.72 99.43,313.72 99.43,323.72" fill="#00FFFF"/><polygon points="134.01,319.37 125.21,314.37 125.21,324.37" fill="#00FFFF"/><polygon points="159.79,320.00 150.99,315.00 150.99,325.00" fill="#00FFFF"/><polygon points="185.57,320.61 176.77,315.61 176.77,325.61" fill="#00FFFF"/><polygon points="211.34,321.20 202.54,316.20 202.54,326.20" fill="#00FFFF"/><polygon points="237.12,321.77 228.32,316.77 228.32,326.77" fill="#00FFFF"/><polygon points="262.90,322.33 254.10,317.33 254.10,327.33" fill="#00FFFF"/><polygon points="288.68,322.86 279.88,317.86 279.88,327.86" fill="#00FFFF"/><polygon points="314.45,323.37 305.65,318.37 305.65,328.37" fill="#00FFFF"/><polygon points="340.23,323.86 331.43,318.86 331.43,328.86" fill="#00FFFF"/></g>
<g clip-path="url(#clipd)"><polyline points="385.30,335.17 387.05,335.14 388.76,335.11 390.43,335.07 392.06,335.04 393.64,335.00 395.19,334.96 396.69,334.92 398.16,334.88 399.59,334.83 400.99,334.79 402.35,334.74 403.67,334.70 404.96,334.65 406.22,334.60 407.45,334.55 408.65,334.50 409.82,334.45 410.96,334.40 412.07,334.35 413.15,334.29 414.21,334.24 415.24,334.18 416.25,334.13 417.24,334.07 418.21,334.02 419.15,333.96 420.07,333.90 420.97,333.84 421.86,333.79 422.73,333.73 423.58,333.67 424.41,333.61 425.23,333.55 426.04,333.49 426.83,333.43 427.61,333.37 428.38,333.31 429.15,333.25 429.90,333.19 430.64,333.13 431.37,333.07 432.10,333.01 432.82,332.95 433.54,332.89 434.25,332.83 434.95,332.77 435.64,332.72 436.33,332.66 437.01,332.60 437.69,332.54 438.36,332.48 439.03,332.42 439.69,332.36 440.35,332.31 441.00,332.25 441.65,332.19 442.29,332.13 442.93,332.07 443.56,332.01 444.19,331.95 444.82,331.90 445.44,331.84 446.06,331.78 446.68,331.72 447.29,331.66 447.90,331.60 448.51,331.55 449.11,331.49 449.72,331.43 450.32,331.37 450.92,331.31 451.52,331.25 452.12,331.19 452.71,331.13 453.31,331.08 453.90,331.02 454.49,330.96 455.08,330.90 455.68,330.84 456.27,330.78 456.86,330.72 457.45,330.66 458.04,330.60 458.64,330.54 459.23,330.48 459.82,330.42 460.41,330.36 461.00,330.30 461.60,330.24 462.19,330.17 462.78,330.11 463.37,330.05 463.96,329.99 464.55,329.93 465.15,329.87 465.74,329.80 466.33,329.74 466.92,329.68 467.51,329.62 468.11,329.55 468.70,329.49 469.29,329.43 469.88,329.36 470.47,329.30 471.07,329.24 471.66,329.17 472.25,329.11 472.84,329.04 473.43,328.98 474.03,328.91 474.62,328.85 475.21,328.78 475.80,328.72 476.39,328.65 476.98,328.59 477.58,328.52 478.17,328.45 478.76,328.39 479.35,328.32 479.94,328.25 480.54,328.18 481.13,328.12 481.72,328.05 482.31,327.98 482.90,327.91 483.50,327.84 484.09,327.77 484.68,327.70 485.27,327.63 485.86,327.56 486.46,327.49 487.05,327.42 487.64,327.35 488.23,327.28 488.82,327.21 489.41,327.14 490.01,327.07 490.60,327.00 491.19,326.93 491.78,326.85 492.37,326.78 492.97,326.71 493.56,326.64 494.15,326.56 494.74,326.49 495.33,326.42 495.93,326.34 496.52,326.27 497.11,326.20 497.70,326.12 498.29,326.05 498.88,325.98 499.48,325.90 500.07,325.83 500.66,325.75 501.25,325.68 501.84,325.60 502.44,325.53 503.03,325.45 503.62,325.38 504.21,325.30 504.80,325.23 505.40,325.15 505.99,325.08 506.58,325.00 507.17,324.92 507.76,324.85 508.36,324.77 508.95,324.70 509.54,324.62 510.13,324.54 510.72,324.47 511.31,324.39 511.91,324.31 512.50,324.23 513.09,324.16 513.68,324.08 514.27,324.00 514.87,323.92 515.46,323.85 516.05,323.77 516.64,323.69 517.23,323.61 517.83,323.53 518.42,323.46 519.01,323.38 519.60,323.30 520.19,323.22 520.79,323.14 521.38,323.06 521.97,322.98 522.56,322.90 523.15,322.82 523.74,322.74 524.34,322.66 524.93,322.58 525.52,322.50 526.11,322.42 526.70,322.34 527.30,322.26 527.89,322.18 528.48,322.10 529.07,322.02 529.66,321.94 530.26,321.86 530.85,321.78 531.44,321.70 532.03,321.62 532.62,321.53 533.21,321.45 533.81,321.37 534.40,321.29 534.99,321.21 535.58,321.13 536.17,321.04 536.77,320.96 537.36,320.88 537.95,320.80 538.54,320.71 539.13,320.63 539.73,320.55 540.32,320.47 540.91,320.38 541.50,320.30 542.09,320.22 542.69,320.14 543.28,320.05 543.87,319.97 544.46,319.89 545.05,319.81 545.64,319.72 546.24,319.64 546.83,319.56 547.42,319.47 548.01,319.39 548.60,319.31 549.20,319.23 549.79,319.14 550.38,319.06 550.97,318.98 551.56,318.89 552.16,318.81 552.75,318.73 553.34,318.64 553.93,318.56 554.52,318.48 555.12,318.39 555.71,318.31 556.30,318.23 556.89,318.15 557.48,318.06 558.07,317.98 558.67,317.90 559.26,317.81 559.85,317.73 560.44,317.65 561.03,317.56 561.63,317.48 562.22,317.39 562.81,317.31 563.40,317.23 563.99,317.14 564.59,317.06 565.18,316.98 565.77,316.89 566.36,316.81 566.95,316.72 567.54,316.64 568.14,316.55 568.73,316.47 569.32,316.39 569.91,316.30 570.50,316.22 571.10,316.13 571.69,316.05 572.28,315.96 572.87,315.88 573.46,315.79 574.06,315.71 574.65,315.62 575.24,315.53 575.83,315.45 576.42,315.36 577.02,315.28 577.61,315.19 578.20,315.10 578.79,315.02 579.38,314.93 579.97,314.84 580.57,314.76 581.16,314.67 581.75,314.58 582.34,314.50 582.93,314.41 583.53,314.32 584.12,314.23 584.71,314.15 585.30,314.06 585.89,313.97 586.49,313.88 587.08,313.80 587.67,313.71 588.26,313.62 588.85,313.53 589.45,313.45 590.04,313.36 590.63,313.27 591.22,313.18 591.81,313.09 592.40,313.01 593.00,312.92 593.59,312.83 594.18,312.74 594.77,312.65 595.36,312.57 595.96,312.48 596.55,312.39 597.14,312.30 597.73,312.21 598.32,312.12 598.92,312.04 599.51,311.95 600.10,311.86 600.69,311.77 601.29,311.68 601.88,311.59 602.48,311.50 603.08,311.42 603.68,311.33 604.28,311.24 604.89,311.15 605.49,311.05 606.10,310.96 606.71,310.87 607.32,310.78 607.94,310.69 608.56,310.59 609.18,310.50 609.81,310.41 610.44,310.31 611.07,310.22 611.71,310.12 612.35,310.02 613.00,309.92 613.65,309.83 614.31,309.73 614.97,309.63 615.64,309.53 616.31,309.42 616.99,309.32 617.67,309.22 618.36,309.11 619.05,309.00 619.75,308.90 620.46,308.79 621.18,308.68 621.90,308.57 622.63,308.46 623.36,308.34 624.10,308.23 624.85,308.11 625.62,307.99 626.39,307.87 627.17,307.75 627.96,307.63 628.77,307.50 629.59,307.38 630.42,307.25 631.27,307.11 632.14,306.98 633.03,306.84 633.93,306.70 634.85,306.55 635.79,306.41 636.76,306.26 637.75,306.10 638.76,305.94 639.79,305.78 640.85,305.61 641.93,305.44 643.04,305.27 644.18,305.09 645.35,304.91 646.55,304.72 647.78,304.52 649.04,304.33 650.33,304.12 651.65,303.91 653.01,303.70 654.41,303.48 655.84,303.25 657.31,303.02 658.81,302.78 660.36,302.54 661.94,302.29 663.57,302.03 665.24,301.77 666.95,301.50 668.70,301.22" fill="none" stroke="#000000" stroke-width="1.7" stroke-linejoin="round"/><rect x="381.50" y="331.37" width="7.60" height="7.60" fill="#000000"/><rect x="405.12" y="330.96" width="7.60" height="7.60" fill="#000000"/><rect x="428.73" y="329.30" width="7.60" height="7.60" fill="#000000"/><rect x="452.35" y="327.02" width="7.60" height="7.60" fill="#000000"/><rect x="475.97" y="324.54" width="7.60" height="7.60" fill="#000000"/><rect x="499.58" y="321.64" width="7.60" height="7.60" fill="#000000"/><rect x="523.20" y="318.54" width="7.60" height="7.60" fill="#000000"/><rect x="546.82" y="315.23" width="7.60" height="7.60" fill="#000000"/><rect x="570.43" y="311.91" width="7.60" height="7.60" fill="#000000"/><rect x="594.05" y="308.40" width="7.60" height="7.60" fill="#000000"/><rect x="617.67" y="304.88" width="7.60" height="7.60" fill="#000000"/><rect x="641.28" y="301.15" width="7.60" height="7.60" fill="#000000"/><rect x="664.90" y="297.42" width="7.60" height="7.60" fill="#000000"/><polyline points="385.30,398.10 387.05,398.05 388.76,398.01 390.43,397.97 392.06,397.92 393.64,397.88 395.19,397.84 396.69,397.80 398.16,397.76 399.59,397.72 400.99,397.69 402.35,397.65 403.67,397.61 404.96,397.58 406.22,397.54 407.45,397.51 408.65,397.47 409.82,397.44 410.96,397.41 412.07,397.38 413.15,397.34 414.21,397.31 415.24,397.28 416.25,397.25 417.24,397.22 418.21,397.19 419.15,397.17 420.07,397.14 420.97,397.11 421.86,397.08 422.73,397.06 423.58,397.03 424.41,397.00 425.23,396.98 426.04,396.95 426.83,396.93 427.61,396.90 428.38,396.88 429.15,396.85 429.90,396.83 430.64,396.80 431.37,396.78 432.10,396.76 432.82,396.73 433.54,396.71 434.25,396.69 434.95,396.66 435.64,396.64 436.33,396.62 437.01,396.59 437.69,396.57 438.36,396.55 439.03,396.52 439.69,396.50 440.35,396.48 441.00,396.46 441.65,396.43 442.29,396.41 442.93,396.39 443.56,396.37 444.19,396.35 444.82,396.32 445.44,396.30 446.06,396.28 446.68,396.26 447.29,396.24 447.90,396.21 448.51,396.19 449.11,396.17 449.72,396.15 450.32,396.13 450.92,396.10 451.52,396.08 452.12,396.06 452.71,396.04 453.31,396.01 453.90,395.99 454.49,395.97 455.08,395.95 455.68,395.93 456.27,395.90 456.86,395.88 457.45,395.86 458.04,395.84 458.64,395.81 459.23,395.79 459.82,395.77 460.41,395.74 461.00,395.72 461.60,395.70 462.19,395.67 462.78,395.65 463.37,395.63 463.96,395.60 464.55,395.58 465.15,395.56 465.74,395.53 466.33,395.51 466.92,395.49 467.51,395.46 468.11,395.44 468.70,395.41 469.29,395.39 469.88,395.37 470.47,395.34 471.07,395.32 471.66,395.29 472.25,395.27 472.84,395.24 473.43,395.22 474.03,395.20 474.62,395.17 475.21,395.15 475.80,395.12 476.39,395.10 476.98,395.07 477.58,395.05 478.17,395.02 478.76,395.00 479.35,394.97 479.94,394.95 480.54,394.92 481.13,394.89 481.72,394.87 482.31,394.84 482.90,394.82 483.50,394.79 484.09,394.77 484.68,394.74 485.27,394.71 485.86,394.69 486.46,394.66 487.05,394.64 487.64,394.61 488.23,394.58 488.82,394.56 489.41,394.53 490.01,394.50 490.60,394.48 491.19,394.45 491.78,394.42 492.37,394.40 492.97,394.37 493.56,394.34 494.15,394.32 494.74,394.29 495.33,394.26 495.93,394.23 496.52,394.21 497.11,394.18 497.70,394.15 498.29,394.12 498.88,394.10 499.48,394.07 500.07,394.04 500.66,394.01 501.25,393.98 501.84,393.96 502.44,393.93 503.03,393.90 503.62,393.87 504.21,393.84 504.80,393.82 505.40,393.79 505.99,393.76 506.58,393.73 507.17,393.70 507.76,393.67 508.36,393.64 508.95,393.61 509.54,393.59 510.13,393.56 510.72,393.53 511.31,393.50 511.91,393.47 512.50,393.44 513.09,393.41 513.68,393.38 514.27,393.35 514.87,393.32 515.46,393.29 516.05,393.26 516.64,393.23 517.23,393.20 517.83,393.17 518.42,393.14 519.01,393.11 519.60,393.08 520.19,393.05 520.79,393.02 521.38,392.99 521.97,392.96 522.56,392.93 523.15,392.90 523.74,392.87 524.34,392.84 524.93,392.81 525.52,392.78 526.11,392.75 526.70,392.71 527.30,392.68 527.89,392.65 528.48,392.62 529.07,392.59 529.66,392.56 530.26,392.53 530.85,392.49 531.44,392.46 532.03,392.43 532.62,392.40 533.21,392.37 533.81,392.34 534.40,392.30 534.99,392.27 535.58,392.24 536.17,392.21 536.77,392.18 537.36,392.14 537.95,392.11 538.54,392.08 539.13,392.05 539.73,392.01 540.32,391.98 540.91,391.95 541.50,391.91 542.09,391.88 542.69,391.85 543.28,391.82 543.87,391.78 544.46,391.75 545.05,391.72 545.64,391.68 546.24,391.65 546.83,391.62 547.42,391.58 548.01,391.55 548.60,391.51 549.20,391.48 549.79,391.45 550.38,391.41 550.97,391.38 551.56,391.34 552.16,391.31 552.75,391.28 553.34,391.24 553.93,391.21 554.52,391.17 555.12,391.14 555.71,391.10 556.30,391.07 556.89,391.03 557.48,391.00 558.07,390.97 558.67,390.93 559.26,390.90 559.85,390.86 560.44,390.82 561.03,390.79 561.63,390.75 562.22,390.72 562.81,390.68 563.40,390.65 563.99,390.61 564.59,390.58 565.18,390.54 565.77,390.51 566.36,390.47 566.95,390.43 567.54,390.40 568.14,390.36 568.73,390.32 569.32,390.29 569.91,390.25 570.50,390.22 571.10,390.18 571.69,390.14 572.28,390.11 572.87,390.07 573.46,390.03 574.06,390.00 574.65,389.96 575.24,389.92 575.83,389.88 576.42,389.85 577.02,389.81 577.61,389.77 578.20,389.74 578.79,389.70 579.38,389.66 579.97,389.62 580.57,389.59 581.16,389.55 581.75,389.51 582.34,389.47 582.93,389.43 583.53,389.40 584.12,389.36 584.71,389.32 585.30,389.28 585.89,389.24 586.49,389.21 587.08,389.17 587.67,389.13 588.26,389.09 588.85,389.05 589.45,389.01 590.04,388.97 590.63,388.94 591.22,388.90 591.81,388.86 592.40,388.82 593.00,388.78 593.59,388.74 594.18,388.70 594.77,388.66 595.36,388.62 595.96,388.58 596.55,388.54 597.14,388.50 597.73,388.46 598.32,388.42 598.92,388.38 599.51,388.34 600.10,388.30 600.69,388.26 601.29,388.22 601.88,388.18 602.48,388.14 603.08,388.10 603.68,388.06 604.28,388.02 604.89,387.98 605.49,387.94 606.10,387.89 606.71,387.85 607.32,387.81 607.94,387.77 608.56,387.72 609.18,387.68 609.81,387.64 610.44,387.59 611.07,387.55 611.71,387.50 612.35,387.46 613.00,387.41 613.65,387.37 614.31,387.32 614.97,387.27 615.64,387.22 616.31,387.18 616.99,387.13 617.67,387.08 618.36,387.03 619.05,386.98 619.75,386.93 620.46,386.88 621.18,386.83 621.90,386.78 622.63,386.72 623.36,386.67 624.10,386.62 624.85,386.56 625.62,386.51 626.39,386.45 627.17,386.39 627.96,386.33 628.77,386.27 629.59,386.21 630.42,386.15 631.27,386.09 632.14,386.03 633.03,385.96 633.93,385.89 634.85,385.82 635.79,385.75 636.76,385.68 637.75,385.60 638.76,385.53 639.79,385.45 640.85,385.37 641.93,385.29 643.04,385.20 644.18,385.11 645.35,385.02 646.55,384.93 647.78,384.84 649.04,384.74 650.33,384.64 651.65,384.54 653.01,384.43 654.41,384.32 655.84,384.21 657.31,384.10 658.81,383.98 660.36,383.86 661.94,383.73 663.57,383.60 665.24,383.47 666.95,383.34 668.70,383.20" fill="none" stroke="#FF0000" stroke-width="1.7" stroke-linejoin="round"/><circle cx="385.30" cy="398.10" r="4.20" fill="#FF0000"/><circle cx="408.92" cy="397.49" r="4.20" fill="#FF0000"/><circle cx="432.53" cy="396.77" r="4.20" fill="#FF0000"/><circle cx="456.15" cy="395.93" r="4.20" fill="#FF0000"/><circle cx="479.77" cy="394.97" r="4.20" fill="#FF0000"/><circle cx="503.38" cy="393.90" r="4.20" fill="#FF0000"/><circle cx="527.00" cy="392.72" r="4.20" fill="#FF0000"/><circle cx="550.62" cy="391.42" r="4.20" fill="#FF0000"/><circle cx="574.23" cy="390.00" r="4.20" fill="#FF0000"/><circle cx="597.85" cy="388.47" r="4.20" fill="#FF0000"/><circle cx="621.47" cy="386.83" r="4.20" fill="#FF0000"/><circle cx="645.08" cy="385.07" r="4.20" fill="#FF0000"/><circle cx="668.70" cy="383.20" r="4.20" fill="#FF0000"/><polyline points="385.30,434.53 387.05,434.49 388.76,434.44 390.43,434.40 392.06,434.36 393.64,434.32 395.19,434.28 396.69,434.24 398.16,434.20 399.59,434.16 400.99,434.13 402.35,434.09 403.67,434.06 404.96,434.02 406.22,433.99 407.45,433.96 408.65,433.93 409.82,433.90 410.96,433.87 412.07,433.84 413.15,433.81 414.21,433.78 415.24,433.75 416.25,433.73 417.24,433.70 418.21,433.67 419.15,433.65 420.07,433.62 420.97,433.60 421.86,433.58 422.73,433.55 423.58,433.53 424.41,433.51 425.23,433.48 426.04,433.46 426.83,433.44 427.61,433.42 428.38,433.40 429.15,433.38 429.90,433.36 430.64,433.34 431.37,433.32 432.10,433.29 432.82,433.27 433.54,433.26 434.25,433.24 434.95,433.22 435.64,433.20 436.33,433.18 437.01,433.16 437.69,433.14 438.36,433.12 439.03,433.10 439.69,433.08 440.35,433.06 441.00,433.05 441.65,433.03 442.29,433.01 442.93,432.99 443.56,432.97 444.19,432.96 444.82,432.94 445.44,432.92 446.06,432.90 446.68,432.89 447.29,432.87 447.90,432.85 448.51,432.83 449.11,432.82 449.72,432.80 450.32,432.78 450.92,432.76 451.52,432.75 452.12,432.73 452.71,432.71 453.31,432.69 453.90,432.68 454.49,432.66 455.08,432.64 455.68,432.63 456.27,432.61 456.86,432.59 457.45,432.57 458.04,432.56 458.64,432.54 459.23,432.52 459.82,432.50 460.41,432.49 461.00,432.47 461.60,432.45 462.19,432.43 462.78,432.42 463.37,432.40 463.96,432.38 464.55,432.36 465.15,432.35 465.74,432.33 466.33,432.31 466.92,432.29 467.51,432.28 468.11,432.26 468.70,432.24 469.29,432.22 469.88,432.20 470.47,432.19 471.07,432.17 471.66,432.15 472.25,432.13 472.84,432.12 473.43,432.10 474.03,432.08 474.62,432.06 475.21,432.04 475.80,432.03 476.39,432.01 476.98,431.99 477.58,431.97 478.17,431.95 478.76,431.94 479.35,431.92 479.94,431.90 480.54,431.88 481.13,431.86 481.72,431.84 482.31,431.83 482.90,431.81 483.50,431.79 484.09,431.77 484.68,431.75 485.27,431.73 485.86,431.72 486.46,431.70 487.05,431.68 487.64,431.66 488.23,431.64 488.82,431.62 489.41,431.61 490.01,431.59 490.60,431.57 491.19,431.55 491.78,431.53 492.37,431.51 492.97,431.49 493.56,431.48 494.15,431.46 494.74,431.44 495.33,431.42 495.93,431.40 496.52,431.38 497.11,431.36 497.70,431.34 498.29,431.33 498.88,431.31 499.48,431.29 500.07,431.27 500.66,431.25 501.25,431.23 501.84,431.21 502.44,431.19 503.03,431.17 503.62,431.15 504.21,431.14 504.80,431.12 505.40,431.10 505.99,431.08 506.58,431.06 507.17,431.04 507.76,431.02 508.36,431.00 508.95,430.98 509.54,430.96 510.13,430.94 510.72,430.92 511.31,430.91 511.91,430.89 512.50,430.87 513.09,430.85 513.68,430.83 514.27,430.81 514.87,430.79 515.46,430.77 516.05,430.75 516.64,430.73 517.23,430.71 517.83,430.69 518.42,430.67 519.01,430.65 519.60,430.63 520.19,430.61 520.79,430.59 521.38,430.57 521.97,430.55 522.56,430.53 523.15,430.52 523.74,430.50 524.34,430.48 524.93,430.46 525.52,430.44 526.11,430.42 526.70,430.40 527.30,430.38 527.89,430.36 528.48,430.34 529.07,430.32 529.66,430.30 530.26,430.28 530.85,430.26 531.44,430.24 532.03,430.22 532.62,430.20 533.21,430.18 533.81,430.16 534.40,430.14 534.99,430.12 535.58,430.10 536.17,430.08 536.77,430.06 537.36,430.03 537.95,430.01 538.54,429.99 539.13,429.97 539.73,429.95 540.32,429.93 540.91,429.91 541.50,429.89 542.09,429.87 542.69,429.85 543.28,429.83 543.87,429.81 544.46,429.79 545.05,429.77 545.64,429.75 546.24,429.73 546.83,429.71 547.42,429.69 548.01,429.67 548.60,429.65 549.20,429.63 549.79,429.60 550.38,429.58 550.97,429.56 551.56,429.54 552.16,429.52 552.75,429.50 553.34,429.48 553.93,429.46 554.52,429.44 555.12,429.42 555.71,429.40 556.30,429.38 556.89,429.35 557.48,429.33 558.07,429.31 558.67,429.29 559.26,429.27 559.85,429.25 560.44,429.23 561.03,429.21 561.63,429.19 562.22,429.16 562.81,429.14 563.40,429.12 563.99,429.10 564.59,429.08 565.18,429.06 565.77,429.04 566.36,429.02 566.95,428.99 567.54,428.97 568.14,428.95 568.73,428.93 569.32,428.91 569.91,428.89 570.50,428.87 571.10,428.84 571.69,428.82 572.28,428.80 572.87,428.78 573.46,428.76 574.06,428.74 574.65,428.72 575.24,428.69 575.83,428.67 576.42,428.65 577.02,428.63 577.61,428.61 578.20,428.58 578.79,428.56 579.38,428.54 579.97,428.52 580.57,428.50 581.16,428.48 581.75,428.45 582.34,428.43 582.93,428.41 583.53,428.39 584.12,428.37 584.71,428.34 585.30,428.32 585.89,428.30 586.49,428.28 587.08,428.26 587.67,428.23 588.26,428.21 588.85,428.19 589.45,428.17 590.04,428.15 590.63,428.12 591.22,428.10 591.81,428.08 592.40,428.06 593.00,428.03 593.59,428.01 594.18,427.99 594.77,427.97 595.36,427.94 595.96,427.92 596.55,427.90 597.14,427.88 597.73,427.85 598.32,427.83 598.92,427.81 599.51,427.79 600.10,427.76 600.69,427.74 601.29,427.72 601.88,427.70 602.48,427.67 603.08,427.65 603.68,427.63 604.28,427.60 604.89,427.58 605.49,427.56 606.10,427.53 606.71,427.51 607.32,427.49 607.94,427.46 608.56,427.44 609.18,427.42 609.81,427.39 610.44,427.37 611.07,427.34 611.71,427.32 612.35,427.29 613.00,427.27 613.65,427.24 614.31,427.22 614.97,427.19 615.64,427.16 616.31,427.14 616.99,427.11 617.67,427.08 618.36,427.06 619.05,427.03 619.75,427.00 620.46,426.97 621.18,426.95 621.90,426.92 622.63,426.89 623.36,426.86 624.10,426.83 624.85,426.80 625.62,426.77 626.39,426.74 627.17,426.71 627.96,426.68 628.77,426.65 629.59,426.61 630.42,426.58 631.27,426.55 632.14,426.51 633.03,426.47 633.93,426.44 634.85,426.40 635.79,426.36 636.76,426.32 637.75,426.28 638.76,426.24 639.79,426.20 640.85,426.16 641.93,426.11 643.04,426.07 644.18,426.02 645.35,425.97 646.55,425.93 647.78,425.88 649.04,425.82 650.33,425.77 651.65,425.72 653.01,425.66 654.41,425.60 655.84,425.54 657.31,425.48 658.81,425.42 660.36,425.36 661.94,425.29 663.57,425.22 665.24,425.15 666.95,425.08 668.70,425.01" fill="none" stroke="#0000FF" stroke-width="1.7" stroke-linejoin="round"/><polygon points="385.30,429.25 390.30,438.05 380.30,438.05" fill="#0000FF"/><polygon points="408.92,428.65 413.92,437.45 403.92,437.45" fill="#0000FF"/><polygon points="432.53,428.01 437.53,436.81 427.53,436.81" fill="#0000FF"/><polygon points="456.15,427.34 461.15,436.14 451.15,436.14" fill="#0000FF"/><polygon points="479.77,426.63 484.77,435.43 474.77,435.43" fill="#0000FF"/><polygon points="503.38,425.89 508.38,434.69 498.38,434.69" fill="#0000FF"/><polygon points="527.00,425.11 532.00,433.91 522.00,433.91" fill="#0000FF"/><polygon points="550.62,424.30 555.62,433.10 545.62,433.10" fill="#0000FF"/><polygon points="574.23,423.46 579.23,432.26 569.23,432.26" fill="#0000FF"/><polygon points="597.85,422.58 602.85,431.38 592.85,431.38" fill="#0000FF"/><polygon points="621.47,421.66 626.47,430.46 616.47,430.46" fill="#0000FF"/><polygon points="645.08,420.71 650.08,429.51 640.08,429.51" fill="#0000FF"/><polygon points="668.70,419.73 673.70,428.53 663.70,428.53" fill="#0000FF"/><polyline points="385.30,458.75 387.05,458.72 388.76,458.70 390.43,458.67 392.06,458.65 393.64,458.62 395.19,458.60 396.69,458.57 398.16,458.55 399.59,458.53 400.99,458.51 402.35,458.49 403.67,458.46 404.96,458.44 406.22,458.42 407.45,458.40 408.65,458.39 409.82,458.37 410.96,458.35 412.07,458.33 413.15,458.31 414.21,458.30 415.24,458.28 416.25,458.26 417.24,458.25 418.21,458.23 419.15,458.21 420.07,458.20 420.97,458.18 421.86,458.17 422.73,458.15 423.58,458.14 424.41,458.13 425.23,458.11 426.04,458.10 426.83,458.08 427.61,458.07 428.38,458.06 429.15,458.04 429.90,458.03 430.64,458.02 431.37,458.01 432.10,457.99 432.82,457.98 433.54,457.97 434.25,457.95 434.95,457.94 435.64,457.93 436.33,457.92 437.01,457.91 437.69,457.89 438.36,457.88 439.03,457.87 439.69,457.86 440.35,457.85 441.00,457.84 441.65,457.82 442.29,457.81 442.93,457.80 443.56,457.79 444.19,457.78 444.82,457.77 445.44,457.75 446.06,457.74 446.68,457.73 447.29,457.72 447.90,457.71 448.51,457.70 449.11,457.69 449.72,457.68 450.32,457.66 450.92,457.65 451.52,457.64 452.12,457.63 452.71,457.62 453.31,457.61 453.90,457.60 454.49,457.59 455.08,457.58 455.68,457.56 456.27,457.55 456.86,457.54 457.45,457.53 458.04,457.52 458.64,457.51 459.23,457.50 459.82,457.48 460.41,457.47 461.00,457.46 461.60,457.45 462.19,457.44 462.78,457.43 463.37,457.42 463.96,457.40 464.55,457.39 465.15,457.38 465.74,457.37 466.33,457.36 466.92,457.35 467.51,457.34 468.11,457.32 468.70,457.31 469.29,457.30 469.88,457.29 470.47,457.28 471.07,457.26 471.66,457.25 472.25,457.24 472.84,457.23 473.43,457.22 474.03,457.21 474.62,457.19 475.21,457.18 475.80,457.17 476.39,457.16 476.98,457.15 477.58,457.13 478.17,457.12 478.76,457.11 479.35,457.10 479.94,457.09 480.54,457.07 481.13,457.06 481.72,457.05 482.31,457.04 482.90,457.02 483.50,457.01 484.09,457.00 484.68,456.99 485.27,456.98 485.86,456.96 486.46,456.95 487.05,456.94 487.64,456.93 488.23,456.91 488.82,456.90 489.41,456.89 490.01,456.88 490.60,456.86 491.19,456.85 491.78,456.84 492.37,456.83 492.97,456.81 493.56,456.80 494.15,456.79 494.74,456.78 495.33,456.76 495.93,456.75 496.52,456.74 497.11,456.73 497.70,456.71 498.29,456.70 498.88,456.69 499.48,456.67 500.07,456.66 500.66,456.65 501.25,456.64 501.84,456.62 502.44,456.61 503.03,456.60 503.62,456.58 504.21,456.57 504.80,456.56 505.40,456.54 505.99,456.53 506.58,456.52 507.17,456.51 507.76,456.49 508.36,456.48 508.95,456.47 509.54,456.45 510.13,456.44 510.72,456.43 511.31,456.41 511.91,456.40 512.50,456.39 513.09,456.37 513.68,456.36 514.27,456.35 514.87,456.33 515.46,456.32 516.05,456.31 516.64,456.29 517.23,456.28 517.83,456.27 518.42,456.25 519.01,456.24 519.60,456.23 520.19,456.21 520.79,456.20 521.38,456.18 521.97,456.17 522.56,456.16 523.15,456.14 523.74,456.13 524.34,456.12 524.93,456.10 525.52,456.09 526.11,456.07 526.70,456.06 527.30,456.05 527.89,456.03 528.48,456.02 529.07,456.01 529.66,455.99 530.26,455.98 530.85,455.96 531.44,455.95 532.03,455.94 532.62,455.92 533.21,455.91 533.81,455.89 534.40,455.88 534.99,455.87 535.58,455.85 536.17,455.84 536.77,455.82 537.36,455.81 537.95,455.79 538.54,455.78 539.13,455.77 539.73,455.75 540.32,455.74 540.91,455.72 541.50,455.71 542.09,455.69 542.69,455.68 543.28,455.67 543.87,455.65 544.46,455.64 545.05,455.62 545.64,455.61 546.24,455.59 546.83,455.58 547.42,455.56 548.01,455.55 548.60,455.53 549.20,455.52 549.79,455.51 550.38,455.49 550.97,455.48 551.56,455.46 552.16,455.45 552.75,455.43 553.34,455.42 553.93,455.40 554.52,455.39 555.12,455.37 555.71,455.36 556.30,455.34 556.89,455.33 557.48,455.31 558.07,455.30 558.67,455.28 559.26,455.27 559.85,455.25 560.44,455.24 561.03,455.22 561.63,455.21 562.22,455.19 562.81,455.18 563.40,455.16 563.99,455.15 564.59,455.13 565.18,455.12 565.77,455.10 566.36,455.09 566.95,455.07 567.54,455.06 568.14,455.04 568.73,455.03 569.32,455.01 569.91,454.99 570.50,454.98 571.10,454.96 571.69,454.95 572.28,454.93 572.87,454.92 573.46,454.90 574.06,454.89 574.65,454.87 575.24,454.85 575.83,454.84 576.42,454.82 577.02,454.81 577.61,454.79 578.20,454.78 578.79,454.76 579.38,454.75 579.97,454.73 580.57,454.71 581.16,454.70 581.75,454.68 582.34,454.67 582.93,454.65 583.53,454.63 584.12,454.62 584.71,454.60 585.30,454.59 585.89,454.57 586.49,454.55 587.08,454.54 587.67,454.52 588.26,454.51 588.85,454.49 589.45,454.47 590.04,454.46 590.63,454.44 591.22,454.43 591.81,454.41 592.40,454.39 593.00,454.38 593.59,454.36 594.18,454.34 594.77,454.33 595.36,454.31 595.96,454.30 596.55,454.28 597.14,454.26 597.73,454.25 598.32,454.23 598.92,454.21 599.51,454.20 600.10,454.18 600.69,454.16 601.29,454.15 601.88,454.13 602.48,454.11 603.08,454.10 603.68,454.08 604.28,454.06 604.89,454.05 605.49,454.03 606.10,454.01 606.71,453.99 607.32,453.98 607.94,453.96 608.56,453.94 609.18,453.92 609.81,453.91 610.44,453.89 611.07,453.87 611.71,453.85 612.35,453.83 613.00,453.81 613.65,453.80 614.31,453.78 614.97,453.76 615.64,453.74 616.31,453.72 616.99,453.70 617.67,453.68 618.36,453.66 619.05,453.64 619.75,453.62 620.46,453.60 621.18,453.58 621.90,453.56 622.63,453.54 623.36,453.51 624.10,453.49 624.85,453.47 625.62,453.45 626.39,453.42 627.17,453.40 627.96,453.38 628.77,453.35 629.59,453.33 630.42,453.30 631.27,453.28 632.14,453.25 633.03,453.23 633.93,453.20 634.85,453.17 635.79,453.14 636.76,453.11 637.75,453.08 638.76,453.05 639.79,453.02 640.85,452.99 641.93,452.96 643.04,452.92 644.18,452.89 645.35,452.85 646.55,452.82 647.78,452.78 649.04,452.74 650.33,452.70 651.65,452.66 653.01,452.62 654.41,452.57 655.84,452.53 657.31,452.48 658.81,452.44 660.36,452.39 661.94,452.34 663.57,452.29 665.24,452.24 666.95,452.18 668.70,452.13" fill="none" stroke="#008000" stroke-width="1.7" stroke-linejoin="round"/><polygon points="385.30,464.03 390.30,455.23 380.30,455.23" fill="#008000"/><polygon points="408.92,463.67 413.92,454.87 403.92,454.87" fill="#008000"/><polygon points="432.53,463.27 437.53,454.47 427.53,454.47" fill="#008000"/><polygon points="456.15,462.84 461.15,454.04 451.15,454.04" fill="#008000"/><polygon points="479.77,462.38 484.77,453.58 474.77,453.58" fill="#008000"/><polygon points="503.38,461.87 508.38,453.07 498.38,453.07" fill="#008000"/><polygon points="527.00,461.34 532.00,452.54 522.00,452.54" fill="#008000"/><polygon points="550.62,460.77 555.62,451.97 545.62,451.97" fill="#008000"/><polygon points="574.23,460.17 579.23,451.37 569.23,451.37" fill="#008000"/><polygon points="597.85,459.53 602.85,450.73 592.85,450.73" fill="#008000"/><polygon points="621.47,458.86 626.47,450.06 616.47,450.06" fill="#008000"/><polygon points="645.08,458.15 650.08,449.35 640.08,449.35" fill="#008000"/><polygon points="668.70,457.41 673.70,448.61 663.70,448.61" fill="#008000"/><polyline points="385.30,475.31 387.05,475.29 388.76,475.27 390.43,475.26 392.06,475.24 393.64,475.22 395.19,475.20 396.69,475.19 398.16,475.17 399.59,475.16 400.99,475.14 402.35,475.13 403.67,475.11 404.96,475.10 406.22,475.08 407.45,475.07 408.65,475.06 409.82,475.04 410.96,475.03 412.07,475.02 413.15,475.01 414.21,474.99 415.24,474.98 416.25,474.97 417.24,474.96 418.21,474.95 419.15,474.94 420.07,474.93 420.97,474.92 421.86,474.90 422.73,474.89 423.58,474.88 424.41,474.87 425.23,474.87 426.04,474.86 426.83,474.85 427.61,474.84 428.38,474.83 429.15,474.82 429.90,474.81 430.64,474.80 431.37,474.79 432.10,474.78 432.82,474.77 433.54,474.77 434.25,474.76 434.95,474.75 435.64,474.74 436.33,474.73 437.01,474.72 437.69,474.71 438.36,474.71 439.03,474.70 439.69,474.69 440.35,474.68 441.00,474.67 441.65,474.67 442.29,474.66 442.93,474.65 443.56,474.64 444.19,474.63 444.82,474.63 445.44,474.62 446.06,474.61 446.68,474.60 447.29,474.59 447.90,474.59 448.51,474.58 449.11,474.57 449.72,474.56 450.32,474.56 450.92,474.55 451.52,474.54 452.12,474.53 452.71,474.52 453.31,474.52 453.90,474.51 454.49,474.50 455.08,474.49 455.68,474.49 456.27,474.48 456.86,474.47 457.45,474.46 458.04,474.45 458.64,474.45 459.23,474.44 459.82,474.43 460.41,474.42 461.00,474.41 461.60,474.41 462.19,474.40 462.78,474.39 463.37,474.38 463.96,474.38 464.55,474.37 465.15,474.36 465.74,474.35 466.33,474.34 466.92,474.34 467.51,474.33 468.11,474.32 468.70,474.31 469.29,474.30 469.88,474.29 470.47,474.29 471.07,474.28 471.66,474.27 472.25,474.26 472.84,474.25 473.43,474.25 474.03,474.24 474.62,474.23 475.21,474.22 475.80,474.21 476.39,474.20 476.98,474.20 477.58,474.19 478.17,474.18 478.76,474.17 479.35,474.16 479.94,474.15 480.54,474.15 481.13,474.14 481.72,474.13 482.31,474.12 482.90,474.11 483.50,474.10 484.09,474.10 484.68,474.09 485.27,474.08 485.86,474.07 486.46,474.06 487.05,474.05 487.64,474.04 488.23,474.04 488.82,474.03 489.41,474.02 490.01,474.01 490.60,474.00 491.19,473.99 491.78,473.98 492.37,473.98 492.97,473.97 493.56,473.96 494.15,473.95 494.74,473.94 495.33,473.93 495.93,473.92 496.52,473.91 497.11,473.91 497.70,473.90 498.29,473.89 498.88,473.88 499.48,473.87 500.07,473.86 500.66,473.85 501.25,473.84 501.84,473.84 502.44,473.83 503.03,473.82 503.62,473.81 504.21,473.80 504.80,473.79 505.40,473.78 505.99,473.77 506.58,473.76 507.17,473.75 507.76,473.75 508.36,473.74 508.95,473.73 509.54,473.72 510.13,473.71 510.72,473.70 511.31,473.69 511.91,473.68 512.50,473.67 513.09,473.66 513.68,473.65 514.27,473.65 514.87,473.64 515.46,473.63 516.05,473.62 516.64,473.61 517.23,473.60 517.83,473.59 518.42,473.58 519.01,473.57 519.60,473.56 520.19,473.55 520.79,473.54 521.38,473.53 521.97,473.52 522.56,473.52 523.15,473.51 523.74,473.50 524.34,473.49 524.93,473.48 525.52,473.47 526.11,473.46 526.70,473.45 527.30,473.44 527.89,473.43 528.48,473.42 529.07,473.41 529.66,473.40 530.26,473.39 530.85,473.38 531.44,473.37 532.03,473.36 532.62,473.35 533.21,473.34 533.81,473.33 534.40,473.32 534.99,473.31 535.58,473.30 536.17,473.30 536.77,473.29 537.36,473.28 537.95,473.27 538.54,473.26 539.13,473.25 539.73,473.24 540.32,473.23 540.91,473.22 541.50,473.21 542.09,473.20 542.69,473.19 543.28,473.18 543.87,473.17 544.46,473.16 545.05,473.15 545.64,473.14 546.24,473.13 546.83,473.12 547.42,473.11 548.01,473.10 548.60,473.09 549.20,473.08 549.79,473.07 550.38,473.06 550.97,473.05 551.56,473.04 552.16,473.03 552.75,473.02 553.34,473.01 553.93,473.00 554.52,472.99 555.12,472.98 555.71,472.97 556.30,472.96 556.89,472.95 557.48,472.94 558.07,472.92 558.67,472.91 559.26,472.90 559.85,472.89 560.44,472.88 561.03,472.87 561.63,472.86 562.22,472.85 562.81,472.84 563.40,472.83 563.99,472.82 564.59,472.81 565.18,472.80 565.77,472.79 566.36,472.78 566.95,472.77 567.54,472.76 568.14,472.75 568.73,472.74 569.32,472.73 569.91,472.72 570.50,472.71 571.10,472.70 571.69,472.68 572.28,472.67 572.87,472.66 573.46,472.65 574.06,472.64 574.65,472.63 575.24,472.62 575.83,472.61 576.42,472.60 577.02,472.59 577.61,472.58 578.20,472.57 578.79,472.56 579.38,472.55 579.97,472.54 580.57,472.52 581.16,472.51 581.75,472.50 582.34,472.49 582.93,472.48 583.53,472.47 584.12,472.46 584.71,472.45 585.30,472.44 585.89,472.43 586.49,472.42 587.08,472.40 587.67,472.39 588.26,472.38 588.85,472.37 589.45,472.36 590.04,472.35 590.63,472.34 591.22,472.33 591.81,472.32 592.40,472.30 593.00,472.29 593.59,472.28 594.18,472.27 594.77,472.26 595.36,472.25 595.96,472.24 596.55,472.23 597.14,472.22 597.73,472.20 598.32,472.19 598.92,472.18 599.51,472.17 600.10,472.16 600.69,472.15 601.29,472.14 601.88,472.13 602.48,472.11 603.08,472.10 603.68,472.09 604.28,472.08 604.89,472.07 605.49,472.06 606.10,472.04 606.71,472.03 607.32,472.02 607.94,472.01 608.56,472.00 609.18,471.98 609.81,471.97 610.44,471.96 611.07,471.95 611.71,471.93 612.35,471.92 613.00,471.91 613.65,471.90 614.31,471.88 614.97,471.87 615.64,471.86 616.31,471.84 616.99,471.83 617.67,471.82 618.36,471.80 619.05,471.79 619.75,471.78 620.46,471.76 621.18,471.75 621.90,471.73 622.63,471.72 623.36,471.70 624.10,471.69 624.85,471.67 625.62,471.66 626.39,471.64 627.17,471.63 627.96,471.61 628.77,471.59 629.59,471.58 630.42,471.56 631.27,471.54 632.14,471.53 633.03,471.51 633.93,471.49 634.85,471.47 635.79,471.45 636.76,471.43 637.75,471.41 638.76,471.39 639.79,471.37 640.85,471.35 641.93,471.32 643.04,471.30 644.18,471.28 645.35,471.25 646.55,471.23 647.78,471.20 649.04,471.17 650.33,471.15 651.65,471.12 653.01,471.09 654.41,471.06 655.84,471.03 657.31,471.00 658.81,470.97 660.36,470.94 661.94,470.90 663.57,470.87 665.24,470.83 666.95,470.79 668.70,470.76" fill="none" stroke="#800080" stroke-width="1.7" stroke-linejoin="round"/><polygon points="385.30,470.31 390.30,475.31 385.30,480.31 380.30,475.31" fill="#800080"/><polygon points="408.92,470.06 413.92,475.06 408.92,480.06 403.92,475.06" fill="#800080"/><polygon points="432.53,469.78 437.53,474.78 432.53,479.78 427.53,474.78" fill="#800080"/><polygon points="456.15,469.48 461.15,474.48 456.15,479.48 451.15,474.48" fill="#800080"/><polygon points="479.77,469.16 484.77,474.16 479.77,479.16 474.77,474.16" fill="#800080"/><polygon points="503.38,468.82 508.38,473.82 503.38,478.82 498.38,473.82" fill="#800080"/><polygon points="527.00,468.45 532.00,473.45 527.00,478.45 522.00,473.45" fill="#800080"/><polygon points="550.62,468.06 555.62,473.06 550.62,478.06 545.62,473.06" fill="#800080"/><polygon points="574.23,467.64 579.23,472.64 574.23,477.64 569.23,472.64" fill="#800080"/><polygon points="597.85,467.21 602.85,472.21 597.85,477.21 592.85,472.21" fill="#800080"/><polygon points="621.47,466.75 626.47,471.75 621.47,476.75 616.47,471.75" fill="#800080"/><polygon points="645.08,466.26 650.08,471.26 645.08,476.26 640.08,471.26" fill="#800080"/><polygon points="668.70,465.76 673.70,470.76 668.70,475.76 663.70,470.76" fill="#800080"/><polyline points="385.30,488.77 387.05,488.75 388.76,488.73 390.43,488.71 392.06,488.69 393.64,488.67 395.19,488.65 396.69,488.63 398.16,488.62 399.59,488.60 400.99,488.58 402.35,488.57 403.67,488.55 404.96,488.54 406.22,488.52 407.45,488.51 408.65,488.49 409.82,488.48 410.96,488.47 412.07,488.45 413.15,488.44 414.21,488.43 415.24,488.42 416.25,488.40 417.24,488.39 418.21,488.38 419.15,488.37 420.07,488.36 420.97,488.35 421.86,488.34 422.73,488.33 423.58,488.32 424.41,488.31 425.23,488.30 426.04,488.29 426.83,488.28 427.61,488.27 428.38,488.26 429.15,488.25 429.90,488.24 430.64,488.24 431.37,488.23 432.10,488.22 432.82,488.21 433.54,488.20 434.25,488.19 434.95,488.19 435.64,488.18 436.33,488.17 437.01,488.16 437.69,488.15 438.36,488.15 439.03,488.14 439.69,488.13 440.35,488.12 441.00,488.12 441.65,488.11 442.29,488.10 442.93,488.09 443.56,488.09 444.19,488.08 444.82,488.07 445.44,488.06 446.06,488.06 446.68,488.05 447.29,488.04 447.90,488.03 448.51,488.03 449.11,488.02 449.72,488.01 450.32,488.01 450.92,488.00 451.52,487.99 452.12,487.99 452.71,487.98 453.31,487.97 453.90,487.96 454.49,487.96 455.08,487.95 455.68,487.94 456.27,487.94 456.86,487.93 457.45,487.92 458.04,487.92 458.64,487.91 459.23,487.90 459.82,487.90 460.41,487.89 461.00,487.88 461.60,487.87 462.19,487.87 462.78,487.86 463.37,487.85 463.96,487.85 464.55,487.84 465.15,487.83 465.74,487.83 466.33,487.82 466.92,487.81 467.51,487.81 468.11,487.80 468.70,487.79 469.29,487.78 469.88,487.78 470.47,487.77 471.07,487.76 471.66,487.76 472.25,487.75 472.84,487.74 473.43,487.74 474.03,487.73 474.62,487.72 475.21,487.72 475.80,487.71 476.39,487.70 476.98,487.69 477.58,487.69 478.17,487.68 478.76,487.67 479.35,487.67 479.94,487.66 480.54,487.65 481.13,487.65 481.72,487.64 482.31,487.63 482.90,487.63 483.50,487.62 484.09,487.61 484.68,487.60 485.27,487.60 485.86,487.59 486.46,487.58 487.05,487.58 487.64,487.57 488.23,487.56 488.82,487.56 489.41,487.55 490.01,487.54 490.60,487.54 491.19,487.53 491.78,487.52 492.37,487.51 492.97,487.51 493.56,487.50 494.15,487.49 494.74,487.49 495.33,487.48 495.93,487.47 496.52,487.47 497.11,487.46 497.70,487.45 498.29,487.45 498.88,487.44 499.48,487.43 500.07,487.42 500.66,487.42 501.25,487.41 501.84,487.40 502.44,487.40 503.03,487.39 503.62,487.38 504.21,487.38 504.80,487.37 505.40,487.36 505.99,487.36 506.58,487.35 507.17,487.34 507.76,487.33 508.36,487.33 508.95,487.32 509.54,487.31 510.13,487.31 510.72,487.30 511.31,487.29 511.91,487.29 512.50,487.28 513.09,487.27 513.68,487.27 514.27,487.26 514.87,487.25 515.46,487.24 516.05,487.24 516.64,487.23 517.23,487.22 517.83,487.22 518.42,487.21 519.01,487.20 519.60,487.20 520.19,487.19 520.79,487.18 521.38,487.18 521.97,487.17 522.56,487.16 523.15,487.15 523.74,487.15 524.34,487.14 524.93,487.13 525.52,487.13 526.11,487.12 526.70,487.11 527.30,487.11 527.89,487.10 528.48,487.09 529.07,487.09 529.66,487.08 530.26,487.07 530.85,487.07 531.44,487.06 532.03,487.05 532.62,487.04 533.21,487.04 533.81,487.03 534.40,487.02 534.99,487.02 535.58,487.01 536.17,487.00 536.77,487.00 537.36,486.99 537.95,486.98 538.54,486.98 539.13,486.97 539.73,486.96 540.32,486.95 540.91,486.95 541.50,486.94 542.09,486.93 542.69,486.93 543.28,486.92 543.87,486.91 544.46,486.91 545.05,486.90 545.64,486.89 546.24,486.89 546.83,486.88 547.42,486.87 548.01,486.86 548.60,486.86 549.20,486.85 549.79,486.84 550.38,486.84 550.97,486.83 551.56,486.82 552.16,486.82 552.75,486.81 553.34,486.80 553.93,486.80 554.52,486.79 555.12,486.78 555.71,486.77 556.30,486.77 556.89,486.76 557.48,486.75 558.07,486.75 558.67,486.74 559.26,486.73 559.85,486.73 560.44,486.72 561.03,486.71 561.63,486.71 562.22,486.70 562.81,486.69 563.40,486.68 563.99,486.68 564.59,486.67 565.18,486.66 565.77,486.66 566.36,486.65 566.95,486.64 567.54,486.64 568.14,486.63 568.73,486.62 569.32,486.62 569.91,486.61 570.50,486.60 571.10,486.59 571.69,486.59 572.28,486.58 572.87,486.57 573.46,486.57 574.06,486.56 574.65,486.55 575.24,486.55 575.83,486.54 576.42,486.53 577.02,486.53 577.61,486.52 578.20,486.51 578.79,486.50 579.38,486.50 579.97,486.49 580.57,486.48 581.16,486.48 581.75,486.47 582.34,486.46 582.93,486.46 583.53,486.45 584.12,486.44 584.71,486.44 585.30,486.43 585.89,486.42 586.49,486.41 587.08,486.41 587.67,486.40 588.26,486.39 588.85,486.39 589.45,486.38 590.04,486.37 590.63,486.37 591.22,486.36 591.81,486.35 592.40,486.35 593.00,486.34 593.59,486.33 594.18,486.32 594.77,486.32 595.36,486.31 595.96,486.30 596.55,486.30 597.14,486.29 597.73,486.28 598.32,486.28 598.92,486.27 599.51,486.26 600.10,486.26 600.69,486.25 601.29,486.24 601.88,486.23 602.48,486.23 603.08,486.22 603.68,486.21 604.28,486.21 604.89,486.20 605.49,486.19 606.10,486.19 606.71,486.18 607.32,486.17 607.94,486.16 608.56,486.16 609.18,486.15 609.81,486.14 610.44,486.13 611.07,486.13 611.71,486.12 612.35,486.11 613.00,486.10 613.65,486.10 614.31,486.09 614.97,486.08 615.64,486.07 616.31,486.07 616.99,486.06 617.67,486.05 618.36,486.04 619.05,486.03 619.75,486.03 620.46,486.02 621.18,486.01 621.90,486.00 622.63,485.99 623.36,485.98 624.10,485.98 624.85,485.97 625.62,485.96 626.39,485.95 627.17,485.94 627.96,485.93 628.77,485.92 629.59,485.91 630.42,485.90 631.27,485.89 632.14,485.88 633.03,485.87 633.93,485.86 634.85,485.85 635.79,485.84 636.76,485.83 637.75,485.82 638.76,485.80 639.79,485.79 640.85,485.78 641.93,485.77 643.04,485.75 644.18,485.74 645.35,485.73 646.55,485.71 647.78,485.70 649.04,485.68 650.33,485.67 651.65,485.65 653.01,485.64 654.41,485.62 655.84,485.60 657.31,485.59 658.81,485.57 660.36,485.55 661.94,485.53 663.57,485.51 665.24,485.49 666.95,485.47 668.70,485.45" fill="none" stroke="#FF8000" stroke-width="1.7" stroke-linejoin="round"/><polygon points="380.02,488.77 388.82,483.77 388.82,493.77" fill="#FF8000"/><polygon points="403.64,488.49 412.44,483.49 412.44,493.49" fill="#FF8000"/><polygon points="427.25,488.21 436.05,483.21 436.05,493.21" fill="#FF8000"/><polygon points="450.87,487.94 459.67,482.94 459.67,492.94" fill="#FF8000"/><polygon points="474.49,487.66 483.29,482.66 483.29,492.66" fill="#FF8000"/><polygon points="498.10,487.39 506.90,482.39 506.90,492.39" fill="#FF8000"/><polygon points="521.72,487.11 530.52,482.11 530.52,492.11" fill="#FF8000"/><polygon points="545.34,486.83 554.14,481.83 554.14,491.83" fill="#FF8000"/><polygon points="568.95,486.56 577.75,481.56 577.75,491.56" fill="#FF8000"/><polygon points="592.57,486.28 601.37,481.28 601.37,491.28" fill="#FF8000"/><polygon points="616.19,486.01 624.99,481.01 624.99,491.01" fill="#FF8000"/><polygon points="639.80,485.73 648.60,480.73 648.60,490.73" fill="#FF8000"/><polygon points="663.42,485.45 672.22,480.45 672.22,490.45" fill="#FF8000"/><polyline points="385.30,499.74 387.05,499.73 388.76,499.73 390.43,499.72 392.06,499.71 393.64,499.71 395.19,499.70 396.69,499.70 398.16,499.69 399.59,499.69 400.99,499.68 402.35,499.68 403.67,499.67 404.96,499.67 406.22,499.66 407.45,499.66 408.65,499.65 409.82,499.65 410.96,499.64 412.07,499.64 413.15,499.63 414.21,499.63 415.24,499.63 416.25,499.62 417.24,499.62 418.21,499.61 419.15,499.61 420.07,499.61 420.97,499.60 421.86,499.60 422.73,499.59 423.58,499.59 424.41,499.59 425.23,499.58 426.04,499.58 426.83,499.58 427.61,499.57 428.38,499.57 429.15,499.56 429.90,499.56 430.64,499.56 431.37,499.55 432.10,499.55 432.82,499.55 433.54,499.54 434.25,499.54 434.95,499.54 435.64,499.53 436.33,499.53 437.01,499.53 437.69,499.52 438.36,499.52 439.03,499.52 439.69,499.51 440.35,499.51 441.00,499.51 441.65,499.50 442.29,499.50 442.93,499.50 443.56,499.49 444.19,499.49 444.82,499.49 445.44,499.48 446.06,499.48 446.68,499.48 447.29,499.47 447.90,499.47 448.51,499.47 449.11,499.46 449.72,499.46 450.32,499.46 450.92,499.45 451.52,499.45 452.12,499.45 452.71,499.44 453.31,499.44 453.90,499.44 454.49,499.43 455.08,499.43 455.68,499.43 456.27,499.42 456.86,499.42 457.45,499.42 458.04,499.41 458.64,499.41 459.23,499.40 459.82,499.40 460.41,499.40 461.00,499.39 461.60,499.39 462.19,499.39 462.78,499.38 463.37,499.38 463.96,499.38 464.55,499.37 465.15,499.37 465.74,499.36 466.33,499.36 466.92,499.36 467.51,499.35 468.11,499.35 468.70,499.35 469.29,499.34 469.88,499.34 470.47,499.33 471.07,499.33 471.66,499.33 472.25,499.32 472.84,499.32 473.43,499.32 474.03,499.31 474.62,499.31 475.21,499.30 475.80,499.30 476.39,499.30 476.98,499.29 477.58,499.29 478.17,499.28 478.76,499.28 479.35,499.28 479.94,499.27 480.54,499.27 481.13,499.26 481.72,499.26 482.31,499.26 482.90,499.25 483.50,499.25 484.09,499.24 484.68,499.24 485.27,499.24 485.86,499.23 486.46,499.23 487.05,499.22 487.64,499.22 488.23,499.21 488.82,499.21 489.41,499.21 490.01,499.20 490.60,499.20 491.19,499.19 491.78,499.19 492.37,499.18 492.97,499.18 493.56,499.18 494.15,499.17 494.74,499.17 495.33,499.16 495.93,499.16 496.52,499.15 497.11,499.15 497.70,499.14 498.29,499.14 498.88,499.14 499.48,499.13 500.07,499.13 500.66,499.12 501.25,499.12 501.84,499.11 502.44,499.11 503.03,499.10 503.62,499.10 504.21,499.09 504.80,499.09 505.40,499.08 505.99,499.08 506.58,499.08 507.17,499.07 507.76,499.07 508.36,499.06 508.95,499.06 509.54,499.05 510.13,499.05 510.72,499.04 511.31,499.04 511.91,499.03 512.50,499.03 513.09,499.02 513.68,499.02 514.27,499.01 514.87,499.01 515.46,499.00 516.05,499.00 516.64,498.99 517.23,498.99 517.83,498.98 518.42,498.98 519.01,498.97 519.60,498.97 520.19,498.96 520.79,498.96 521.38,498.95 521.97,498.95 522.56,498.94 523.15,498.94 523.74,498.93 524.34,498.93 524.93,498.92 525.52,498.92 526.11,498.91 526.70,498.91 527.30,498.90 527.89,498.90 528.48,498.89 529.07,498.89 529.66,498.88 530.26,498.88 530.85,498.87 531.44,498.87 532.03,498.86 532.62,498.86 533.21,498.85 533.81,498.84 534.40,498.84 534.99,498.83 535.58,498.83 536.17,498.82 536.77,498.82 537.36,498.81 537.95,498.81 538.54,498.80 539.13,498.80 539.73,498.79 540.32,498.78 540.91,498.78 541.50,498.77 542.09,498.77 542.69,498.76 543.28,498.76 543.87,498.75 544.46,498.75 545.05,498.74 545.64,498.73 546.24,498.73 546.83,498.72 547.42,498.72 548.01,498.71 548.60,498.71 549.20,498.70 549.79,498.69 550.38,498.69 550.97,498.68 551.56,498.68 552.16,498.67 552.75,498.67 553.34,498.66 553.93,498.65 554.52,498.65 555.12,498.64 555.71,498.64 556.30,498.63 556.89,498.62 557.48,498.62 558.07,498.61 558.67,498.61 559.26,498.60 559.85,498.59 560.44,498.59 561.03,498.58 561.63,498.58 562.22,498.57 562.81,498.56 563.40,498.56 563.99,498.55 564.59,498.55 565.18,498.54 565.77,498.53 566.36,498.53 566.95,498.52 567.54,498.52 568.14,498.51 568.73,498.50 569.32,498.50 569.91,498.49 570.50,498.48 571.10,498.48 571.69,498.47 572.28,498.47 572.87,498.46 573.46,498.45 574.06,498.45 574.65,498.44 575.24,498.43 575.83,498.43 576.42,498.42 577.02,498.42 577.61,498.41 578.20,498.40 578.79,498.40 579.38,498.39 579.97,498.38 580.57,498.38 581.16,498.37 581.75,498.36 582.34,498.36 582.93,498.35 583.53,498.34 584.12,498.34 584.71,498.33 585.30,498.32 585.89,498.32 586.49,498.31 587.08,498.30 587.67,498.30 588.26,498.29 588.85,498.28 589.45,498.28 590.04,498.27 590.63,498.26 591.22,498.26 591.81,498.25 592.40,498.24 593.00,498.24 593.59,498.23 594.18,498.22 594.77,498.22 595.36,498.21 595.96,498.20 596.55,498.20 597.14,498.19 597.73,498.18 598.32,498.18 598.92,498.17 599.51,498.16 600.10,498.15 600.69,498.15 601.29,498.14 601.88,498.13 602.48,498.13 603.08,498.12 603.68,498.11 604.28,498.10 604.89,498.10 605.49,498.09 606.10,498.08 606.71,498.08 607.32,498.07 607.94,498.06 608.56,498.05 609.18,498.05 609.81,498.04 610.44,498.03 611.07,498.02 611.71,498.01 612.35,498.01 613.00,498.00 613.65,497.99 614.31,497.98 614.97,497.97 615.64,497.97 616.31,497.96 616.99,497.95 617.67,497.94 618.36,497.93 619.05,497.92 619.75,497.91 620.46,497.91 621.18,497.90 621.90,497.89 622.63,497.88 623.36,497.87 624.10,497.86 624.85,497.85 625.62,497.84 626.39,497.83 627.17,497.82 627.96,497.81 628.77,497.80 629.59,497.79 630.42,497.78 631.27,497.77 632.14,497.75 633.03,497.74 633.93,497.73 634.85,497.72 635.79,497.71 636.76,497.69 637.75,497.68 638.76,497.67 639.79,497.65 640.85,497.64 641.93,497.62 643.04,497.61 644.18,497.59 645.35,497.58 646.55,497.56 647.78,497.54 649.04,497.53 650.33,497.51 651.65,497.49 653.01,497.47 654.41,497.45 655.84,497.43 657.31,497.41 658.81,497.39 660.36,497.37 661.94,497.35 663.57,497.33 665.24,497.30 666.95,497.28 668.70,497.25" fill="none" stroke="#00FFFF" stroke-width="1.7" stroke-linejoin="round"/><polygon points="390.58,499.74 381.78,494.74 381.78,504.74" fill="#00FFFF"/><polygon points="414.20,499.66 405.40,494.66 405.40,504.66" fill="#00FFFF"/><polygon points="437.81,499.55 429.01,494.55 429.01,504.55" fill="#00FFFF"/><polygon points="461.43,499.43 452.63,494.43 452.63,504.43" fill="#00FFFF"/><polygon points="485.05,499.28 476.25,494.28 476.25,504.28" fill="#00FFFF"/><polygon points="508.66,499.10 499.86,494.10 499.86,504.10" fill="#00FFFF"/><polygon points="532.28,498.91 523.48,493.91 523.48,503.91" fill="#00FFFF"/><polygon points="555.90,498.69 547.10,493.69 547.10,503.69" fill="#00FFFF"/><polygon points="579.51,498.45 570.71,493.45 570.71,503.45" fill="#00FFFF"/><polygon points="603.13,498.18 594.33,493.18 594.33,503.18" fill="#00FFFF"/><polygon points="626.75,497.90 617.95,492.90 617.95,502.90" fill="#00FFFF"/><polygon points="650.36,497.59 641.56,492.59 641.56,502.59" fill="#00FFFF"/><polygon points="673.98,497.25 665.18,492.25 665.18,502.25" fill="#00FFFF"/></g>
<g stroke="#000" stroke-width="2.3"><line x1="88.38" y1="234.30" x2="88.38" y2="226.80"/><line x1="88.38" y1="6.75" x2="88.38" y2="14.25"/><line x1="137.70" y1="234.30" x2="137.70" y2="226.80"/><line x1="137.70" y1="6.75" x2="137.70" y2="14.25"/><line x1="187.01" y1="234.30" x2="187.01" y2="226.80"/><line x1="187.01" y1="6.75" x2="187.01" y2="14.25"/><line x1="236.32" y1="234.30" x2="236.32" y2="226.80"/><line x1="236.32" y1="6.75" x2="236.32" y2="14.25"/><line x1="285.64" y1="234.30" x2="285.64" y2="226.80"/><line x1="285.64" y1="6.75" x2="285.64" y2="14.25"/><line x1="334.95" y1="234.30" x2="334.95" y2="226.80"/><line x1="334.95" y1="6.75" x2="334.95" y2="14.25"/><line x1="63.73" y1="234.30" x2="63.73" y2="230.60"/><line x1="63.73" y1="6.75" x2="63.73" y2="10.45"/><line x1="113.04" y1="234.30" x2="113.04" y2="230.60"/><line x1="113.04" y1="6.75" x2="113.04" y2="10.45"/><line x1="162.35" y1="234.30" x2="162.35" y2="230.60"/><line x1="162.35" y1="6.75" x2="162.35" y2="10.45"/><line x1="211.67" y1="234.30" x2="211.67" y2="230.60"/><line x1="211.67" y1="6.75" x2="211.67" y2="10.45"/><line x1="260.98" y1="234.30" x2="260.98" y2="230.60"/><line x1="260.98" y1="6.75" x2="260.98" y2="10.45"/><line x1="310.29" y1="234.30" x2="310.29" y2="230.60"/><line x1="310.29" y1="6.75" x2="310.29" y2="10.45"/><line x1="51.40" y1="234.30" x2="58.90" y2="234.30"/><line x1="334.95" y1="234.30" x2="327.45" y2="234.30"/><line x1="51.40" y1="201.79" x2="58.90" y2="201.79"/><line x1="334.95" y1="201.79" x2="327.45" y2="201.79"/><line x1="51.40" y1="169.29" x2="58.90" y2="169.29"/><line x1="334.95" y1="169.29" x2="327.45" y2="169.29"/><line x1="51.40" y1="136.78" x2="58.90" y2="136.78"/><line x1="334.95" y1="136.78" x2="327.45" y2="136.78"/><line x1="51.40" y1="104.27" x2="58.90" y2="104.27"/><line x1="334.95" y1="104.27" x2="327.45" y2="104.27"/><line x1="51.40" y1="71.76" x2="58.90" y2="71.76"/><line x1="334.95" y1="71.76" x2="327.45" y2="71.76"/><line x1="51.40" y1="39.26" x2="58.90" y2="39.26"/><line x1="334.95" y1="39.26" x2="327.45" y2="39.26"/><line x1="51.40" y1="6.75" x2="58.90" y2="6.75"/><line x1="334.95" y1="6.75" x2="327.45" y2="6.75"/><line x1="51.40" y1="218.05" x2="55.10" y2="218.05"/><line x1="334.95" y1="218.05" x2="331.25" y2="218.05"/><line x1="51.40" y1="185.54" x2="55.10" y2="185.54"/><line x1="334.95" y1="185.54" x2="331.25" y2="185.54"/><line x1="51.40" y1="153.03" x2="55.10" y2="153.03"/><line x1="334.95" y1="153.03" x2="331.25" y2="153.03"/><line x1="51.40" y1="120.53" x2="55.10" y2="120.53"/><line x1="334.95" y1="120.53" x2="331.25" y2="120.53"/><line x1="51.40" y1="88.02" x2="55.10" y2="88.02"/><line x1="334.95" y1="88.02" x2="331.25" y2="88.02"/><line x1="51.40" y1="55.51" x2="55.10" y2="55.51"/><line x1="334.95" y1="55.51" x2="331.25" y2="55.51"/><line x1="51.40" y1="23.00" x2="55.10" y2="23.00"/><line x1="334.95" y1="23.00" x2="331.25" y2="23.00"/></g>
<rect x="51.40" y="6.75" width="283.55" height="227.55" fill="none" stroke="#000" stroke-width="2.6"/>
<g><text x="88.38" y="253.90" font-size="14" font-weight="bold" text-anchor="middle" >200</text><text x="137.70" y="253.90" font-size="14" font-weight="bold" text-anchor="middle" >400</text><text x="187.01" y="253.90" font-size="14" font-weight="bold" text-anchor="middle" >600</text><text x="236.32" y="253.90" font-size="14" font-weight="bold" text-anchor="middle" >800</text><text x="285.64" y="253.90" font-size="14" font-weight="bold" text-anchor="middle" >1000</text><text x="334.95" y="253.90" font-size="14" font-weight="bold" text-anchor="middle" >1200</text><text x="43.00" y="238.70" font-size="14" font-weight="bold" text-anchor="end" >10</text><text x="43.00" y="206.19" font-size="14" font-weight="bold" text-anchor="end" >20</text><text x="43.00" y="173.69" font-size="14" font-weight="bold" text-anchor="end" >30</text><text x="43.00" y="141.18" font-size="14" font-weight="bold" text-anchor="end" >40</text><text x="43.00" y="108.67" font-size="14" font-weight="bold" text-anchor="end" >50</text><text x="43.00" y="76.16" font-size="14" font-weight="bold" text-anchor="end" >60</text><text x="43.00" y="43.66" font-size="14" font-weight="bold" text-anchor="end" >70</text><text x="43.00" y="11.15" font-size="14" font-weight="bold" text-anchor="end" >80</text></g>
<g stroke="#000" stroke-width="2.3"><line x1="422.27" y1="234.30" x2="422.27" y2="226.80"/><line x1="422.27" y1="6.75" x2="422.27" y2="14.25"/><line x1="471.55" y1="234.30" x2="471.55" y2="226.80"/><line x1="471.55" y1="6.75" x2="471.55" y2="14.25"/><line x1="520.84" y1="234.30" x2="520.84" y2="226.80"/><line x1="520.84" y1="6.75" x2="520.84" y2="14.25"/><line x1="570.13" y1="234.30" x2="570.13" y2="226.80"/><line x1="570.13" y1="6.75" x2="570.13" y2="14.25"/><line x1="619.41" y1="234.30" x2="619.41" y2="226.80"/><line x1="619.41" y1="6.75" x2="619.41" y2="14.25"/><line x1="668.70" y1="234.30" x2="668.70" y2="226.80"/><line x1="668.70" y1="6.75" x2="668.70" y2="14.25"/><line x1="397.62" y1="234.30" x2="397.62" y2="230.60"/><line x1="397.62" y1="6.75" x2="397.62" y2="10.45"/><line x1="446.91" y1="234.30" x2="446.91" y2="230.60"/><line x1="446.91" y1="6.75" x2="446.91" y2="10.45"/><line x1="496.20" y1="234.30" x2="496.20" y2="230.60"/><line x1="496.20" y1="6.75" x2="496.20" y2="10.45"/><line x1="545.48" y1="234.30" x2="545.48" y2="230.60"/><line x1="545.48" y1="6.75" x2="545.48" y2="10.45"/><line x1="594.77" y1="234.30" x2="594.77" y2="230.60"/><line x1="594.77" y1="6.75" x2="594.77" y2="10.45"/><line x1="644.06" y1="234.30" x2="644.06" y2="230.60"/><line x1="644.06" y1="6.75" x2="644.06" y2="10.45"/><line x1="385.30" y1="234.30" x2="392.80" y2="234.30"/><line x1="668.70" y1="234.30" x2="661.20" y2="234.30"/><line x1="385.30" y1="177.41" x2="392.80" y2="177.41"/><line x1="668.70" y1="177.41" x2="661.20" y2="177.41"/><line x1="385.30" y1="120.53" x2="392.80" y2="120.53"/><line x1="668.70" y1="120.53" x2="661.20" y2="120.53"/><line x1="385.30" y1="63.64" x2="392.80" y2="63.64"/><line x1="668.70" y1="63.64" x2="661.20" y2="63.64"/><line x1="385.30" y1="6.75" x2="392.80" y2="6.75"/><line x1="668.70" y1="6.75" x2="661.20" y2="6.75"/><line x1="385.30" y1="205.86" x2="389.00" y2="205.86"/><line x1="668.70" y1="205.86" x2="665.00" y2="205.86"/><line x1="385.30" y1="148.97" x2="389.00" y2="148.97"/><line x1="668.70" y1="148.97" x2="665.00" y2="148.97"/><line x1="385.30" y1="92.08" x2="389.00" y2="92.08"/><line x1="668.70" y1="92.08" x2="665.00" y2="92.08"/><line x1="385.30" y1="35.19" x2="389.00" y2="35.19"/><line x1="668.70" y1="35.19" x2="665.00" y2="35.19"/></g>
<rect x="385.30" y="6.75" width="283.40" height="227.55" fill="none" stroke="#000" stroke-width="2.6"/>
<g><text x="422.27" y="253.90" font-size="14" font-weight="bold" text-anchor="middle" >200</text><text x="471.55" y="253.90" font-size="14" font-weight="bold" text-anchor="middle" >400</text><text x="520.84" y="253.90" font-size="14" font-weight="bold" text-anchor="middle" >600</text><text x="570.13" y="253.90" font-size="14" font-weight="bold" text-anchor="middle" >800</text><text x="619.41" y="253.90" font-size="14" font-weight="bold" text-anchor="middle" >1000</text><text x="668.70" y="253.90" font-size="14" font-weight="bold" text-anchor="middle" >1200</text><text x="376.90" y="238.70" font-size="14" font-weight="bold" text-anchor="end" >0</text><text x="376.90" y="181.81" font-size="14" font-weight="bold" text-anchor="end" >1</text><text x="376.90" y="124.93" font-size="14" font-weight="bold" text-anchor="end" >2</text><text x="376.90" y="68.04" font-size="14" font-weight="bold" text-anchor="end" >3</text><text x="376.90" y="11.15" font-size="14" font-weight="bold" text-anchor="end" >4</text></g>
<g stroke="#000" stroke-width="2.3"><line x1="77.18" y1="522.20" x2="77.18" y2="514.70"/><line x1="77.18" y1="294.60" x2="77.18" y2="302.10"/><line x1="128.73" y1="522.20" x2="128.73" y2="514.70"/><line x1="128.73" y1="294.60" x2="128.73" y2="302.10"/><line x1="180.29" y1="522.20" x2="180.29" y2="514.70"/><line x1="180.29" y1="294.60" x2="180.29" y2="302.10"/><line x1="231.84" y1="522.20" x2="231.84" y2="514.70"/><line x1="231.84" y1="294.60" x2="231.84" y2="302.10"/><line x1="283.40" y1="522.20" x2="283.40" y2="514.70"/><line x1="283.40" y1="294.60" x2="283.40" y2="302.10"/><line x1="334.95" y1="522.20" x2="334.95" y2="514.70"/><line x1="334.95" y1="294.60" x2="334.95" y2="302.10"/><line x1="102.95" y1="522.20" x2="102.95" y2="518.50"/><line x1="102.95" y1="294.60" x2="102.95" y2="298.30"/><line x1="154.51" y1="522.20" x2="154.51" y2="518.50"/><line x1="154.51" y1="294.60" x2="154.51" y2="298.30"/><line x1="206.06" y1="522.20" x2="206.06" y2="518.50"/><line x1="206.06" y1="294.60" x2="206.06" y2="298.30"/><line x1="257.62" y1="522.20" x2="257.62" y2="518.50"/><line x1="257.62" y1="294.60" x2="257.62" y2="298.30"/><line x1="309.17" y1="522.20" x2="309.17" y2="518.50"/><line x1="309.17" y1="294.60" x2="309.17" y2="298.30"/><line x1="51.40" y1="522.20" x2="58.90" y2="522.20"/><line x1="334.95" y1="522.20" x2="327.45" y2="522.20"/><line x1="51.40" y1="489.69" x2="58.90" y2="489.69"/><line x1="334.95" y1="489.69" x2="327.45" y2="489.69"/><line x1="51.40" y1="457.17" x2="58.90" y2="457.17"/><line x1="334.95" y1="457.17" x2="327.45" y2="457.17"/><line x1="51.40" y1="424.66" x2="58.90" y2="424.66"/><line x1="334.95" y1="424.66" x2="327.45" y2="424.66"/><line x1="51.40" y1="392.14" x2="58.90" y2="392.14"/><line x1="334.95" y1="392.14" x2="327.45" y2="392.14"/><line x1="51.40" y1="359.63" x2="58.90" y2="359.63"/><line x1="334.95" y1="359.63" x2="327.45" y2="359.63"/><line x1="51.40" y1="327.11" x2="58.90" y2="327.11"/><line x1="334.95" y1="327.11" x2="327.45" y2="327.11"/><line x1="51.40" y1="294.60" x2="58.90" y2="294.60"/><line x1="334.95" y1="294.60" x2="327.45" y2="294.60"/><line x1="51.40" y1="505.94" x2="55.10" y2="505.94"/><line x1="334.95" y1="505.94" x2="331.25" y2="505.94"/><line x1="51.40" y1="473.43" x2="55.10" y2="473.43"/><line x1="334.95" y1="473.43" x2="331.25" y2="473.43"/><line x1="51.40" y1="440.91" x2="55.10" y2="440.91"/><line x1="334.95" y1="440.91" x2="331.25" y2="440.91"/><line x1="51.40" y1="408.40" x2="55.10" y2="408.40"/><line x1="334.95" y1="408.40" x2="331.25" y2="408.40"/><line x1="51.40" y1="375.89" x2="55.10" y2="375.89"/><line x1="334.95" y1="375.89" x2="331.25" y2="375.89"/><line x1="51.40" y1="343.37" x2="55.10" y2="343.37"/><line x1="334.95" y1="343.37" x2="331.25" y2="343.37"/><line x1="51.40" y1="310.86" x2="55.10" y2="310.86"/><line x1="334.95" y1="310.86" x2="331.25" y2="310.86"/></g>
<rect x="51.40" y="294.60" width="283.55" height="227.60" fill="none" stroke="#000" stroke-width="2.6"/>
<g><text x="77.18" y="541.80" font-size="14" font-weight="bold" text-anchor="middle" >200</text><text x="128.73" y="541.80" font-size="14" font-weight="bold" text-anchor="middle" >400</text><text x="180.29" y="541.80" font-size="14" font-weight="bold" text-anchor="middle" >600</text><text x="231.84" y="541.80" font-size="14" font-weight="bold" text-anchor="middle" >800</text><text x="283.40" y="541.80" font-size="14" font-weight="bold" text-anchor="middle" >1000</text><text x="334.95" y="541.80" font-size="14" font-weight="bold" text-anchor="middle" >1200</text><text x="43.00" y="526.60" font-size="14" font-weight="bold" text-anchor="end" >350</text><text x="43.00" y="494.09" font-size="14" font-weight="bold" text-anchor="end" >400</text><text x="43.00" y="461.57" font-size="14" font-weight="bold" text-anchor="end" >450</text><text x="43.00" y="429.06" font-size="14" font-weight="bold" text-anchor="end" >500</text><text x="43.00" y="396.54" font-size="14" font-weight="bold" text-anchor="end" >550</text><text x="43.00" y="364.03" font-size="14" font-weight="bold" text-anchor="end" >600</text><text x="43.00" y="331.51" font-size="14" font-weight="bold" text-anchor="end" >650</text><text x="43.00" y="299.00" font-size="14" font-weight="bold" text-anchor="end" >700</text></g>
<g stroke="#000" stroke-width="2.3"><line x1="385.30" y1="522.30" x2="385.30" y2="514.80"/><line x1="385.30" y1="294.60" x2="385.30" y2="302.10"/><line x1="432.53" y1="522.30" x2="432.53" y2="514.80"/><line x1="432.53" y1="294.60" x2="432.53" y2="302.10"/><line x1="479.77" y1="522.30" x2="479.77" y2="514.80"/><line x1="479.77" y1="294.60" x2="479.77" y2="302.10"/><line x1="527.00" y1="522.30" x2="527.00" y2="514.80"/><line x1="527.00" y1="294.60" x2="527.00" y2="302.10"/><line x1="574.23" y1="522.30" x2="574.23" y2="514.80"/><line x1="574.23" y1="294.60" x2="574.23" y2="302.10"/><line x1="621.47" y1="522.30" x2="621.47" y2="514.80"/><line x1="621.47" y1="294.60" x2="621.47" y2="302.10"/><line x1="668.70" y1="522.30" x2="668.70" y2="514.80"/><line x1="668.70" y1="294.60" x2="668.70" y2="302.10"/><line x1="408.92" y1="522.30" x2="408.92" y2="518.60"/><line x1="408.92" y1="294.60" x2="408.92" y2="298.30"/><line x1="456.15" y1="522.30" x2="456.15" y2="518.60"/><line x1="456.15" y1="294.60" x2="456.15" y2="298.30"/><line x1="503.38" y1="522.30" x2="503.38" y2="518.60"/><line x1="503.38" y1="294.60" x2="503.38" y2="298.30"/><line x1="550.62" y1="522.30" x2="550.62" y2="518.60"/><line x1="550.62" y1="294.60" x2="550.62" y2="298.30"/><line x1="597.85" y1="522.30" x2="597.85" y2="518.60"/><line x1="597.85" y1="294.60" x2="597.85" y2="298.30"/><line x1="645.08" y1="522.30" x2="645.08" y2="518.60"/><line x1="645.08" y1="294.60" x2="645.08" y2="298.30"/><line x1="385.30" y1="501.60" x2="392.80" y2="501.60"/><line x1="668.70" y1="501.60" x2="661.20" y2="501.60"/><line x1="385.30" y1="460.20" x2="392.80" y2="460.20"/><line x1="668.70" y1="460.20" x2="661.20" y2="460.20"/><line x1="385.30" y1="418.80" x2="392.80" y2="418.80"/><line x1="668.70" y1="418.80" x2="661.20" y2="418.80"/><line x1="385.30" y1="377.40" x2="392.80" y2="377.40"/><line x1="668.70" y1="377.40" x2="661.20" y2="377.40"/><line x1="385.30" y1="336.00" x2="392.80" y2="336.00"/><line x1="668.70" y1="336.00" x2="661.20" y2="336.00"/><line x1="385.30" y1="294.60" x2="392.80" y2="294.60"/><line x1="668.70" y1="294.60" x2="661.20" y2="294.60"/><line x1="385.30" y1="522.30" x2="389.00" y2="522.30"/><line x1="668.70" y1="522.30" x2="665.00" y2="522.30"/><line x1="385.30" y1="480.90" x2="389.00" y2="480.90"/><line x1="668.70" y1="480.90" x2="665.00" y2="480.90"/><line x1="385.30" y1="439.50" x2="389.00" y2="439.50"/><line x1="668.70" y1="439.50" x2="665.00" y2="439.50"/><line x1="385.30" y1="398.10" x2="389.00" y2="398.10"/><line x1="668.70" y1="398.10" x2="665.00" y2="398.10"/><line x1="385.30" y1="356.70" x2="389.00" y2="356.70"/><line x1="668.70" y1="356.70" x2="665.00" y2="356.70"/><line x1="385.30" y1="315.30" x2="389.00" y2="315.30"/><line x1="668.70" y1="315.30" x2="665.00" y2="315.30"/></g>
<rect x="385.30" y="294.60" width="283.40" height="227.70" fill="none" stroke="#000" stroke-width="2.6"/>
<g><text x="385.30" y="541.90" font-size="14" font-weight="bold" text-anchor="middle" >0</text><text x="432.53" y="541.90" font-size="14" font-weight="bold" text-anchor="middle" >200</text><text x="479.77" y="541.90" font-size="14" font-weight="bold" text-anchor="middle" >400</text><text x="527.00" y="541.90" font-size="14" font-weight="bold" text-anchor="middle" >600</text><text x="574.23" y="541.90" font-size="14" font-weight="bold" text-anchor="middle" >800</text><text x="621.47" y="541.90" font-size="14" font-weight="bold" text-anchor="middle" >1000</text><text x="668.70" y="541.90" font-size="14" font-weight="bold" text-anchor="middle" >1200</text><text x="376.90" y="506.00" font-size="14" font-weight="bold" text-anchor="end" >1.6</text><text x="376.90" y="464.60" font-size="14" font-weight="bold" text-anchor="end" >1.7</text><text x="376.90" y="423.20" font-size="14" font-weight="bold" text-anchor="end" >1.8</text><text x="376.90" y="381.80" font-size="14" font-weight="bold" text-anchor="end" >1.9</text><text x="376.90" y="340.40" font-size="14" font-weight="bold" text-anchor="end" >2.0</text><text x="376.90" y="299.00" font-size="14" font-weight="bold" text-anchor="end" >2.1</text></g>
<text x="193.17" y="267.20" font-size="14" font-weight="bold" text-anchor="middle" >T(K)</text>
<text x="527.00" y="267.20" font-size="14" font-weight="bold" text-anchor="middle" >T(K)</text>
<text x="193.17" y="555.10" font-size="14" font-weight="bold" text-anchor="middle" >T(K)</text>
<text x="527.00" y="555.20" font-size="14" font-weight="bold" text-anchor="middle" >T(K)</text>
<text transform="translate(19.6,120.2) rotate(-90)" font-size="14" font-weight="bold" text-anchor="middle">C<tspan font-size="10.5" dy="3">V</tspan><tspan dy="-3">(J/molK)</tspan></text>
<text transform="translate(350.6,118.7) rotate(-90)" font-size="14.3" text-anchor="middle"><tspan font-style="italic">α</tspan><tspan font-weight="bold">(10</tspan><tspan font-weight="bold" font-size="12" dy="-6.5">−5</tspan><tspan font-weight="bold" dy="6.5">/K)</tspan></text>
<text transform="translate(11.6,407.9) rotate(-90)" font-size="14.8" text-anchor="middle">θ<tspan font-size="11" font-weight="bold" dy="3">D</tspan><tspan font-weight="bold" dy="-3">(K)</tspan></text>
<text transform="translate(352.2,408.2) rotate(-90)" font-size="14.5" text-anchor="middle">γ</text>
<text x="65.90" y="50.80" font-size="23" font-weight="bold" text-anchor="start" >(a)</text>
<text x="394.20" y="42.00" font-size="23" font-weight="bold" text-anchor="start" >(b)</text>
<text x="79.40" y="316.00" font-size="23" font-weight="bold" text-anchor="start" >(c)</text>
<text x="405.80" y="320.00" font-size="23" font-weight="bold" text-anchor="start" >(d)</text>
<rect x="255.5" y="54.5" width="65.0" height="98.0" fill="#fff" stroke="#555" stroke-width="1"/><line x1="256.6" y1="62.30" x2="282" y2="62.30" stroke="#000000" stroke-width="2.1"/><rect x="266.00" y="58.50" width="7.60" height="7.60" fill="#000000"/><text x="284.40" y="66.30" font-size="11" font-weight="bold" text-anchor="start" >0GPa</text><line x1="256.6" y1="76.00" x2="282" y2="76.00" stroke="#FF0000" stroke-width="2.1"/><circle cx="269.80" cy="76.00" r="4.20" fill="#FF0000"/><text x="284.40" y="80.00" font-size="11" font-weight="bold" text-anchor="start" >15 GPa</text><line x1="256.6" y1="89.70" x2="282" y2="89.70" stroke="#0000FF" stroke-width="2.1"/><polygon points="269.80,84.42 274.80,93.22 264.80,93.22" fill="#0000FF"/><text x="284.40" y="93.70" font-size="11" font-weight="bold" text-anchor="start" >30GPa</text><line x1="256.6" y1="103.40" x2="282" y2="103.40" stroke="#008000" stroke-width="2.1"/><polygon points="269.80,108.68 274.80,99.88 264.80,99.88" fill="#008000"/><text x="284.40" y="107.40" font-size="11" font-weight="bold" text-anchor="start" >45GPa</text><line x1="256.6" y1="117.10" x2="282" y2="117.10" stroke="#800080" stroke-width="2.1"/><polygon points="269.80,112.10 274.80,117.10 269.80,122.10 264.80,117.10" fill="#800080"/><text x="284.40" y="121.10" font-size="11" font-weight="bold" text-anchor="start" >60GPa</text><line x1="256.6" y1="130.80" x2="282" y2="130.80" stroke="#FF8000" stroke-width="2.1"/><polygon points="264.52,130.80 273.32,125.80 273.32,135.80" fill="#FF8000"/><text x="284.40" y="134.80" font-size="11" font-weight="bold" text-anchor="start" >75GPa</text><line x1="256.6" y1="144.50" x2="282" y2="144.50" stroke="#00FFFF" stroke-width="2.1"/><polygon points="275.08,144.50 266.28,139.50 266.28,149.50" fill="#00FFFF"/><text x="284.40" y="148.50" font-size="11" font-weight="bold" text-anchor="start" >90GPa</text></svg></body></html>
